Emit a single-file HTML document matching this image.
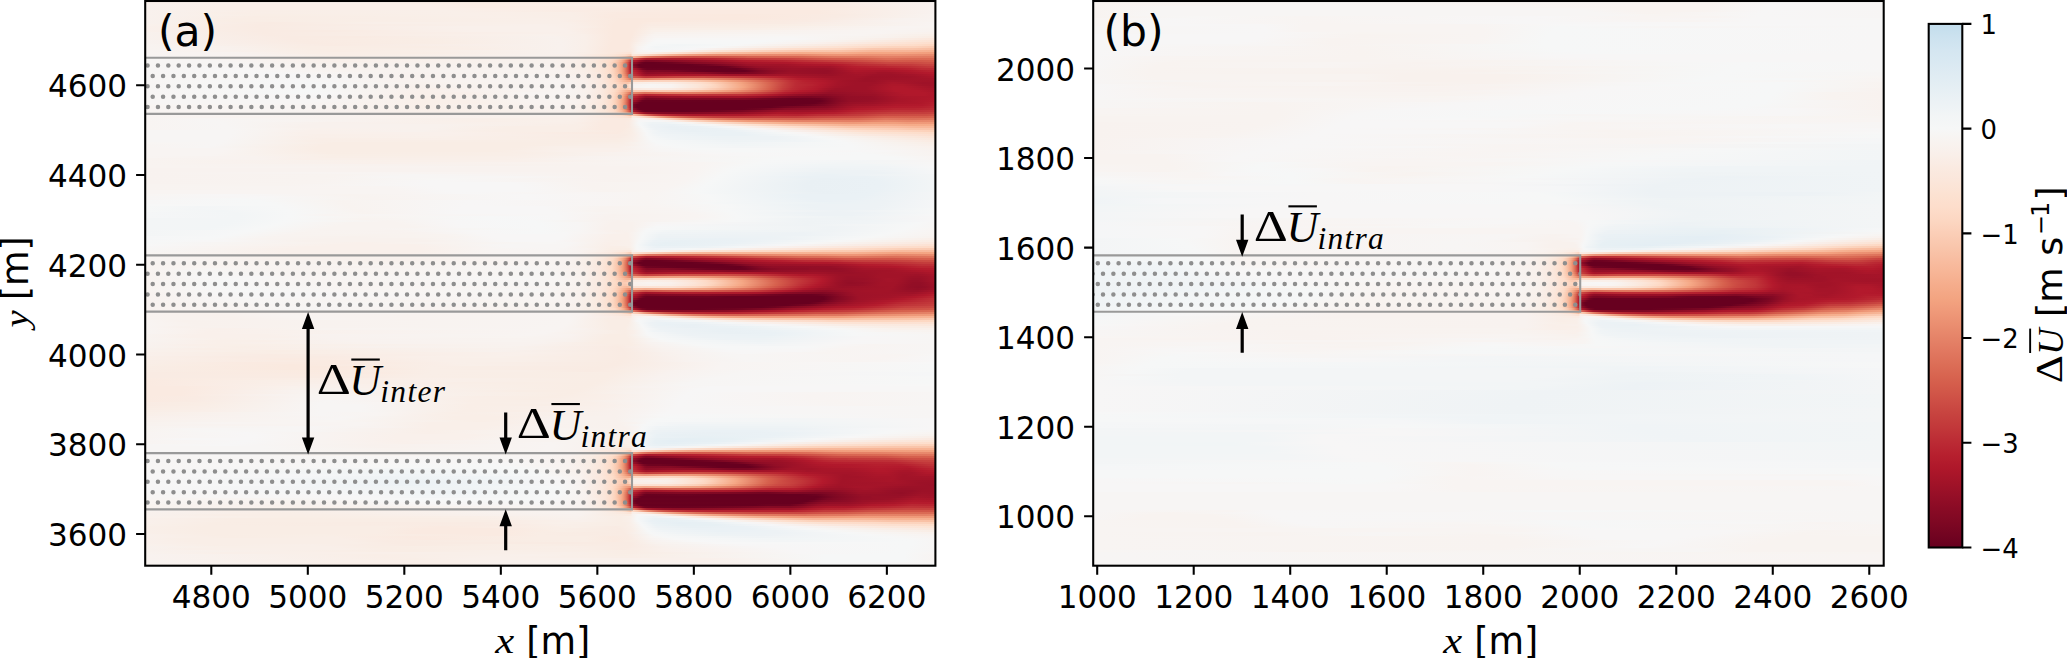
<!DOCTYPE html>
<html><head><meta charset="utf-8"><title>Wake velocity deficit</title>
<style>
html,body{margin:0;padding:0;background:#fff}
#fig{position:relative;width:2067px;height:658px;overflow:hidden;background:#fff}
.hm{position:absolute;overflow:hidden}
.hm i{display:block;height:2px}
#fig svg{position:absolute;left:0;top:0}
</style></head><body>
<div id="fig">
<div class="hm" style="left:145px;top:0;width:791px;height:566px">
<i style="background:linear-gradient(90deg,#f9f0eb 0px,#f9f0eb 220px,#f9ede5 327px,#f9ede5 700px,#f8f2ef 791px)"></i>
<i style="background:linear-gradient(90deg,#f9f0eb 0px,#f9f0eb 199px,#f9ede5 326px,#f9ece4 681px,#f8f2ef 791px)"></i>
<i style="background:linear-gradient(90deg,#f8f1ed 0px,#f9efe9 95px,#f9efe9 281px,#f9ede5 330px,#f9eee7 435px,#f9ebe3 690px,#f8f2ef 791px)"></i>
<i style="background:linear-gradient(90deg,#f8f1ed 0px,#f9efe9 79px,#f9efe9 284px,#f9ede5 338px,#f9ebe3 699px,#f8f2ef 791px)"></i>
<i style="background:linear-gradient(90deg,#f8f1ed 0px,#f9efe9 71px,#f9efe9 291px,#f9ebe3 462px,#faebe2 666px,#f9ede5 722px,#f8f2ef 791px)"></i>
<i style="background:linear-gradient(90deg,#f8f1ed 0px,#f9eee7 112px,#f9efe9 299px,#faeae1 534px,#faeae1 672px,#f8f2ef 791px)"></i>
<i style="background:linear-gradient(90deg,#f8f1ed 0px,#f9eee7 94px,#f9efe9 311px,#f9eee7 425px,#faeae1 475px,#faeae1 674px,#f8f2ef 791px)"></i>
<i style="background:linear-gradient(90deg,#f8f1ed 0px,#f9eee6 121px,#f9efe9 328px,#f9eee7 428px,#faeae1 467px,#fae9df 595px,#f9ebe3 695px,#f8f3f0 791px)"></i>
<i style="background:linear-gradient(90deg,#f8f1ed 0px,#f9ede5 110px,#f9efe9 352px,#f9eee7 431px,#faeae1 463px,#fae9df 609px,#f9ebe3 689px,#f8f3f0 791px)"></i>
<i style="background:linear-gradient(90deg,#f8f1ed 0px,#f9ede5 98px,#f9efe9 393px,#f9eee7 433px,#fae9df 480px,#fae9df 597px,#f9ebe3 679px,#f8f2ef 760px,#f8f3f0 791px)"></i>
<i style="background:linear-gradient(90deg,#f8f1ed 0px,#f9ede5 90px,#f9efe9 413px,#fae9df 473px,#fae9df 494px,#f9ebe3 664px,#f8f2ef 751px,#f8f3f0 791px)"></i>
<i style="background:linear-gradient(90deg,#f8f1ed 0px,#f9ebe3 126px,#f9efe9 230px,#f9efe9 422px,#fae9df 471px,#fae9df 494px,#faebe2 507px,#f9ebe3 638px,#f8f4f2 791px)"></i>
<i style="background:linear-gradient(90deg,#f9f1ec 0px,#f9ebe3 115px,#f9f0eb 391px,#f9efe9 427px,#fae9df 469px,#fae9df 492px,#f9ebe3 503px,#f9eee6 655px,#f8f4f2 791px)"></i>
<i style="background:linear-gradient(90deg,#f9f0eb 0px,#f9ebe3 112px,#f9f0eb 314px,#f9f0eb 409px,#f9eee7 441px,#fae9df 468px,#fae9df 491px,#f9ede5 506px,#f9eee6 611px,#f8f4f2 760px,#f8f4f1 791px)"></i>
<i style="background:linear-gradient(90deg,#f9f0eb 0px,#f9ebe3 117px,#f9f0eb 321px,#f9f0eb 418px,#fae9df 468px,#fae9df 489px,#f9efe8 509px,#f9efe8 595px,#f8f4f2 748px,#f8f3f0 791px)"></i>
<i style="background:linear-gradient(90deg,#f9f0eb 0px,#f9ebe3 115px,#f9ebe3 184px,#f9f0eb 329px,#f9f0eb 423px,#fae9df 468px,#fae9df 488px,#f9f0ea 507px,#f8f4f2 729px,#f8f2ef 791px)"></i>
<i style="background:linear-gradient(90deg,#f8f1ed 0px,#f9ebe3 120px,#f9f0eb 426px,#fae9df 468px,#fae9df 487px,#f8f2ee 511px,#f8f4f2 734px,#f9f1ec 791px)"></i>
<i style="background:linear-gradient(90deg,#f8f1ed 0px,#f9ebe3 127px,#f9f1ec 405px,#f9efe9 439px,#fae9df 468px,#fae9df 487px,#f8f3f0 508px,#f8f5f3 624px,#f8f4f2 718px,#f9efe8 791px)"></i>
<i style="background:linear-gradient(90deg,#f8f1ed 0px,#f9ebe3 142px,#f9ebe3 213px,#f8f1ed 409px,#f9efe9 440px,#fae9df 467px,#fae9df 486px,#f8f2ef 503px,#f8f4f2 510px,#f7f6f5 644px,#f8f2ee 741px,#faece3 791px)"></i>
<i style="background:linear-gradient(90deg,#f8f1ed 0px,#f9ebe3 148px,#f9ede5 275px,#f8f1ed 413px,#f9efe9 440px,#fae9df 467px,#fae9df 485px,#f8f2ef 501px,#f7f6f5 512px,#f7f6f6 650px,#f8f2ee 717px,#fbe7dc 791px)"></i>
<i style="background:linear-gradient(90deg,#f8f2ef 0px,#f9ebe3 155px,#f9ede5 283px,#f8f1ed 415px,#f9efe9 441px,#fae9df 467px,#fae9df 485px,#f8f2ef 499px,#f7f7f7 510px,#f6f7f7 618px,#f8f2ee 692px,#fce3d4 791px)"></i>
<i style="background:linear-gradient(90deg,#f8f2ef 0px,#f9ebe3 167px,#f9ede5 288px,#f8f1ed 416px,#f9efe9 441px,#fae9df 466px,#fae9df 484px,#f9f1ec 494px,#f6f7f7 507px,#f6f7f7 607px,#f9f1ed 670px,#fddecc 791px)"></i>
<i style="background:linear-gradient(90deg,#f8f3f0 0px,#f9ebe3 186px,#f8f1ed 417px,#f9efe9 441px,#fae9df 466px,#fae9df 484px,#f9f1ec 492px,#f6f7f7 504px,#f2f5f6 533px,#f6f7f7 591px,#fae9df 691px,#fce2d3 722px,#fdddca 769px,#fdd6c0 791px)"></i>
<i style="background:linear-gradient(90deg,#f8f3f0 0px,#f8f1ed 77px,#f9ede5 153px,#f9ede5 278px,#f8f1ed 416px,#f9efe9 440px,#fae9df 465px,#fae9df 484px,#f8f3f0 493px,#f6f7f7 502px,#f2f5f6 511px,#f6f7f7 569px,#fde0cf 703px,#fcd5bf 745px,#fcd2bb 770px,#fac9b0 791px)"></i>
<i style="background:linear-gradient(90deg,#f8f3f0 0px,#f8f2ef 64px,#f9ede5 167px,#f9eee7 324px,#f8f1ed 416px,#f9efe9 440px,#fae9df 464px,#fae9df 480px,#faeae1 486px,#f8f2ef 492px,#f7f6f6 499px,#f3f5f6 514px,#f6f6f7 547px,#fddfce 644px,#fdd7c2 695px,#fac8af 728px,#f9c4aa 767px,#f8bca0 791px)"></i>
<i style="background:linear-gradient(90deg,#f8f4f2 0px,#f9ede5 191px,#f8f1ed 417px,#f9efe9 440px,#fae9df 462px,#fae8dd 483px,#fae9e0 486px,#f8f3f0 493px,#f6f6f7 511px,#f8f3f0 535px,#fbe5d8 570px,#facab1 645px,#fac6ac 661px,#f9c5ab 692px,#f7b799 727px,#f7b597 764px,#f6ae8d 791px)"></i>
<i style="background:linear-gradient(90deg,#f8f4f2 0px,#f8f2ef 93px,#f9eee7 167px,#f9eee7 274px,#f8f1ed 416px,#f9eee7 444px,#fce4d6 484px,#fce4d6 486px,#f9ebe3 487px,#f9efe8 490px,#f9f1ec 496px,#f9f1ec 504px,#fce3d5 531px,#f9c5ab 572px,#f7b394 620px,#f5ad8c 655px,#f6b090 695px,#f4a684 723px,#f4a684 753px,#f19d7c 791px)"></i>
<i style="background:linear-gradient(90deg,#f8f4f2 0px,#f8f2ef 105px,#f9eee7 196px,#f8f1ed 394px,#f9f0eb 429px,#fbe6d9 468px,#fddecc 480px,#fbd1ba 486px,#fbe6da 487px,#fbe4d7 492px,#fbdece 498px,#f8bda1 519px,#f5af91 529px,#f1a283 540px,#ec9274 562px,#ea8e71 574px,#e88a6d 657px,#ed9475 680px,#ed9576 703px,#ec9173 714px,#ec9274 753px,#e88a6d 791px)"></i>
<i style="background:linear-gradient(90deg,#f7f5f4 0px,#f9efe9 174px,#f8f1ed 388px,#f9efe9 434px,#fbe7db 460px,#fddecc 472px,#fdd9c4 475px,#fac7ae 480px,#f8bda0 482px,#f09f7f 486px,#f8ba9d 487px,#f5b194 490px,#e6866a 499px,#e37e65 501px,#dd705b 507px,#d1584b 526px,#ce4f45 549px,#cf5247 573px,#d55d4d 601px,#d6604f 602px,#d96652 653px,#e0775f 689px,#e17960 724px,#e47f65 739px,#e17a61 791px)"></i>
<i style="background:linear-gradient(90deg,#f7f5f4 0px,#f9f0ea 190px,#f8f1ed 406px,#f9efe9 431px,#fae8dd 454px,#fcdfce 466px,#fdd9c5 470px,#fcd0b8 473px,#f8bda0 477px,#f4a988 480px,#ee9677 482px,#e27c62 484px,#d35a4c 486px,#c43c3c 493px,#bb2b34 496px,#b0202f 499px,#a91b2c 502px,#a9182b 512px,#ac192b 534px,#b72230 569px,#c2393a 602px,#c8423f 645px,#d25649 678px,#d6604e 716px,#dc6e58 743px,#da6a54 760px,#db6b55 791px)"></i>
<i style="background:linear-gradient(90deg,#f7f5f4 0px,#f7f5f4 66px,#f9f0eb 190px,#f8f1ed 407px,#f9efe9 431px,#fae9df 449px,#fdddcb 465px,#fdd8c3 468px,#f9c4aa 473px,#f6ad8c 477px,#f09a7a 479px,#df735c 482px,#ce5045 484px,#b82331 486px,#b11c2d 487px,#ab162a 491px,#8d0c26 496px,#7c0723 501px,#a41429 575px,#b41c2d 598px,#b92531 638px,#d45c4b 745px,#d3594a 772px,#d55d4c 791px)"></i>
<i style="background:linear-gradient(90deg,#f7f5f4 0px,#f7f5f4 82px,#f8f1ed 175px,#f8f1ed 411px,#f9efe9 431px,#fae9df 449px,#fbe3d4 459px,#fddcc9 465px,#fac9b0 471px,#f7b99c 474px,#f4a582 477px,#e48166 480px,#ce4f45 483px,#b72230 485px,#a21329 486px,#960f27 487px,#8c0c25 491px,#6f0320 496px,#67001f 499px,#67001f 509px,#6f0320 526px,#850a24 551px,#8f0d26 570px,#a8152a 603px,#af182b 644px,#b51e2e 657px,#b92531 683px,#ca4842 741px,#cb4a43 767px,#ce5146 783px,#ce4f45 791px)"></i>
<i style="background:linear-gradient(90deg,#f7f5f4 0px,#f7f5f4 96px,#f8f1ed 216px,#f8f2ef 389px,#f8f1ed 416px,#f9ede5 441px,#fbe6da 455px,#fcdfcf 462px,#fcd7c2 467px,#f9c4a9 472px,#f5aa89 476px,#e98b6e 479px,#dc6e57 481px,#cb4942 483px,#b41b2d 485px,#991027 486px,#860a24 487px,#7e0823 490px,#67001f 494px,#67001f 544px,#700321 561px,#9c1128 602px,#a11328 615px,#a11328 638px,#ab162a 659px,#af182b 686px,#b51c2d 696px,#bc2b34 713px,#c03438 741px,#c2373a 742px,#c43b3c 766px,#c84440 780px,#c84440 791px)"></i>
<i style="background:linear-gradient(90deg,#f7f5f4 0px,#f7f6f6 59px,#f8f2ef 190px,#f8f2ef 404px,#f9ede5 442px,#fae8de 452px,#fcdfcf 462px,#fddbc7 466px,#f9c4a9 472px,#f5aa89 476px,#e98b6e 479px,#dc6e57 481px,#cb4942 483px,#b41b2d 485px,#991027 486px,#900d26 487px,#900d26 488px,#870a24 490px,#6f0320 494px,#67001f 496px,#67001f 575px,#6f0320 584px,#870a24 598px,#960f27 612px,#a11328 655px,#a21329 685px,#b51c2d 707px,#bd2d35 764px,#c3393b 784px,#c13639 791px)"></i>
<i style="background:linear-gradient(90deg,#f7f5f4 0px,#f7f6f6 81px,#f8f2ef 222px,#f8f2ef 413px,#f9ede5 443px,#fbe6da 456px,#fddbc7 466px,#f9c4a9 472px,#f7b99c 474px,#f3a481 477px,#e37e64 480px,#d55d4c 482px,#c03539 484px,#b41c2d 485px,#9b1127 486px,#ac172b 487px,#a81529 489px,#a11328 491px,#730421 498px,#6a0120 502px,#67001f 592px,#890b25 614px,#950f27 629px,#9b1127 649px,#981027 678px,#9e1228 689px,#ad172a 702px,#b2192c 711px,#b31a2c 746px,#b72230 766px,#bc2b34 777px,#bc2c35 791px)"></i>
<i style="background:linear-gradient(90deg,#f7f5f4 0px,#f7f6f6 100px,#f8f3f0 198px,#f8f3f0 399px,#f8f2ef 418px,#f9eee7 441px,#fbe4d6 459px,#fdddcb 465px,#fcd3bc 469px,#f8bfa4 473px,#f6b394 475px,#f3a481 477px,#ea8e70 479px,#cd4e45 483px,#b7212f 485px,#9e1228 486px,#b92531 487px,#b61f2f 490px,#af182b 492px,#8c0c25 498px,#800823 502px,#820923 514px,#7f0823 515px,#7d0723 527px,#700321 544px,#67001f 563px,#67001f 600px,#7e0823 614px,#8c0c25 626px,#991027 646px,#960f27 683px,#ad172a 710px,#a8152a 739px,#b1182b 764px,#b72230 784px,#b72230 791px)"></i>
<i style="background:linear-gradient(90deg,#f7f5f4 0px,#f7f6f6 122px,#f8f2ef 262px,#f8f3f0 409px,#f9efe9 439px,#fae8de 454px,#fcdfce 464px,#fcd7c2 468px,#f9c2a7 473px,#f5a785 477px,#e58368 480px,#cf5247 483px,#ba2833 485px,#a8152a 486px,#be2f36 487px,#b82431 491px,#b31a2c 493px,#950f27 499px,#8d0c26 502px,#920e26 515px,#900d26 544px,#880b25 561px,#770522 582px,#770522 593px,#7f0823 609px,#950f27 633px,#9b1127 645px,#960f27 681px,#a81529 711px,#a41429 731px,#a11328 732px,#a11328 745px,#b2192c 780px,#b41b2d 791px)"></i>
<i style="background:linear-gradient(90deg,#f7f5f4 0px,#f7f6f6 148px,#f8f2ef 264px,#f8f4f1 393px,#f9f0eb 437px,#fbe5d8 459px,#fcdecd 465px,#fcd5bf 469px,#f7b89b 475px,#f2a17f 478px,#e98a6d 480px,#dc6e57 482px,#cc4b43 484px,#b61f2f 486px,#c2373a 487px,#c2373a 488px,#b92632 493px,#ab162a 497px,#9f1228 501px,#ab162a 529px,#ab182b 563px,#a21329 586px,#9f1228 610px,#a41429 640px,#9b1127 687px,#a21328 699px,#a41429 718px,#9e1228 729px,#9e1228 747px,#a41429 768px,#b0182b 791px)"></i>
<i style="background:linear-gradient(90deg,#f7f5f4 0px,#f7f6f6 169px,#f8f2ef 263px,#f8f4f2 402px,#f8f2ef 429px,#f9efe9 442px,#fae7dc 457px,#fcdfce 465px,#fcd4be 470px,#f8bca0 475px,#f2a07e 479px,#dd6f59 483px,#c53e3d 486px,#d2594b 487px,#d2594b 488px,#cc4c44 493px,#c3393a 498px,#c03338 501px,#c84440 531px,#c94641 560px,#c7433f 561px,#c7413f 572px,#c03338 602px,#b7212f 633px,#ab162a 652px,#a11328 680px,#a21328 713px,#9c1127 726px,#9f1228 764px,#aa162a 791px)"></i>
<i style="background:linear-gradient(90deg,#f7f5f4 0px,#f7f6f6 182px,#f8f2ef 259px,#f8f4f2 411px,#f9f0eb 440px,#fae8de 456px,#fddac6 469px,#fac7ae 474px,#f7b292 478px,#f4a684 480px,#dd715a 486px,#ee987a 487px,#ed9779 491px,#e7866a 500px,#eb8f72 514px,#ec9274 541px,#e7886c 562px,#da6a55 593px,#c43c3c 631px,#bb2933 642px,#b51c2d 653px,#b0182b 670px,#a41429 688px,#a21328 708px,#9c1127 721px,#a41429 791px)"></i>
<i style="background:linear-gradient(90deg,#f7f5f4 0px,#f6f7f7 155px,#f8f2ef 255px,#f8f4f2 416px,#f9f0eb 441px,#fae8de 457px,#fdddcb 468px,#fbcdb6 474px,#f6af8e 482px,#f4a989 485px,#f4aa8a 486px,#fbd5c0 487px,#fbd1bb 497px,#fbd4c0 510px,#fbd4bf 528px,#facbb3 547px,#f6af8e 575px,#f09d7c 586px,#ec9173 594px,#da6953 616px,#be2f36 646px,#b7212f 658px,#b0182b 678px,#a21328 698px,#9c1127 720px,#9c1127 728px,#a41429 743px,#a11328 791px)"></i>
<i style="background:linear-gradient(90deg,#f7f5f4 0px,#f6f7f7 166px,#f8f2ee 278px,#f8f4f2 419px,#f9f0eb 442px,#fae7dc 459px,#fddcc9 470px,#fbcab2 477px,#f9c5ab 482px,#facab1 484px,#fcd5c1 486px,#faece4 487px,#f9efe9 506px,#faece4 528px,#fddecd 556px,#fdd7c2 564px,#fac5ab 576px,#f3a481 596px,#d86450 624px,#c13639 644px,#bb2a34 651px,#b82531 657px,#b3192c 678px,#a51429 693px,#9f1228 709px,#9f1228 730px,#aa162a 748px,#9f1228 778px,#9f1228 791px)"></i>
<i style="background:linear-gradient(90deg,#f7f5f4 0px,#f6f7f7 171px,#f8f1ed 272px,#f8f4f2 422px,#f9f0eb 443px,#fae7dc 460px,#fddbc7 472px,#fbcfb8 478px,#fbcfb8 481px,#fddbc8 484px,#fbe7db 486px,#f8f2ef 487px,#f7f5f4 506px,#f8f3f0 526px,#fbe6d9 552px,#fddcc9 565px,#fcd4be 571px,#f5a886 596px,#eb9172 607px,#dc6e57 621px,#c53e3d 640px,#bb2a34 651px,#b72230 667px,#b3192c 676px,#a51429 692px,#9f1228 709px,#9f1228 725px,#ad172a 746px,#ad172a 758px,#a21328 777px,#9f1228 791px)"></i>
<i style="background:linear-gradient(90deg,#f7f5f4 0px,#f6f7f7 173px,#f8f1ed 264px,#f8f4f2 423px,#f8f1ed 440px,#fae7dc 460px,#fddbc7 472px,#fcd2bb 476px,#fbceb7 479px,#fbceb7 481px,#fcd5bf 483px,#fbe5d8 486px,#f8f2ee 487px,#f8f3f0 488px,#f8f5f3 502px,#f8f3f0 526px,#fbe6d9 552px,#fcd4be 571px,#f3a481 599px,#d86551 624px,#c6413e 638px,#bb2a34 650px,#b2192c 675px,#a41429 689px,#9f1228 702px,#9f1228 721px,#b0182b 749px,#b0182b 758px,#a11328 791px)"></i>
<i style="background:linear-gradient(90deg,#f7f5f4 0px,#f6f7f7 170px,#f9f0eb 292px,#f8f4f2 373px,#f8f4f2 424px,#f9f0eb 444px,#fae7dc 460px,#fddbc7 471px,#fbcab2 477px,#f9c3a8 481px,#fac5ab 484px,#fbd1ba 486px,#faeae1 487px,#faece5 508px,#faebe3 525px,#fddcca 556px,#f9c2a7 577px,#f4a583 595px,#d7624e 624px,#c53d3d 638px,#bc2c35 647px,#b82431 655px,#b2192c 672px,#a71529 680px,#9e1228 691px,#9f1228 721px,#b1182b 748px,#b1182b 762px,#a51429 791px)"></i>
<i style="background:linear-gradient(90deg,#f7f5f4 0px,#f6f7f7 164px,#f9f0eb 275px,#f8f4f2 424px,#f9f0eb 444px,#fae8de 458px,#fdddca 469px,#fcd2bb 473px,#f4a887 483px,#f2a181 485px,#f1a181 486px,#fbccb4 487px,#fbccb4 491px,#fac6ac 499px,#fbcbb3 513px,#fac7ae 539px,#f5ae8d 570px,#ec9374 591px,#dd6f59 611px,#d35b4b 620px,#bd2d35 641px,#b51c2d 655px,#ae172b 669px,#9b1127 686px,#9f1228 725px,#b1182b 751px,#b1182b 773px,#a81529 791px)"></i>
<i style="background:linear-gradient(90deg,#f7f5f4 0px,#f6f7f7 150px,#f7f6f6 185px,#f9f0eb 268px,#f9f0eb 323px,#f8f4f2 380px,#f8f4f2 423px,#f8f1ed 440px,#fae8de 458px,#fddbc7 469px,#fbcdb6 473px,#f7b394 478px,#f09c7b 481px,#d96854 486px,#e8896d 487px,#e7886c 490px,#de725b 500px,#e47f65 523px,#e47f65 547px,#de735c 572px,#d66250 595px,#cb4b43 613px,#b61f2f 639px,#ad172a 649px,#950f27 684px,#9e1228 728px,#b1182b 758px,#b1182b 779px,#ab162a 791px)"></i>
<i style="background:linear-gradient(90deg,#f7f5f4 0px,#f7f6f6 179px,#f9f0eb 263px,#f9f0eb 329px,#f8f4f2 385px,#f8f4f2 421px,#f8f1ed 440px,#fae7dc 459px,#fcdfcf 466px,#fddac6 469px,#f9c5ab 474px,#f6b293 477px,#f2a17f 479px,#dd6f59 483px,#c43c3c 486px,#cc4b43 487px,#ca4842 489px,#c6403e 492px,#bd2d35 496px,#b52330 500px,#bc2a34 516px,#c03539 543px,#be3037 597px,#b6202f 618px,#aa162a 632px,#a41429 635px,#930e26 654px,#8a0b25 679px,#981027 707px,#9b1127 730px,#aa162a 748px,#b0182b 763px,#b1182b 779px,#ab162a 791px)"></i>
<i style="background:linear-gradient(90deg,#f7f5f4 0px,#f7f6f6 168px,#f9efe9 288px,#f8f4f2 418px,#f9f0eb 443px,#fbe6da 460px,#fdd9c4 469px,#f9c2a7 474px,#f6ae8d 477px,#f09b7a 479px,#d6604e 483px,#b61f2f 486px,#bb2b34 487px,#b41d2e 492px,#a51429 495px,#8c0c25 501px,#991027 527px,#991027 536px,#9c1128 537px,#a11329 595px,#9c1128 609px,#7d0723 646px,#790622 665px,#7f0823 681px,#930e26 702px,#960f27 727px,#ab162a 757px,#ae172a 791px)"></i>
<i style="background:linear-gradient(90deg,#f7f5f4 0px,#f7f6f6 145px,#f9efe9 281px,#f8f4f2 410px,#f9f0eb 442px,#fbe5d8 461px,#fdddcb 467px,#fcd5bf 470px,#f9c6ac 473px,#f3a380 478px,#e8896c 480px,#db6a54 482px,#bc2c35 485px,#ab162a 486px,#b11a2c 487px,#ad172a 490px,#850a24 497px,#780622 500px,#750521 502px,#7f0823 527px,#7d0723 599px,#6c0220 632px,#67001f 652px,#69011f 667px,#6d0220 675px,#8d0c25 697px,#930e26 704px,#960f27 729px,#a81529 754px,#b0182b 791px)"></i>
<i style="background:linear-gradient(90deg,#f7f5f4 0px,#f7f5f4 175px,#f9efe9 278px,#f9efe9 318px,#f8f3f0 381px,#f8f3f0 424px,#f9f0eb 441px,#fae8de 457px,#fcdecd 466px,#fcd3bc 470px,#f8bfa4 474px,#f2a17f 478px,#e17860 481px,#d05447 483px,#b92732 485px,#a51429 486px,#930e26 491px,#6d0220 497px,#69011f 499px,#67001f 675px,#840924 691px,#930e26 704px,#981027 726px,#a81529 754px,#b3192c 791px)"></i>
<i style="background:linear-gradient(90deg,#f7f5f4 0px,#f7f5f4 158px,#f9efe9 278px,#f9efe9 322px,#f8f3f0 390px,#f8f2ef 429px,#f9f0eb 440px,#fae7dc 458px,#fcdecd 466px,#fcd3bc 470px,#f7b99c 475px,#f5a988 477px,#e6866a 480px,#cf5246 483px,#b82531 485px,#a21328 486px,#890b25 487px,#850a24 489px,#67001f 495px,#67001f 670px,#750521 681px,#8f0d26 696px,#981027 705px,#9e1228 730px,#aa162a 750px,#ae172a 774px,#b51e2e 791px)"></i>
<i style="background:linear-gradient(90deg,#f8f5f3 0px,#f8f4f2 184px,#f9efe9 280px,#f8f3f0 413px,#f9efe9 442px,#fae8de 456px,#fcdfcf 465px,#fcd7c2 469px,#facab1 472px,#f6b191 476px,#f19e7d 478px,#e6866a 480px,#d86551 482px,#b82531 485px,#a21328 486px,#7b0722 487px,#760522 489px,#67001f 492px,#67001f 648px,#6f0320 666px,#7c0723 679px,#981027 699px,#a11328 710px,#a41429 727px,#b0182b 751px,#b2192c 777px,#b7212f 791px)"></i>
<i style="background:linear-gradient(90deg,#f8f4f2 0px,#f8f4f2 169px,#f9efe9 284px,#f8f2ef 420px,#f9ede5 447px,#fae7dc 457px,#fcdfcf 465px,#fcd7c2 469px,#facab1 472px,#f6b191 476px,#f2a07e 478px,#e6866a 480px,#d86551 482px,#d05447 483px,#b92732 485px,#a41429 486px,#7b0722 487px,#760522 489px,#67001f 492px,#67001f 626px,#790622 646px,#8a0b25 682px,#a41429 704px,#aa162a 714px,#b41b2d 748px,#b51e2e 776px,#b92732 791px)"></i>
<i style="background:linear-gradient(90deg,#f8f4f2 0px,#f8f4f2 148px,#f9efe9 290px,#f8f2ee 416px,#f9f0eb 435px,#f9ede5 446px,#fae7dc 457px,#fcdfcf 465px,#fddbc7 468px,#fbcbb3 472px,#f9c1a6 474px,#f3a481 478px,#ef9979 479px,#dc6e57 482px,#ca4741 484px,#af182b 486px,#8a0b25 487px,#820923 490px,#6d0220 493px,#67001f 495px,#67001f 598px,#6f0320 614px,#8a0b25 640px,#960f27 682px,#b1182b 711px,#b51c2d 731px,#b92531 750px,#b92531 769px,#bc2c35 791px)"></i>
<i style="background:linear-gradient(90deg,#f8f4f2 0px,#f8f4f2 129px,#f9efe9 301px,#f8f1ed 424px,#f9ede5 446px,#fbe5d7 461px,#fdddca 468px,#fcd5bf 471px,#f7b698 477px,#f09c7b 480px,#eb9072 481px,#d6604e 484px,#c13639 486px,#a8152a 487px,#a41429 489px,#700321 497px,#67001f 500px,#67001f 538px,#6f0320 574px,#7a0622 595px,#9b1128 634px,#9f1228 663px,#a8152a 689px,#b51c2d 704px,#b72230 713px,#be3037 750px,#be3037 775px,#c13639 791px)"></i>
<i style="background:linear-gradient(90deg,#f8f4f2 0px,#f8f4f2 118px,#f9f0ea 309px,#f8f1ed 421px,#f9ede5 447px,#fbe6d9 462px,#fce1d1 468px,#fdd8c3 473px,#fac7ae 477px,#f7b698 480px,#f3a685 482px,#e48166 485px,#d56051 487px,#c03338 493px,#ad212f 496px,#9d1228 499px,#910e26 502px,#850a24 511px,#800823 524px,#820924 545px,#930e26 595px,#ad172a 634px,#ab162a 653px,#af182b 667px,#b51e2e 691px,#bc2b34 707px,#c43d3c 746px,#c53e3d 779px,#c7433f 791px)"></i>
<i style="background:linear-gradient(90deg,#f8f4f2 0px,#f8f4f2 112px,#f9f0eb 271px,#f8f1ed 414px,#f9efe9 440px,#fae8dd 463px,#fdddcb 476px,#fcd6c1 479px,#fbcbb2 482px,#f6b394 486px,#facab2 487px,#fac8af 488px,#f4b094 492px,#e58267 498px,#dd715d 500px,#d55f52 503px,#c94742 509px,#bf3137 516px,#ba2b34 520px,#af1f2e 532px,#aa172b 549px,#ae192b 597px,#b92531 630px,#b72230 653px,#bd2e35 674px,#be3037 689px,#c43d3c 717px,#cc4b43 738px,#cd4e44 782px,#d05447 791px)"></i>
<i style="background:linear-gradient(90deg,#f8f4f2 0px,#f9f0eb 431px,#fbe7dc 471px,#fce1d2 482px,#fcdbc8 486px,#faece3 487px,#faebe3 490px,#fce3d5 496px,#fad3be 502px,#f9bfa3 508px,#efa184 515px,#e8896c 522px,#e0765e 528px,#d76453 535px,#cf5247 545px,#c53e3d 569px,#c3393b 587px,#c43c3c 617px,#c53f3d 619px,#c43c3c 651px,#c94541 673px,#ce4f45 714px,#d6604e 740px,#d55f4d 780px,#d86450 791px)"></i>
<i style="background:linear-gradient(90deg,#f8f4f2 0px,#f7f5f4 57px,#f9efe9 346px,#f9f0eb 425px,#fae8de 481px,#fae9df 486px,#f9efe9 487px,#f8f3f0 491px,#f8f4f2 497px,#f9efea 507px,#fbe4d6 517px,#f7b799 537px,#ed9476 553px,#e58267 565px,#dd6f59 584px,#d86552 605px,#d45d4d 660px,#d76350 677px,#d96651 712px,#e0765e 741px,#dd715a 769px,#e0765e 791px)"></i>
<i style="background:linear-gradient(90deg,#f8f4f2 0px,#f7f5f4 69px,#f9efe9 337px,#f9f0ea 415px,#f9efe9 434px,#faeae1 460px,#faeae1 480px,#faebe2 484px,#f7f6f6 494px,#f4f6f7 513px,#f8f2ef 526px,#fbe8dd 537px,#fbcfb8 557px,#f6b191 578px,#ef9979 603px,#e58267 652px,#e47f65 715px,#e98c6e 741px,#e68569 765px,#e8896c 791px)"></i>
<i style="background:linear-gradient(90deg,#f8f4f2 0px,#f7f5f4 76px,#f8f1ed 176px,#f9efe9 427px,#faeae1 459px,#faeae1 479px,#f9ebe3 484px,#f6f7f7 494px,#eef3f5 507px,#eef3f5 521px,#f3f6f7 535px,#f8f4f1 547px,#fce1d2 573px,#f9c1a5 609px,#f6af8e 637px,#f4a988 649px,#ef9979 708px,#f19f7d 728px,#f19f7d 750px,#ef9979 762px,#f09a7a 791px)"></i>
<i style="background:linear-gradient(90deg,#f8f4f2 0px,#f7f5f4 81px,#f8f1ed 161px,#f8f1ed 293px,#f9eee7 437px,#faeae1 457px,#faeae1 479px,#f9ebe3 484px,#f6f7f7 495px,#edf2f5 506px,#eaf1f5 528px,#f3f6f7 558px,#f7f5f3 569px,#fddecb 614px,#fac9b0 645px,#f6b292 700px,#f6b191 743px,#f5ab89 765px,#f6ac8a 791px)"></i>
<i style="background:linear-gradient(90deg,#f8f4f2 0px,#f7f5f4 84px,#f8f1ed 153px,#f8f1ed 291px,#f9eee7 368px,#f9eee7 433px,#faeae1 456px,#faeae1 479px,#f9ebe3 484px,#f6f7f7 497px,#edf2f5 507px,#e9f0f4 524px,#eaf1f5 554px,#f4f6f7 582px,#f8f4f2 596px,#fddfce 647px,#f9c5ab 705px,#f9bfa3 749px,#f8b89a 771px,#f8b89a 791px)"></i>
<i style="background:linear-gradient(90deg,#f8f4f2 0px,#f7f5f4 86px,#f9f1ec 173px,#f8f1ed 285px,#f9eee7 358px,#f9eee7 429px,#faeae1 456px,#faeae1 478px,#f9ede5 486px,#f6f7f7 499px,#edf2f5 510px,#e9f0f4 532px,#eaf1f5 571px,#f4f6f7 604px,#f8f4f3 618px,#fcd5bf 710px,#fbcbb3 755px,#fac7ad 765px,#fac5ab 791px)"></i>
<i style="background:linear-gradient(90deg,#f7f5f4 0px,#f7f5f4 87px,#f9f0eb 166px,#f8f1ed 270px,#f9eee7 351px,#f9eee7 423px,#faeae1 476px,#f9ede5 486px,#f6f7f7 500px,#edf2f5 516px,#e9f0f4 547px,#eaf1f5 586px,#f6f6f7 628px,#fddfce 716px,#fcd0b8 791px)"></i>
<i style="background:linear-gradient(90deg,#f7f5f4 0px,#f7f5f4 87px,#f9f0eb 156px,#f9f0eb 307px,#faeae1 472px,#f9ede5 486px,#f6f7f7 502px,#f0f4f6 510px,#edf2f5 523px,#eaf1f5 561px,#eaf1f5 596px,#f6f7f7 642px,#f8f5f4 656px,#fbe5d7 723px,#fddbc7 791px)"></i>
<i style="background:linear-gradient(90deg,#f7f5f4 0px,#f7f5f4 85px,#f9efe9 173px,#f9f0eb 294px,#f9ebe3 480px,#f9efe9 490px,#f6f7f7 502px,#f0f4f6 514px,#eaf1f5 570px,#eaf1f5 600px,#f6f7f7 660px,#faeae1 720px,#fcdfcf 791px)"></i>
<i style="background:linear-gradient(90deg,#f7f5f4 0px,#f7f5f4 84px,#f9efe9 161px,#f9f0ea 283px,#f9ebe3 475px,#f9eee7 487px,#f6f7f7 504px,#f0f4f6 521px,#ecf2f5 577px,#edf2f5 630px,#f6f7f7 675px,#fbe4d6 791px)"></i>
<i style="background:linear-gradient(90deg,#f7f5f4 0px,#f7f5f4 81px,#f9eee7 178px,#f9efe9 307px,#f9ece4 470px,#f9eee7 486px,#f6f7f7 505px,#f0f4f6 530px,#edf2f5 578px,#edf2f5 628px,#f6f7f7 686px,#fae8dd 791px)"></i>
<i style="background:linear-gradient(90deg,#f7f5f4 0px,#f7f5f4 78px,#f9eee7 167px,#f9ede5 473px,#f9efe9 488px,#f6f7f7 508px,#eef3f5 589px,#f0f4f6 652px,#f6f7f7 695px,#faebe2 791px)"></i>
<i style="background:linear-gradient(90deg,#f8f5f3 0px,#f7f5f4 74px,#f9ede5 188px,#f9ede5 391px,#f9eee7 478px,#f6f7f7 512px,#f0f4f6 587px,#f6f7f7 701px,#f9eee6 791px)"></i>
<i style="background:linear-gradient(90deg,#f8f4f2 0px,#f7f5f4 69px,#f9ede5 177px,#f9ede5 384px,#f9efe9 483px,#f7f6f6 511px,#f6f7f7 521px,#f1f5f6 601px,#f6f7f7 705px,#f9efe9 791px)"></i>
<i style="background:linear-gradient(90deg,#f8f4f2 0px,#f7f5f4 62px,#f9ede5 172px,#f9ede5 376px,#f9efe9 411px,#f9efe9 474px,#f7f5f4 508px,#f6f7f7 533px,#f3f5f6 591px,#f6f7f7 707px,#f9f1ec 791px)"></i>
<i style="background:linear-gradient(90deg,#f8f4f2 0px,#f8f4f2 82px,#f9ede5 171px,#f9ede5 366px,#f9f0eb 428px,#f9f0eb 481px,#f7f5f4 512px,#f6f7f7 554px,#f6f7f7 706px,#f8f2ee 791px)"></i>
<i style="background:linear-gradient(90deg,#f8f4f2 0px,#f8f4f2 77px,#f9ede5 175px,#f9ede5 350px,#f9f0eb 417px,#f9f0eb 469px,#f7f5f4 517px,#f6f7f7 591px,#f7f6f6 737px,#f8f2ef 791px)"></i>
<i style="background:linear-gradient(90deg,#f8f4f2 0px,#f8f4f2 72px,#f9ede5 183px,#f9eee7 379px,#f7f6f6 570px,#f6f7f7 714px,#f8f3f0 791px)"></i>
<i style="background:linear-gradient(90deg,#f8f4f2 0px,#f8f4f2 65px,#f9eee6 193px,#f9eee7 363px,#f7f6f6 592px,#f6f7f7 730px,#f8f3f0 791px)"></i>
<i style="background:linear-gradient(90deg,#f8f4f2 0px,#f8f2ef 110px,#f9eee7 185px,#f9efe9 381px,#f8f2ef 441px,#f6f7f7 647px,#f6f7f7 745px,#f8f4f2 791px)"></i>
<i style="background:linear-gradient(90deg,#f8f3f0 0px,#f8f2ef 112px,#f9efe9 162px,#f9efe9 359px,#f8f2ef 426px,#f6f7f7 635px,#f6f7f7 757px,#f8f4f2 791px)"></i>
<i style="background:linear-gradient(90deg,#f8f3f0 0px,#f9f0ea 251px,#f9f0eb 377px,#f6f7f7 623px,#f3f5f6 722px,#f7f5f4 791px)"></i>
<i style="background:linear-gradient(90deg,#f8f3f0 0px,#f9f0eb 232px,#f8f4f2 557px,#f6f7f7 612px,#f2f5f6 701px,#f7f6f5 791px)"></i>
<i style="background:linear-gradient(90deg,#f8f3f0 0px,#f8f1ed 354px,#f8f4f2 556px,#f6f7f7 602px,#f1f5f6 676px,#f1f5f6 725px,#f7f6f6 791px)"></i>
<i style="background:linear-gradient(90deg,#f8f3f0 0px,#f8f2ef 481px,#f8f4f2 555px,#f6f7f7 595px,#f0f4f6 677px,#f0f4f6 735px,#f7f7f7 791px)"></i>
<i style="background:linear-gradient(90deg,#f8f2ef 0px,#f8f2ef 485px,#f8f4f2 553px,#f6f7f7 589px,#eef3f5 680px,#f0f4f6 748px,#f6f7f7 791px)"></i>
<i style="background:linear-gradient(90deg,#f8f2ef 0px,#f8f2ef 490px,#f8f4f2 552px,#f6f7f7 584px,#edf2f5 686px,#edf2f5 725px,#f5f6f7 791px)"></i>
<i style="background:linear-gradient(90deg,#f8f2ef 0px,#f8f4f2 228px,#f8f2ef 494px,#f8f4f2 550px,#f6f7f7 580px,#ecf2f5 671px,#edf2f5 738px,#f5f6f7 791px)"></i>
<i style="background:linear-gradient(90deg,#f8f2ef 0px,#f8f3f0 196px,#f7f5f4 269px,#f8f2ef 458px,#f8f4f2 548px,#f6f7f7 576px,#eaf1f5 681px,#f3f5f6 791px)"></i>
<i style="background:linear-gradient(90deg,#f8f2ef 0px,#f8f3f0 184px,#f7f5f4 243px,#f7f5f4 375px,#f8f2ef 460px,#f8f4f2 545px,#f6f7f7 573px,#eaf1f5 664px,#eaf1f5 721px,#f3f5f6 791px)"></i>
<i style="background:linear-gradient(90deg,#f8f2ef 0px,#f8f3f0 176px,#f7f6f5 297px,#f8f2ef 463px,#f8f4f2 542px,#f6f7f7 570px,#e9f0f4 679px,#eaf1f5 728px,#f3f5f6 791px)"></i>
<i style="background:linear-gradient(90deg,#f8f2ef 0px,#f8f3f0 170px,#f7f6f6 288px,#f8f2ef 469px,#f8f4f2 539px,#f6f7f7 567px,#e9f0f4 668px,#eaf1f5 733px,#f2f5f6 791px)"></i>
<i style="background:linear-gradient(90deg,#f8f2ef 0px,#f8f3f0 164px,#f7f6f6 282px,#f7f6f6 365px,#f8f3f0 439px,#f8f4f2 535px,#f6f7f7 564px,#e9f0f4 663px,#eaf1f5 735px,#f2f5f6 791px)"></i>
<i style="background:linear-gradient(90deg,#f8f3f0 0px,#f8f3f0 138px,#f7f6f6 285px,#f7f6f6 372px,#f8f3f0 443px,#f8f4f2 530px,#f6f7f7 561px,#e9f0f4 661px,#eaf1f5 736px,#f2f5f6 791px)"></i>
<i style="background:linear-gradient(90deg,#f8f3f0 0px,#f8f4f2 236px,#f7f6f6 290px,#f7f6f6 376px,#f8f3f0 448px,#f8f4f2 525px,#f6f7f7 559px,#e9f0f4 662px,#eaf1f5 734px,#f2f5f6 791px)"></i>
<i style="background:linear-gradient(90deg,#f8f3f0 0px,#f8f4f2 244px,#f7f6f6 297px,#f7f6f6 378px,#f8f3f0 453px,#f8f4f2 519px,#f6f7f7 556px,#e9f0f4 664px,#eaf1f5 732px,#f2f5f6 791px)"></i>
<i style="background:linear-gradient(90deg,#f8f4f2 0px,#f8f4f2 252px,#f7f6f6 304px,#f7f6f6 379px,#f8f3f0 460px,#f8f4f2 513px,#f6f7f7 554px,#e9f0f4 669px,#eaf1f5 729px,#f2f5f6 791px)"></i>
<i style="background:linear-gradient(90deg,#f8f4f2 0px,#f8f4f2 259px,#f7f6f6 311px,#f8f4f2 508px,#f6f7f7 552px,#e9f0f4 679px,#eaf1f5 725px,#f3f5f6 791px)"></i>
<i style="background:linear-gradient(90deg,#f8f5f3 0px,#f7f6f6 83px,#f8f3f0 207px,#f7f6f6 380px,#f8f4f2 504px,#f6f7f7 564px,#eaf1f5 655px,#eaf1f5 721px,#f3f5f6 791px)"></i>
<i style="background:linear-gradient(90deg,#f7f5f4 0px,#f7f6f6 117px,#f8f3f0 221px,#f7f6f6 380px,#f8f4f2 501px,#f6f7f7 565px,#eaf1f5 660px,#eaf1f5 715px,#f3f5f6 791px)"></i>
<i style="background:linear-gradient(90deg,#f7f5f4 0px,#f6f7f7 94px,#f8f3f0 229px,#f7f6f6 382px,#f8f4f2 500px,#f6f7f7 567px,#eaf1f5 667px,#eaf1f5 709px,#f3f5f6 791px)"></i>
<i style="background:linear-gradient(90deg,#f7f6f6 0px,#f6f7f7 114px,#f8f3f0 196px,#f7f6f6 325px,#f8f4f2 501px,#f6f7f7 570px,#eaf1f5 676px,#edf2f5 742px,#f5f6f7 791px)"></i>
<i style="background:linear-gradient(90deg,#f7f6f6 0px,#f6f7f7 125px,#f8f3f0 199px,#f7f6f6 325px,#f8f4f2 503px,#f6f7f7 561px,#ebf2f5 686px,#edf2f5 738px,#f5f6f7 791px)"></i>
<i style="background:linear-gradient(90deg,#f7f7f7 0px,#f6f7f7 132px,#f8f3f0 202px,#f7f6f6 323px,#f8f4f2 507px,#f6f7f7 579px,#ecf2f5 661px,#edf2f5 735px,#f5f6f7 791px)"></i>
<i style="background:linear-gradient(90deg,#f6f7f7 0px,#f3f5f6 54px,#f6f7f7 137px,#f8f3f0 206px,#f7f6f6 320px,#f7f6f6 398px,#f8f3f0 463px,#f8f4f2 514px,#f6f7f7 584px,#ecf2f5 668px,#edf2f5 731px,#f5f6f7 791px)"></i>
<i style="background:linear-gradient(90deg,#f6f7f7 0px,#f3f5f6 47px,#f6f7f7 141px,#f8f3f0 210px,#f7f6f6 317px,#f7f6f6 402px,#f8f3f0 458px,#f8f4f2 524px,#f6f7f7 579px,#ecf2f5 677px,#edf2f5 727px,#f6f7f7 791px)"></i>
<i style="background:linear-gradient(90deg,#f6f7f7 0px,#f2f5f6 77px,#f6f7f7 143px,#f8f3f0 215px,#f7f6f6 314px,#f7f6f6 406px,#f8f3f0 455px,#f8f4f2 536px,#f6f7f7 584px,#edf2f5 693px,#f6f7f7 791px)"></i>
<i style="background:linear-gradient(90deg,#f5f6f7 0px,#f2f5f6 90px,#f6f7f7 145px,#f8f3f0 222px,#f7f6f6 311px,#f7f6f6 410px,#f8f3f0 471px,#f8f4f2 546px,#f6f7f7 588px,#edf2f5 665px,#edf2f5 715px,#f6f7f7 791px)"></i>
<i style="background:linear-gradient(90deg,#f5f6f7 0px,#f2f5f6 94px,#f6f7f7 146px,#f8f4f2 181px,#f7f6f6 412px,#f8f2ef 467px,#f8f4f2 552px,#f6f7f7 591px,#edf2f5 673px,#edf2f5 706px,#f7f7f7 791px)"></i>
<i style="background:linear-gradient(90deg,#f5f6f7 0px,#f2f5f6 95px,#f6f7f7 145px,#f8f4f1 222px,#f6f7f7 347px,#f7f6f6 415px,#f8f2ef 462px,#f8f4f2 554px,#f6f7f7 592px,#eef3f5 700px,#f7f6f6 791px)"></i>
<i style="background:linear-gradient(90deg,#f3f5f6 0px,#f2f5f6 93px,#f6f7f7 142px,#f8f3f0 219px,#f6f7f7 342px,#f7f6f6 416px,#f8f2ef 459px,#f8f4f2 545px,#f6f7f7 592px,#eff3f5 660px,#eff3f5 714px,#f7f6f6 791px)"></i>
<i style="background:linear-gradient(90deg,#f3f5f6 0px,#f2f5f6 89px,#f6f7f7 139px,#f8f3f0 243px,#f7f6f6 310px,#f6f7f7 389px,#f8f1ed 472px,#f6f7f7 588px,#eff3f5 662px,#f0f4f6 725px,#f7f6f6 791px)"></i>
<i style="background:linear-gradient(90deg,#f3f5f6 0px,#f2f5f6 84px,#f6f7f7 134px,#f8f3f0 205px,#f8f3f0 251px,#f7f6f6 312px,#f6f7f7 392px,#f7f5f4 434px,#f8f1ed 467px,#f8f1ed 486px,#f7f5f4 510px,#f7f6f6 554px,#eff3f5 663px,#f0f4f6 719px,#f6f7f7 773px,#f7f5f4 791px)"></i>
<i style="background:linear-gradient(90deg,#f3f5f6 0px,#f2f5f6 78px,#f6f7f7 128px,#f8f3f0 197px,#f8f3f0 260px,#f7f6f6 315px,#f6f7f7 395px,#f7f5f4 434px,#f8f1ed 464px,#f8f1ed 487px,#f7f6f6 513px,#eff3f5 661px,#f6f7f7 768px,#f7f5f4 791px)"></i>
<i style="background:linear-gradient(90deg,#f3f5f6 0px,#f2f5f6 70px,#f6f7f7 120px,#f8f3f0 188px,#f8f3f0 268px,#f7f6f6 319px,#f6f7f7 396px,#f7f5f4 434px,#f8f1ed 462px,#f8f1ed 487px,#f6f7f7 511px,#eff3f5 687px,#f6f7f7 763px,#f7f5f4 791px)"></i>
<i style="background:linear-gradient(90deg,#f3f5f6 0px,#f2f5f6 62px,#f6f7f7 112px,#f8f3f0 178px,#f8f3f0 232px,#f6f7f7 397px,#f7f5f4 434px,#f8f1ed 461px,#f8f1ed 487px,#f6f7f7 504px,#eff3f5 686px,#f6f7f7 758px,#f8f5f3 791px)"></i>
<i style="background:linear-gradient(90deg,#f3f5f6 0px,#f6f7f7 103px,#f8f3f0 166px,#f8f2ef 251px,#f7f6f6 329px,#f6f7f7 396px,#f7f5f4 434px,#f9f0eb 472px,#f8f1ed 487px,#f6f7f7 501px,#f1f5f6 526px,#eff3f5 684px,#f6f7f7 752px,#f8f4f2 791px)"></i>
<i style="background:linear-gradient(90deg,#f3f5f6 0px,#f6f7f7 94px,#f8f3f0 154px,#f8f2ef 267px,#f7f6f6 335px,#f6f7f7 391px,#f7f6f6 421px,#f9f0eb 482px,#f6f7f7 499px,#f0f4f6 517px,#edf2f5 657px,#f6f7f7 745px,#f8f4f1 791px)"></i>
<i style="background:linear-gradient(90deg,#f3f5f6 0px,#f6f7f7 85px,#f8f3f0 141px,#f8f2ee 232px,#f8f3f0 299px,#f7f6f6 341px,#f7f6f6 420px,#f9f0eb 466px,#f9f0eb 483px,#f6f7f7 498px,#eef3f5 514px,#edf2f5 623px,#edf2f5 659px,#f6f7f7 736px,#f8f3f0 791px)"></i>
<i style="background:linear-gradient(90deg,#f5f6f7 0px,#f6f7f7 75px,#f8f3f0 128px,#f8f1ed 208px,#f8f3f0 306px,#f7f6f6 348px,#f7f6f6 418px,#f9f0eb 464px,#f9f0eb 483px,#f6f7f7 497px,#edf2f5 514px,#ecf2f5 628px,#f6f7f7 725px,#f8f2ee 791px)"></i>
<i style="background:linear-gradient(90deg,#f5f6f7 0px,#f6f7f7 65px,#f8f3f0 117px,#f8f1ed 182px,#f8f1ed 271px,#f7f6f6 356px,#f7f6f6 415px,#f9f0eb 462px,#f9f0eb 484px,#f6f7f7 496px,#ebf2f5 514px,#eaf1f5 579px,#edf2f5 641px,#f6f7f7 710px,#f9efe9 791px)"></i>
<i style="background:linear-gradient(90deg,#f6f7f7 0px,#f7f6f6 70px,#f8f1ed 159px,#f8f1ed 281px,#f7f6f6 366px,#f7f6f6 409px,#f9efe9 471px,#f9f0eb 484px,#f6f7f7 494px,#eaf1f5 510px,#e8f0f4 536px,#eaf1f5 595px,#f6f7f7 691px,#faece3 791px)"></i>
<i style="background:linear-gradient(90deg,#f6f7f7 0px,#f9f0eb 216px,#f7f6f5 404px,#f7f5f4 426px,#f9efe9 465px,#f9f0eb 485px,#f6f7f7 493px,#eaf1f5 507px,#e7f0f4 520px,#eaf1f5 588px,#f6f7f7 666px,#fbe7dc 791px)"></i>
<i style="background:linear-gradient(90deg,#f7f7f7 0px,#f9f0eb 189px,#f9f0eb 268px,#f7f5f4 354px,#f7f5f4 423px,#f9efe9 462px,#f9f0eb 485px,#f6f7f7 492px,#eaf1f5 505px,#e7f0f4 516px,#eaf1f5 571px,#f6f6f7 640px,#fce1d2 791px)"></i>
<i style="background:linear-gradient(90deg,#f7f6f6 0px,#f9f0eb 162px,#f9f0eb 274px,#f7f5f4 362px,#f7f5f4 418px,#f9eee7 467px,#f9eee7 479px,#f9f0ea 485px,#f6f7f7 492px,#eaf1f5 511px,#ecf2f5 558px,#f4f6f7 596px,#f9f2ef 632px,#fddecd 753px,#fddac6 791px)"></i>
<i style="background:linear-gradient(90deg,#f7f6f5 0px,#f9f0eb 146px,#f9f0eb 277px,#f8f4f2 342px,#f7f5f4 411px,#f8f2ef 443px,#f9eee6 466px,#f9ede5 484px,#f7f7f7 492px,#eff3f6 507px,#f3f6f7 543px,#f8f3f1 577px,#fddfce 685px,#fdddcb 706px,#fbcfb7 759px,#facab2 791px)"></i>
<i style="background:linear-gradient(90deg,#f7f5f4 0px,#f9f0eb 139px,#f9f0eb 275px,#f8f4f2 346px,#f8f4f2 425px,#f9f0eb 450px,#fbe6da 486px,#f9f0ea 487px,#f9f1ec 488px,#f8f4f2 493px,#f7f5f3 500px,#f8f2ee 518px,#fbe7db 551px,#fcdfce 587px,#fcd5c0 648px,#fbcdb4 680px,#fac9b0 712px,#f8ba9d 755px,#f8b99c 791px)"></i>
<i style="background:linear-gradient(90deg,#f8f5f3 0px,#f9f0eb 138px,#f9f0eb 267px,#f8f4f2 349px,#f8f4f2 418px,#f8f2ef 436px,#fae9e0 466px,#fddfce 480px,#fbcfb7 486px,#fbe7db 487px,#fbe5d9 490px,#fbd7c4 503px,#fac8af 522px,#f8bea2 537px,#f7b799 562px,#f6b394 708px,#f3a483 749px,#f4a684 791px)"></i>
<i style="background:linear-gradient(90deg,#f8f4f2 0px,#f9f0eb 148px,#f9f0eb 244px,#f8f4f2 351px,#f8f2ef 432px,#f9ece4 454px,#fbe6da 465px,#fddecc 473px,#fbd1ba 478px,#f9c2a7 481px,#ee9778 486px,#f2ab8e 487px,#f0a387 490px,#e7876b 497px,#e07760 502px,#da6b57 522px,#dc6d58 554px,#e7866a 611px,#eb9173 653px,#eb9072 672px,#ee9677 695px,#ee9677 711px,#e7876b 752px,#ea8e70 791px)"></i>
<i style="background:linear-gradient(90deg,#f8f4f2 0px,#f9f1ec 172px,#f8f4f2 401px,#f8f2ef 428px,#f9eee7 446px,#fbe7db 460px,#fdddcb 469px,#fdd6c0 472px,#f8bfa3 477px,#f29f7f 481px,#e0775f 484px,#d05448 486px,#cc4b43 487px,#c7433f 490px,#bc2a34 495px,#aa1b2c 501px,#b92632 542px,#c53d3c 580px,#d15548 612px,#da6a55 654px,#dc6e58 682px,#e0765e 699px,#e0765e 714px,#dc6e58 747px,#e0765e 791px)"></i>
<i style="background:linear-gradient(90deg,#f8f4f2 0px,#f8f1ed 125px,#f8f1ed 267px,#f8f4f2 399px,#f8f2ef 426px,#f9ede5 447px,#fae7dc 457px,#fcdfcf 465px,#fddcc8 468px,#fac8af 473px,#f4a785 478px,#ec9173 480px,#e68468 481px,#cf5146 484px,#b72230 486px,#b11c2d 487px,#aa162a 491px,#850a24 498px,#7c0723 501px,#9b1127 540px,#ac172b 572px,#b7212f 595px,#c13639 625px,#ca4741 655px,#cb4a42 677px,#d25649 704px,#d15548 748px,#d6604e 778px,#d6604e 791px)"></i>
<i style="background:linear-gradient(90deg,#f8f3f0 0px,#f8f4f2 46px,#f8f1ed 226px,#f8f4f2 399px,#f8f2ef 426px,#f9eee7 444px,#fbe5d8 459px,#fcdecd 465px,#fcd5bf 469px,#fac8af 472px,#f6b090 476px,#ec9273 479px,#d96651 482px,#c53e3d 484px,#b92531 485px,#a51429 486px,#960f27 487px,#930e26 489px,#860a24 492px,#6f0320 496px,#67001f 499px,#67001f 511px,#700321 529px,#900d26 563px,#af182b 611px,#b61f2f 638px,#bb2b34 658px,#bf3137 693px,#c2373a 699px,#c53e3d 717px,#c6403e 741px,#c94540 764px,#cc4b43 772px,#cc4d44 791px)"></i>
<i style="background:linear-gradient(90deg,#f8f3f0 0px,#f8f4f2 61px,#f8f2ee 204px,#f8f4f2 402px,#f8f2ef 426px,#f9eee7 444px,#fae7dc 456px,#fcdfcf 464px,#fddbc7 467px,#f9c2a7 473px,#f09c7b 478px,#de725b 481px,#cd4e45 483px,#b61f2e 485px,#9e1228 486px,#8a0b25 487px,#810823 490px,#67001f 494px,#67001f 547px,#700321 563px,#981027 599px,#a51429 624px,#af182b 664px,#af182b 682px,#bb2933 718px,#bd2f36 748px,#c43d3c 779px,#c43d3c 791px)"></i>
<i style="background:linear-gradient(90deg,#f8f3f0 0px,#f8f4f2 406px,#f8f2ef 427px,#f9eee7 444px,#fbe5d8 459px,#fddbc7 467px,#f9c2a7 473px,#f4a683 477px,#ea8e70 479px,#d6604d 482px,#b61f2e 485px,#9c1127 486px,#960f27 489px,#6c0220 496px,#67001f 498px,#67001f 577px,#6f0320 587px,#8f0d26 608px,#991027 622px,#a21329 693px,#b31a2c 718px,#b61f2f 744px,#be3037 777px,#be3037 791px)"></i>
<i style="background:linear-gradient(90deg,#f8f3f0 0px,#f8f4f2 107px,#f8f2ef 205px,#f7f5f4 371px,#f8f4f2 410px,#f9f0eb 438px,#fae7dc 456px,#fddbc7 467px,#f9c2a7 473px,#f09c7b 478px,#e48066 480px,#d6604d 482px,#cc4c44 483px,#b61f2e 485px,#9e1228 486px,#b41c2d 487px,#ae172b 490px,#7d0723 498px,#700321 501px,#67001f 533px,#67001f 595px,#870a25 616px,#900d26 627px,#950f27 686px,#aa162a 720px,#b1182b 752px,#b92531 776px,#b92531 791px)"></i>
<i style="background:linear-gradient(90deg,#f8f3f0 0px,#f7f5f4 70px,#f8f3f0 151px,#f7f5f4 391px,#f8f2ef 430px,#f9efe9 442px,#fae8de 455px,#fcdfcf 464px,#fddbc7 467px,#f9c2a7 473px,#f6af8e 476px,#f09c7b 478px,#de735c 481px,#ce4f45 483px,#b7212f 485px,#a11328 486px,#bb2933 487px,#b31a2c 492px,#900d26 498px,#840924 502px,#850a24 522px,#6d0220 563px,#67001f 591px,#6a0120 600px,#7f0823 615px,#8d0c25 636px,#900d26 663px,#930e26 665px,#930e26 691px,#a41429 720px,#a71529 748px,#b2192c 768px,#b51e2e 791px)"></i>
<i style="background:linear-gradient(90deg,#f8f3f0 0px,#f7f5f4 46px,#f8f3f0 182px,#f7f5f4 399px,#f9f0eb 439px,#fbe6da 458px,#fcdecd 465px,#fcd5bf 469px,#fbccb4 471px,#f6af8e 476px,#ec9273 479px,#d96752 482px,#c6403e 484px,#ba2833 485px,#aa162a 486px,#be2f36 487px,#be2f36 488px,#b0182b 494px,#a41429 496px,#900d26 501px,#950f27 519px,#950f27 542px,#900d26 564px,#860a24 584px,#850a24 603px,#900d26 628px,#981027 668px,#960f27 696px,#9f1228 715px,#a21328 745px,#b0182b 782px,#b0182b 791px)"></i>
<i style="background:linear-gradient(90deg,#f8f3f0 0px,#f7f6f5 73px,#f8f3f0 180px,#f7f5f4 405px,#f9f0eb 440px,#fbe6da 458px,#fdddcb 466px,#fdd9c4 468px,#f8bea3 474px,#f3a380 478px,#e98c6e 480px,#dd6f59 482px,#cd4e44 484px,#b82331 486px,#c43c3c 487px,#c43c3c 488px,#be2f36 492px,#b31d2d 496px,#a71529 500px,#a41429 502px,#b01c2d 531px,#b31f2e 578px,#ab162a 620px,#a11328 641px,#9f1228 678px,#9b1127 686px,#991027 704px,#a21328 738px,#a41429 773px,#ad172a 791px)"></i>
<i style="background:linear-gradient(90deg,#f8f3f0 0px,#f7f6f6 63px,#f8f4f2 148px,#f7f5f4 408px,#f8f1ed 437px,#fae7dc 457px,#fcdfce 465px,#fcd7c2 469px,#fac7ae 473px,#f2a17f 479px,#e48166 482px,#ca4741 486px,#d76452 487px,#d76452 488px,#d55f4e 491px,#c94641 498px,#c7413f 501px,#ce4f46 524px,#cf5348 538px,#ce4f45 580px,#c7413f 605px,#b7212f 638px,#af182b 655px,#ae172b 667px,#9c1127 695px,#9c1127 720px,#a21328 736px,#a21328 757px,#9e1228 773px,#a81529 791px)"></i>
<i style="background:linear-gradient(90deg,#f8f3f0 0px,#f7f6f6 55px,#f7f6f6 121px,#f8f4f2 158px,#f7f6f5 377px,#f7f5f4 411px,#f9f0eb 441px,#fae8de 456px,#fcdfcf 465px,#fdd9c4 469px,#fbcbb3 473px,#f6ae8d 479px,#e27a61 486px,#f3a788 487px,#f2a587 491px,#ed987a 500px,#ef9e80 511px,#f0a182 537px,#ec9475 565px,#e58267 585px,#db6d57 604px,#d05347 620px,#bc2c34 648px,#b2192c 674px,#9f1228 692px,#991027 703px,#9c1127 723px,#a21328 734px,#a21328 755px,#9b1127 767px,#9b1127 776px,#a51429 791px)"></i>
<i style="background:linear-gradient(90deg,#f8f3f0 0px,#f7f7f7 86px,#f8f4f2 167px,#f7f6f6 381px,#f8f4f2 423px,#f8f1ed 438px,#fae7dc 458px,#fddbc7 469px,#f7b495 481px,#f6b090 484px,#f6b394 486px,#fcdcca 487px,#fbd9c6 500px,#fcdcc9 507px,#fcdbc8 526px,#fbd0b8 550px,#f6af8e 581px,#f2a07e 592px,#d55f4d 627px,#c33a3b 649px,#b3192c 677px,#9f1228 692px,#981027 703px,#991027 719px,#a51429 743px,#a21328 754px,#981027 768px,#981027 775px,#a51429 791px)"></i>
<i style="background:linear-gradient(90deg,#f8f3f0 0px,#f6f7f7 77px,#f8f4f2 175px,#f7f5f4 413px,#f8f1ed 438px,#fae7dc 458px,#fddbc7 470px,#fac5ab 480px,#fac8af 483px,#fcd3bc 485px,#fcd9c6 486px,#faede5 487px,#f9efe9 504px,#faede5 525px,#fbe6d9 543px,#fddecc 556px,#fdd9c5 562px,#fac6ac 576px,#f4a684 597px,#d86450 629px,#c6403e 649px,#b3192c 677px,#9f1228 691px,#960f27 700px,#950f27 706px,#a41429 744px,#a21328 753px,#960f27 766px,#950f27 773px,#a41429 791px)"></i>
<i style="background:linear-gradient(90deg,#f8f3f0 0px,#f6f7f7 72px,#f8f4f2 182px,#f7f5f4 413px,#f8f2ef 434px,#fae8de 457px,#fddcc9 470px,#fbd0b9 475px,#fbccb4 478px,#fbcdb6 481px,#fcd4be 483px,#fbe6d9 486px,#f9f0eb 487px,#f8f3f0 506px,#f9f0eb 526px,#fbe5d8 549px,#fcd5bf 568px,#f5a886 597px,#d6604d 632px,#c2373a 654px,#b3192c 675px,#9c1127 692px,#930e26 704px,#960f27 718px,#a21328 736px,#a21328 751px,#930e26 768px,#930e26 776px,#a21328 791px)"></i>
<i style="background:linear-gradient(90deg,#f8f3f0 0px,#f6f7f7 71px,#f8f4f2 189px,#f7f5f4 411px,#f8f1ed 438px,#fae7dc 458px,#fddbc7 470px,#fac8af 479px,#fac9b0 482px,#fbcdb5 483px,#fce0cf 486px,#f9efe9 487px,#f9f1ed 505px,#f9efe9 524px,#fbe7dc 542px,#fddcc9 560px,#fcd5bf 566px,#f5a785 596px,#d7624e 630px,#bc2c35 658px,#b2192c 672px,#991027 695px,#960f27 701px,#960f27 712px,#a21328 736px,#a21328 749px,#930e26 766px,#920e26 775px,#9f1228 791px)"></i>
<i style="background:linear-gradient(90deg,#f8f3f0 0px,#f6f7f7 75px,#f8f4f2 195px,#f8f4f2 421px,#f8f1ed 438px,#fae7dc 458px,#fddcc8 469px,#f9c1a5 478px,#f7b89b 482px,#f8ba9c 484px,#f9c1a5 486px,#fbe3d6 487px,#fce2d4 527px,#fcd5c0 551px,#f6ae8d 584px,#ed9475 600px,#d86450 624px,#bc2b34 654px,#b2192c 667px,#a11328 683px,#991027 697px,#a21328 747px,#930e26 765px,#900d26 773px,#930e26 780px,#9f1228 791px)"></i>
<i style="background:linear-gradient(90deg,#f8f3f0 0px,#f7f6f6 53px,#f6f7f7 110px,#f8f4f2 202px,#f7f5f4 405px,#f8f1ed 437px,#fae8de 456px,#fdddcb 467px,#fcd4be 471px,#f9c4aa 475px,#f4a684 481px,#ed9475 484px,#ea8d70 486px,#f8b89b 487px,#f8b89b 490px,#f4ac8f 500px,#f6b496 518px,#f6b293 535px,#f1a080 563px,#e27b62 595px,#d6604e 614px,#ca4842 627px,#af182b 659px,#9f1228 674px,#9b1127 683px,#a21328 745px,#960f27 762px,#930e26 773px,#981027 782px,#a21328 791px)"></i>
<i style="background:linear-gradient(90deg,#f8f3f0 0px,#f7f7f7 92px,#f8f5f3 207px,#f7f5f4 399px,#f9f0eb 440px,#fae7dc 457px,#fcdfce 465px,#fcd4be 470px,#f9c3a8 474px,#f3a481 479px,#e7866a 482px,#d05447 486px,#dd6f59 487px,#db6b57 491px,#d05549 498px,#ce5047 501px,#d56050 528px,#d45c4d 564px,#c8433f 604px,#c43c3c 612px,#b72230 631px,#ac172b 644px,#9c1128 658px,#920e26 673px,#900d26 681px,#9f1228 708px,#a21328 722px,#a21328 742px,#981027 765px,#981027 773px,#a8152a 791px)"></i>
<i style="background:linear-gradient(90deg,#f8f2ef 0px,#f7f6f6 67px,#f7f6f6 145px,#f8f5f3 394px,#f8f1ed 436px,#fae8de 455px,#fcdfcf 464px,#fdd9c4 468px,#fac9b0 472px,#f3a481 478px,#ea8e70 480px,#d86450 483px,#bb2b34 486px,#c2373a 487px,#c2373a 488px,#ba2833 493px,#ac192b 497px,#a11328 501px,#a9182b 517px,#b01e2e 546px,#ac192b 597px,#a8152a 612px,#8a0b25 643px,#830924 656px,#800823 676px,#870a25 687px,#9f1228 710px,#a21328 735px,#9e1228 769px,#b1182b 791px)"></i>
<i style="background:linear-gradient(90deg,#f8f2ef 0px,#f7f6f6 79px,#f7f6f6 139px,#f8f4f2 413px,#f9f0eb 439px,#fbe6da 458px,#fcdecd 465px,#fcd5bf 469px,#f9c2a7 473px,#f6b090 476px,#ec9273 479px,#e0775f 481px,#d15548 483px,#bc2c34 485px,#ad172a 486px,#b51e2e 487px,#b41c2d 489px,#a81529 492px,#8a0b25 497px,#7c0722 501px,#830924 521px,#880b25 564px,#850a24 566px,#800823 603px,#6c0220 640px,#6a0120 666px,#6c0220 672px,#760522 682px,#950f27 702px,#9f1228 713px,#a41429 764px,#b1182b 781px,#b7212f 791px)"></i>
<i style="background:linear-gradient(90deg,#f8f2ef 0px,#f7f6f6 104px,#f8f4f2 409px,#f8f2ef 429px,#f9ede5 447px,#fae8de 455px,#fddbc7 467px,#f9c1a6 473px,#f4a683 477px,#f09c7b 478px,#d7624e 482px,#b72230 485px,#a11328 486px,#a71529 487px,#a21328 489px,#9b1128 491px,#700320 498px,#69011f 501px,#6c0220 563px,#67001f 582px,#67001f 678px,#870a24 696px,#9f1228 714px,#a41429 747px,#b1182b 770px,#bb2933 791px)"></i>
<i style="background:linear-gradient(90deg,#f8f2ef 0px,#f7f5f4 75px,#f8f4f2 405px,#f8f2ef 428px,#f9ede5 447px,#fbe5d8 459px,#fddcc9 466px,#fcd7c2 468px,#f9c6ac 472px,#f8bb9e 474px,#f3a481 477px,#ea8e70 479px,#d6604d 482px,#b51e2e 485px,#9c1127 486px,#900d26 487px,#8d0c25 489px,#850a24 491px,#6c0220 495px,#67001f 497px,#67001f 679px,#7e0823 690px,#9f1228 714px,#a71529 742px,#b2192c 759px,#be2f36 787px,#be2f36 791px)"></i>
<i style="background:linear-gradient(90deg,#f8f2ef 0px,#f7f5f4 93px,#f8f3f0 297px,#f8f4f2 399px,#f8f2ef 428px,#f9ede5 447px,#fae7dc 456px,#fce0d0 463px,#fcd7c2 468px,#f9c6ac 472px,#f3a481 477px,#ea8d6f 479px,#d65f4d 482px,#c13639 484px,#b41c2d 485px,#7d0723 487px,#67001f 493px,#67001f 674px,#870a25 692px,#9e1228 710px,#b2192c 747px,#c03539 791px)"></i>
<i style="background:linear-gradient(90deg,#f8f2ef 0px,#f7f5f4 113px,#f8f4f1 394px,#f8f2ef 427px,#f9eee7 444px,#fae7dc 456px,#fcdfce 464px,#fcd7c2 468px,#f9c6ac 472px,#f3a481 477px,#ea8e70 479px,#d65f4d 482px,#c13639 484px,#b41c2d 485px,#9b1127 486px,#720421 487px,#67001f 490px,#67001f 664px,#6f0320 671px,#7d0723 678px,#930e27 693px,#a41429 711px,#b2192c 737px,#bc2b34 758px,#c33a3b 791px)"></i>
<i style="background:linear-gradient(90deg,#f8f2ef 0px,#f7f5f4 211px,#f8f3f0 269px,#f8f3f0 418px,#f9eee7 444px,#fae7dc 456px,#fcdfcf 464px,#fddbc7 467px,#fbcbb3 471px,#f8bb9e 474px,#f4a683 477px,#eb9071 479px,#d7624e 482px,#b7212f 485px,#9f1228 486px,#760522 487px,#67001f 492px,#67001f 642px,#720421 657px,#7c0722 666px,#920e26 680px,#a21329 697px,#b51c2d 731px,#be3037 751px,#c6403e 791px)"></i>
<i style="background:linear-gradient(90deg,#f8f2ef 0px,#f7f5f4 146px,#f8f2ef 307px,#f8f3f0 418px,#f8f1ed 433px,#f9ede5 447px,#fae8de 455px,#fce0d0 464px,#fcd6c1 469px,#f9c5ab 473px,#f6b293 476px,#f2a17f 478px,#e88a6d 480px,#dc6c56 482px,#be2f36 485px,#ae192b 486px,#8a0b25 487px,#850a24 489px,#6d0220 493px,#67001f 495px,#67001f 616px,#6f0320 630px,#850a24 648px,#ab162a 691px,#b51c2d 715px,#c7413f 760px,#cb4a43 791px)"></i>
<i style="background:linear-gradient(90deg,#f8f2ef 0px,#f7f5f4 160px,#f8f2ef 290px,#f8f3f0 420px,#f9ede5 448px,#fbe6d9 460px,#fdd9c5 470px,#f8bea2 476px,#f4a886 479px,#e0775f 483px,#c53e3d 486px,#ae1e2d 487px,#9f1228 491px,#740421 497px,#69011f 502px,#67001f 553px,#6f0320 592px,#830924 621px,#9b1127 643px,#ae172b 671px,#b41c2d 679px,#bb2933 709px,#cd4e44 755px,#d05447 782px,#d3594a 791px)"></i>
<i style="background:linear-gradient(90deg,#f8f2ef 0px,#f8f5f3 169px,#f8f2ef 278px,#f8f4f2 403px,#f8f2ef 431px,#f9eee6 449px,#fbe7db 462px,#fddecc 471px,#fdd7c2 474px,#f9c1a6 479px,#f5ae8d 482px,#e48065 486px,#dc6f5b 489px,#c63e3d 495px,#b02632 499px,#a41b2d 502px,#9d1228 508px,#960f27 512px,#8c0c25 524px,#880b24 539px,#8c0c25 581px,#ab162a 629px,#b7212f 648px,#be2f36 671px,#c6403e 709px,#d55e4c 748px,#da6953 784px,#dc6e58 791px)"></i>
<i style="background:linear-gradient(90deg,#f8f3f0 0px,#f8f2ee 66px,#f8f4f2 233px,#f8f2ef 347px,#f8f4f2 415px,#f8f2ef 435px,#f9eee6 452px,#fae8dd 465px,#fde0cf 476px,#fcd1ba 482px,#f8bea1 486px,#fbd8c5 487px,#fac5ab 493px,#ee9f84 499px,#e7876c 504px,#de735d 509px,#cf5349 519px,#c84440 526px,#bf3237 538px,#bb2a34 548px,#b72531 564px,#b92632 593px,#ce5045 672px,#cf5246 690px,#d25849 701px,#dd6f59 735px,#e68569 791px)"></i>
<i style="background:linear-gradient(90deg,#f8f3f0 0px,#f8f1ed 74px,#f8f4f2 142px,#f8f2ef 269px,#f8f4f2 421px,#f8f2ef 438px,#fae8de 473px,#fce0d0 486px,#f9ede5 487px,#faede6 492px,#faece4 495px,#fbdfcf 505px,#fac4a9 517px,#f4b093 524px,#ea8e71 539px,#e27c63 549px,#dc6f59 561px,#d76452 576px,#d66150 592px,#dc6e58 656px,#df755d 671px,#e0775f 697px,#e7866a 719px,#ee9878 767px,#ef9a7a 784px,#f2a07e 791px)"></i>
<i style="background:linear-gradient(90deg,#f8f3f0 0px,#f8f1ed 85px,#f8f4f2 152px,#f8f2ef 258px,#f8f4f2 424px,#fae9e0 484px,#faeae1 486px,#f9efe9 487px,#f8f4f1 492px,#f7f5f4 503px,#f8f3f0 511px,#f9ede6 519px,#fce2d3 531px,#f9c3a8 554px,#f7b596 566px,#f3a687 584px,#f1a080 597px,#f09b7b 623px,#f09c7b 692px,#f4a887 723px,#f7b495 791px)"></i>
<i style="background:linear-gradient(90deg,#f8f3f0 0px,#f8f1ed 93px,#f8f4f2 165px,#f8f2ef 268px,#f8f4f2 425px,#f9ede5 462px,#f9ebe3 479px,#f9ede5 485px,#f7f7f7 494px,#f2f5f6 505px,#f4f6f7 522px,#f7f4f2 535px,#fcd7c4 584px,#fbcfb7 604px,#fac5ab 632px,#f9c1a6 669px,#f8bda0 683px,#f8bda0 703px,#f8c0a4 712px,#f9c3a8 763px,#fac8af 791px)"></i>
<i style="background:linear-gradient(90deg,#f8f4f2 0px,#f8f1ed 39px,#f8f4f2 424px,#f9ede5 463px,#f9ede5 484px,#f7f6f6 492px,#f6f7f7 494px,#edf2f5 512px,#f3f6f7 551px,#f7f5f3 565px,#fbe6d9 612px,#fcdbc9 673px,#fcd6c1 689px,#fcd6c0 752px,#fdd9c4 791px)"></i>
<i style="background:linear-gradient(90deg,#f8f4f2 0px,#f8f1ed 48px,#f8f4f2 423px,#f9ede5 465px,#f9ede5 483px,#f6f7f7 495px,#edf2f5 506px,#eaf1f5 519px,#ecf2f5 552px,#f4f6f7 584px,#f9f2ef 613px,#fce4d6 697px,#fce1d2 749px,#fce2d3 791px)"></i>
<i style="background:linear-gradient(90deg,#f8f4f2 0px,#f8f1ed 53px,#f8f4f2 421px,#f9ede5 465px,#f9ede5 482px,#f6f7f7 497px,#edf2f5 507px,#eaf1f5 518px,#e9f0f4 550px,#f6f6f7 626px,#faebe2 708px,#fbe8dd 791px)"></i>
<i style="background:linear-gradient(90deg,#f8f4f2 0px,#f8f1ed 37px,#f8f4f2 418px,#f9ede5 466px,#f9ede5 481px,#f6f7f7 498px,#edf2f5 510px,#e9f0f4 543px,#ebf2f5 598px,#f6f7f7 659px,#f9eee7 738px,#f9ede5 791px)"></i>
<i style="background:linear-gradient(90deg,#f8f4f2 0px,#f9f0eb 74px,#f8f3f0 182px,#f8f4f2 413px,#f8f2ef 436px,#f9ede5 466px,#f9ede5 480px,#f6f7f7 500px,#edf2f5 516px,#e9f0f4 586px,#f6f7f7 687px,#f9f1ec 755px,#f9f1ec 791px)"></i>
<i style="background:linear-gradient(90deg,#f8f4f2 0px,#f9f0eb 64px,#f8f4f2 407px,#f9ede5 480px,#f9efe9 488px,#f6f7f7 501px,#f0f4f6 509px,#edf2f5 524px,#e9f0f4 577px,#eaf1f5 621px,#f6f7f7 704px,#f8f4f1 738px,#f8f3f0 791px)"></i>
<i style="background:linear-gradient(90deg,#f8f4f2 0px,#f9f0eb 61px,#f8f4f2 399px,#f9ede5 480px,#f9efe9 488px,#f6f7f7 502px,#edf2f5 533px,#e9f0f4 591px,#eaf1f5 630px,#f6f7f7 709px,#f8f4f2 791px)"></i>
<i style="background:linear-gradient(90deg,#f8f3f0 0px,#f9f0eb 52px,#f9f0eb 123px,#f8f2ef 170px,#f8f4f2 386px,#f8f2ef 427px,#f9ede5 464px,#f9ede5 481px,#f6f7f7 504px,#edf2f5 545px,#eaf1f5 625px,#f6f7f7 710px,#f7f5f4 791px)"></i>
<i style="background:linear-gradient(90deg,#f8f3f0 0px,#f9f0eb 47px,#f9f0eb 136px,#f8f2ef 181px,#f8f4f1 374px,#f8f2ef 421px,#f9ede5 462px,#f9ede5 482px,#f6f7f7 508px,#edf2f5 560px,#ebf2f5 617px,#f7f6f6 722px,#f7f5f4 791px)"></i>
<i style="background:linear-gradient(90deg,#f8f3f0 0px,#f9f0ea 82px,#f8f2ef 194px,#f8f3f0 392px,#f8f1ed 428px,#f9ede5 460px,#f9ede5 483px,#f6f7f7 515px,#edf2f5 580px,#edf2f5 620px,#f7f6f6 716px,#f7f5f4 791px)"></i>
<i style="background:linear-gradient(90deg,#f8f3f0 0px,#f9efe9 70px,#f9efe9 119px,#f8f2ef 209px,#f8f3f0 375px,#f8f1ed 423px,#f9ede5 458px,#f9ede5 484px,#f8f5f3 508px,#f6f7f7 526px,#eef3f5 613px,#f7f6f6 708px,#f7f5f4 791px)"></i>
<i style="background:linear-gradient(90deg,#f8f2ef 0px,#f9efe9 75px,#f8f2ef 239px,#f8f2ef 393px,#f9ede5 455px,#f9ede5 485px,#f8f2ef 503px,#f6f7f7 539px,#f0f4f6 614px,#f7f6f6 696px,#f7f5f4 791px)"></i>
<i style="background:linear-gradient(90deg,#f8f2ef 0px,#f9efe9 48px,#f9efe8 97px,#f8f2ef 377px,#f9ece4 472px,#f9ede5 486px,#f8f2ef 508px,#f6f7f7 553px,#f3f5f6 629px,#f7f6f6 684px,#f8f4f2 728px,#f7f5f4 791px)"></i>
<i style="background:linear-gradient(90deg,#f8f2ee 0px,#f9eee7 96px,#f8f1ed 225px,#f8f2ee 364px,#f9ebe3 474px,#f8f2ef 514px,#f6f7f7 568px,#f6f7f7 661px,#f8f4f2 712px,#f7f5f4 791px)"></i>
<i style="background:linear-gradient(90deg,#f8f1ed 0px,#f9eee7 62px,#f8f1ed 378px,#f9ebe3 477px,#f8f2ef 521px,#f6f7f7 586px,#f7f6f6 667px,#f8f4f2 698px,#f7f5f4 791px)"></i>
<i style="background:linear-gradient(90deg,#f9f1ec 0px,#f9ede5 134px,#f8f1ed 350px,#f9ebe3 479px,#f8f1ed 517px,#f7f6f6 582px,#f7f6f6 653px,#f8f4f2 686px,#f7f5f4 791px)"></i>
<i style="background:linear-gradient(90deg,#f9f0eb 0px,#f9ede5 96px,#f9f0eb 383px,#f9ebe3 480px,#f8f2ef 533px,#f7f6f6 599px,#f8f4f2 676px,#f7f5f4 791px)"></i>
<i style="background:linear-gradient(90deg,#f9f0eb 0px,#f9ebe3 124px,#f9f0eb 366px,#f9ebe3 480px,#f8f1ed 525px,#f7f5f4 584px,#f8f4f2 755px,#f7f6f5 791px)"></i>
<i style="background:linear-gradient(90deg,#f9efe9 0px,#f9ebe3 95px,#f9ebe3 181px,#f9efe9 267px,#f9f0ea 354px,#f9ebe3 480px,#f8f2ef 540px,#f7f5f4 592px,#f8f4f2 745px,#f7f6f6 791px)"></i>
<i style="background:linear-gradient(90deg,#f9efe9 0px,#faeae1 142px,#f9efe9 287px,#f9efe9 382px,#f9ebe3 479px,#f8f2ef 542px,#f7f5f4 600px,#f8f4f2 733px,#f7f6f6 791px)"></i>
<i style="background:linear-gradient(90deg,#f9eee7 0px,#faeae1 190px,#f9efe9 302px,#f9efe9 371px,#f9ebe3 476px,#f8f2ef 542px,#f7f5f4 606px,#f8f4f2 715px,#f7f6f6 791px)"></i>
<i style="background:linear-gradient(90deg,#f9eee7 0px,#faeae1 104px,#faeae1 208px,#f9efe9 314px,#f9ebe3 473px,#f8f4f2 576px,#f7f7f7 791px)"></i>
<i style="background:linear-gradient(90deg,#f9eee6 0px,#fae9df 146px,#f9efe9 326px,#f9ebe3 469px,#f8f4f2 576px,#f6f7f7 791px)"></i>
<i style="background:linear-gradient(90deg,#f9ede5 0px,#fae9df 141px,#fae9df 194px,#f9eee7 286px,#f9ebe3 463px,#f8f4f2 574px,#f6f7f7 791px)"></i>
<i style="background:linear-gradient(90deg,#f9ede5 0px,#fae9df 148px,#faeae1 231px,#f9eee7 287px,#f9ebe3 454px,#f8f4f2 571px,#f6f7f7 791px)"></i>
<i style="background:linear-gradient(90deg,#f9ece4 0px,#faeae0 189px,#f9eee7 287px,#f9eee7 381px,#f9ebe3 442px,#f9ede5 476px,#f8f2ef 529px,#f7f5f4 600px,#f6f7f7 791px)"></i>
<i style="background:linear-gradient(90deg,#f9ebe3 0px,#faeae1 217px,#f9eee7 286px,#f9ede5 471px,#f8f2ef 524px,#f7f5f4 594px,#f5f6f7 791px)"></i>
<i style="background:linear-gradient(90deg,#f9ebe3 0px,#faebe2 205px,#f9eee7 281px,#f9ede5 466px,#f8f2ef 519px,#f7f5f4 585px,#f5f6f7 791px)"></i>
<i style="background:linear-gradient(90deg,#f9ebe3 0px,#f9ebe3 210px,#f9eee7 272px,#f9ede5 462px,#f8f2ef 514px,#f7f5f4 574px,#f6f7f7 791px)"></i>
<i style="background:linear-gradient(90deg,#faebe2 0px,#f9efe9 323px,#f9ede5 458px,#f8f2ef 509px,#f7f5f4 563px,#f6f7f7 791px)"></i>
<i style="background:linear-gradient(90deg,#faeae1 0px,#f9eee7 122px,#f9efe9 297px,#f9ede5 454px,#f7f5f4 552px,#f6f7f7 791px)"></i>
<i style="background:linear-gradient(90deg,#faeae1 0px,#f9efe9 154px,#f9ede5 450px,#f7f5f4 544px,#f6f7f7 791px)"></i>
<i style="background:linear-gradient(90deg,#faeae1 0px,#f9f0eb 169px,#f9ede5 446px,#f7f5f4 538px,#f7f7f7 791px)"></i>
<i style="background:linear-gradient(90deg,#faeae1 0px,#faeae1 40px,#f9f1ec 149px,#f9ede5 442px,#f8f2ef 496px,#f7f6f6 566px,#f7f6f6 791px)"></i>
<i style="background:linear-gradient(90deg,#faeae1 0px,#faeae1 39px,#f8f2ee 160px,#f9ede5 437px,#f7f6f6 554px,#f7f6f6 791px)"></i>
<i style="background:linear-gradient(90deg,#faeae1 0px,#faeae1 38px,#f8f2ef 149px,#f8f2ef 229px,#f9ede5 375px,#f9ede5 432px,#f7f6f6 548px,#f7f6f5 791px)"></i>
<i style="background:linear-gradient(90deg,#faeae1 0px,#faeae1 37px,#f8f3f0 162px,#f9ede5 426px,#f7f6f6 544px,#f8f4f2 692px,#f7f5f4 791px)"></i>
<i style="background:linear-gradient(90deg,#faeae1 0px,#faeae1 35px,#f8f2ef 130px,#f8f4f1 171px,#f9ede5 417px,#f9efe9 465px,#f7f6f6 541px,#f8f4f2 669px,#f7f5f4 791px)"></i>
<i style="background:linear-gradient(90deg,#faeae1 0px,#f9ebe3 53px,#f8f4f2 165px,#f8f4f2 218px,#f9eee7 332px,#f9ede5 407px,#f9efe9 462px,#f7f6f6 539px,#f8f4f2 669px,#f7f5f4 791px)"></i>
<i style="background:linear-gradient(90deg,#faeae1 0px,#f9ebe3 50px,#f8f4f2 158px,#f8f4f2 227px,#f9efe9 302px,#f9ede5 387px,#f9efe9 458px,#f7f6f6 537px,#f8f4f2 676px,#f7f5f4 791px)"></i>
<i style="background:linear-gradient(90deg,#faeae1 0px,#f9ebe3 45px,#f7f5f4 183px,#f8f2ef 265px,#f9eee7 325px,#f9eee7 426px,#f7f6f6 536px,#f8f4f2 686px,#f7f5f4 791px)"></i>
<i style="background:linear-gradient(90deg,#f9ebe3 0px,#f9ede5 60px,#f7f5f4 176px,#f8f4f2 236px,#f9eee7 331px,#f9efe9 447px,#f7f6f6 535px,#f8f4f2 698px,#f7f5f4 791px)"></i>
<i style="background:linear-gradient(90deg,#f9ebe3 0px,#f9ede5 52px,#f7f5f4 174px,#f7f5f4 216px,#f9eee7 324px,#f9eee7 409px,#f9f0eb 465px,#f7f6f6 534px,#f8f4f2 712px,#f7f5f4 791px)"></i>
<i style="background:linear-gradient(90deg,#f9ece4 0px,#f9eee7 64px,#f7f5f4 174px,#f7f5f4 217px,#f9eee7 324px,#f9f0eb 461px,#f7f6f6 532px,#f7f5f4 791px)"></i>
<i style="background:linear-gradient(90deg,#f9ede5 0px,#f9eee7 53px,#f7f5f4 174px,#f7f5f4 217px,#f9eee7 324px,#f9f0eb 453px,#f7f6f6 529px,#f7f5f4 791px)"></i>
<i style="background:linear-gradient(90deg,#f9eee7 0px,#f9efe9 63px,#f7f5f4 175px,#f7f5f4 215px,#f9eee7 319px,#f9eee7 385px,#f8f1ed 474px,#f7f6f6 526px,#f7f5f4 791px)"></i>
<i style="background:linear-gradient(90deg,#f9efe8 0px,#f7f5f4 175px,#f8f4f2 234px,#f9eee7 310px,#f8f1ed 473px,#f7f6f6 521px,#f7f5f4 791px)"></i>
<i style="background:linear-gradient(90deg,#f9efe9 0px,#f7f5f4 176px,#f8f4f2 232px,#f9efe9 290px,#f9eee7 331px,#f8f1ed 471px,#f7f6f6 515px,#f6f7f7 541px,#f7f5f4 791px)"></i>
<i style="background:linear-gradient(90deg,#f9f0eb 0px,#f7f5f4 202px,#f9eee7 309px,#f9eee7 360px,#f8f1ed 414px,#f8f1ed 470px,#f6f7f7 525px,#f7f5f4 791px)"></i>
<i style="background:linear-gradient(90deg,#f9f1ec 0px,#f7f5f4 194px,#f9eee7 311px,#f9eee7 350px,#f8f1ed 406px,#f8f1ed 470px,#f6f7f7 514px,#f3f5f6 651px,#f7f6f6 791px)"></i>
<i style="background:linear-gradient(90deg,#f8f1ed 0px,#f8f5f3 188px,#f9eee7 336px,#f8f2ef 423px,#f8f1ed 471px,#f6f7f7 507px,#f3f5f6 659px,#f7f6f6 791px)"></i>
<i style="background:linear-gradient(90deg,#f8f2ee 0px,#f8f4f2 80px,#f8f4f2 218px,#f9efe9 286px,#f9efe9 361px,#f8f2ef 413px,#f8f1ed 473px,#f8f3f0 490px,#f6f7f7 503px,#f3f5f6 525px,#f1f5f6 650px,#f7f6f6 791px)"></i>
<i style="background:linear-gradient(90deg,#f8f2ef 0px,#f8f4f2 213px,#f9efe9 285px,#f9efe9 351px,#f8f2ef 404px,#f8f1ed 476px,#f6f7f7 500px,#f0f4f6 537px,#f0f4f6 646px,#f7f6f6 791px)"></i>
<i style="background:linear-gradient(90deg,#f8f3f0 0px,#f7f5f4 161px,#f8f2ef 245px,#f9efe9 284px,#f9efe9 340px,#f8f2ef 396px,#f8f1ed 479px,#f8f4f2 492px,#f6f7f7 498px,#f0f4f6 513px,#eef3f5 541px,#eef3f5 642px,#f7f6f6 791px)"></i>
<i style="background:linear-gradient(90deg,#f8f3f0 0px,#f7f5f4 44px,#f7f5f4 161px,#f9efe9 283px,#f9efe9 329px,#f8f3f0 418px,#f8f1ed 481px,#f8f4f2 491px,#f6f7f7 497px,#eef3f5 515px,#ecf2f5 576px,#edf2f5 654px,#f5f6f7 729px,#f7f6f6 791px)"></i>
<i style="background:linear-gradient(90deg,#f8f4f1 0px,#f7f6f5 68px,#f7f5f4 158px,#f9efe9 282px,#f8f3f0 406px,#f9f1ec 473px,#f8f1ed 483px,#f6f7f7 496px,#edf2f5 510px,#eaf1f5 558px,#eaf1f5 612px,#f6f7f7 745px,#f7f5f4 791px)"></i>
<i style="background:linear-gradient(90deg,#f8f4f2 0px,#f7f6f6 102px,#f9efe9 284px,#f8f3f0 395px,#f9f0eb 476px,#f8f1ed 484px,#f6f7f7 496px,#edf2f5 507px,#eaf1f5 521px,#e9f0f4 566px,#eaf1f5 632px,#f6f7f7 739px,#f8f4f1 791px)"></i>
<i style="background:linear-gradient(90deg,#f8f4f2 0px,#f7f6f6 109px,#f9f0eb 253px,#f9f0eb 330px,#f8f3f0 385px,#f8f3f0 435px,#f9f0eb 480px,#f6f7f7 495px,#eaf1f5 512px,#e8f0f4 536px,#eaf1f5 631px,#f6f7f7 719px,#f8f2ee 791px)"></i>
<i style="background:linear-gradient(90deg,#f8f4f2 0px,#f7f6f6 109px,#f9f0eb 251px,#f9f0eb 322px,#f8f3f0 375px,#f8f3f0 434px,#f9f0eb 455px,#f9f0eb 482px,#f6f7f7 494px,#eaf1f5 511px,#e7f0f4 560px,#eaf1f5 622px,#f7f7f7 706px,#f9eee7 791px)"></i>
<i style="background:linear-gradient(90deg,#f8f4f2 0px,#f7f6f6 39px,#f7f6f6 106px,#f9f0eb 251px,#f9f0eb 314px,#f8f3f0 367px,#f8f3f0 433px,#f9efe9 463px,#f9f0eb 484px,#f6f7f7 493px,#e8f0f4 511px,#e5eff4 543px,#e7f0f4 589px,#f6f7f7 672px,#fae9e0 791px)"></i>
<i style="background:linear-gradient(90deg,#f8f4f2 0px,#f7f6f6 101px,#f9f0eb 254px,#f8f3f0 358px,#f8f3f0 432px,#f9efe9 459px,#f9f0eb 484px,#f6f7f7 492px,#e7f0f4 510px,#e4eef4 528px,#e7f0f4 579px,#f6f6f7 650px,#fae9df 739px,#fbe4d6 791px)"></i>
<i style="background:linear-gradient(90deg,#f8f4f2 0px,#f7f6f6 94px,#f9f0eb 263px,#f8f4f2 404px,#f8f2ef 440px,#f9eee7 466px,#f9f0eb 485px,#f6f7f7 491px,#e7f0f4 510px,#e5eff4 527px,#e9f1f5 570px,#f4f6f7 613px,#fbe7dc 702px,#fce0d0 756px,#fddecc 791px)"></i>
<i style="background:linear-gradient(90deg,#f7f5f4 0px,#f7f6f6 82px,#f8f1ed 229px,#f8f4f2 409px,#f8f2ef 439px,#f9eee7 461px,#f9eee7 480px,#f9f0ea 485px,#f6f7f7 491px,#ebf2f5 505px,#e8f0f4 516px,#e9f1f5 538px,#f3f6f7 576px,#f7f5f3 596px,#fce3d5 668px,#fcd5bf 761px,#fcd2bb 791px)"></i>
<i style="background:linear-gradient(90deg,#f7f5f4 0px,#f7f5f4 120px,#f8f1ed 238px,#f8f4f2 409px,#f8f2ef 437px,#f9ece4 479px,#f9eee7 486px,#f8f3f0 488px,#f6f7f7 493px,#eef3f6 511px,#f4f5f6 535px,#f8f4f1 553px,#faebe2 581px,#fcd3bc 670px,#fac6ac 746px,#f9c3a8 791px)"></i>
<i style="background:linear-gradient(90deg,#f7f5f4 0px,#f7f5f4 115px,#f8f2ee 248px,#f8f4f2 406px,#f8f2ef 435px,#fbe7db 484px,#fbe7db 486px,#f9f0eb 487px,#f8f4f2 492px,#f8f4f3 497px,#f8f2ee 511px,#fcd6c2 563px,#f8bc9f 643px,#f7b799 678px,#f7b394 791px)"></i>
<i style="background:linear-gradient(90deg,#f7f5f4 0px,#f7f5f4 111px,#f8f2ef 215px,#f8f4f2 401px,#f8f2ef 431px,#fbe7dc 470px,#fddfce 480px,#fbd0b8 486px,#fbe7db 487px,#fbe5d8 491px,#fad3be 502px,#f8ba9d 521px,#f2a688 543px,#f0a081 560px,#ee9878 624px,#ee9677 665px,#f19e7d 690px,#f2a17f 791px)"></i>
<i style="background:linear-gradient(90deg,#f7f5f4 0px,#f8f3f0 235px,#f8f4f2 397px,#f8f1ed 434px,#fae8dd 462px,#fddecc 473px,#fbd1ba 478px,#f9c2a7 481px,#f5ad8e 484px,#ee987a 486px,#f2ab8e 487px,#ed987c 492px,#e47f65 497px,#da6b58 503px,#d35c4e 519px,#d2584b 534px,#d45c4d 568px,#da6a55 604px,#da6854 640px,#dd6f59 663px,#e27b62 681px,#e58166 699px,#e58267 732px,#e88a6d 766px,#e8896c 787px,#e98c6e 791px)"></i>
<i style="background:linear-gradient(90deg,#f7f5f4 0px,#f7f5f4 108px,#f8f3f0 164px,#f8f4f2 395px,#f8f2ef 424px,#f9ede5 447px,#fbe6d9 461px,#fdddcb 469px,#fdd6c0 472px,#f9c4aa 476px,#f4a988 480px,#e7866a 483px,#d05448 486px,#cc4b43 487px,#ca4741 489px,#bb2933 495px,#aa1a2c 500px,#a8182b 502px,#b82331 554px,#c43d3d 604px,#c7413e 641px,#d86451 693px,#db6b55 742px,#df735c 759px,#e0765e 791px)"></i>
<i style="background:linear-gradient(90deg,#f7f5f4 0px,#f7f5f4 362px,#f8f2ef 422px,#f9ede5 445px,#fbe5d7 460px,#fdddca 467px,#fcd1ba 471px,#f8bda1 475px,#f19d7c 479px,#e68468 481px,#d86451 483px,#cf5146 484px,#b72230 486px,#b31d2d 487px,#ab162a 491px,#850a24 498px,#7c0723 501px,#8f0d26 523px,#9f1228 549px,#b21b2c 593px,#b7212f 636px,#bd2e35 657px,#cb4a43 687px,#cc4d44 695px,#cf5247 740px,#d55e4c 759px,#d7614f 791px)"></i>
<i style="background:linear-gradient(90deg,#f7f5f4 0px,#f7f5f4 374px,#f8f2ef 422px,#f9ede5 445px,#fbe4d6 460px,#fddbc7 467px,#fac8af 472px,#f5a785 477px,#ec9273 479px,#e0775f 481px,#d05447 483px,#ba2833 485px,#a51429 486px,#981027 487px,#900d26 490px,#6f0320 496px,#67001f 499px,#67001f 509px,#700321 527px,#890b25 553px,#9b1128 580px,#a41429 605px,#a51429 631px,#af182b 649px,#b51e2e 659px,#bf3237 679px,#c2373a 689px,#c2373a 702px,#c33a3b 703px,#c6403e 746px,#cd4e44 767px,#ce5146 791px)"></i>
<i style="background:linear-gradient(90deg,#f7f5f4 0px,#f7f6f6 346px,#f8f2ef 423px,#f9ede5 445px,#fbe6da 457px,#fce0d0 463px,#fcd7c2 468px,#f9c6ac 472px,#f7b596 475px,#f09c7b 478px,#de725b 481px,#cd4e45 483px,#b7212f 485px,#9e1228 486px,#8a0b25 487px,#7e0823 491px,#6a011f 494px,#67001f 495px,#67001f 546px,#700321 563px,#920e26 599px,#991027 614px,#9b1127 633px,#aa162a 655px,#b2192c 665px,#b92531 679px,#bc2b34 693px,#be3037 747px,#c7413f 774px,#c84440 791px)"></i>
<i style="background:linear-gradient(90deg,#f7f5f4 0px,#f7f6f6 366px,#f8f2ef 424px,#f9ede5 445px,#fbe6da 457px,#fddcc9 466px,#fcd7c2 468px,#f9c6ac 472px,#f7b596 475px,#f4a582 477px,#ea8e70 479px,#d6604d 482px,#b61f2e 485px,#9c1127 486px,#960f27 489px,#8d0c25 491px,#720421 495px,#67001f 498px,#67001f 580px,#6f0320 591px,#850a24 606px,#900d26 617px,#9c1127 643px,#b2192c 672px,#b61f2f 689px,#b92531 750px,#c3393b 780px,#c33a3b 791px)"></i>
<i style="background:linear-gradient(90deg,#f7f5f4 0px,#f6f7f7 349px,#f8f2ef 425px,#f9ede5 445px,#fbe6da 457px,#fddcc9 466px,#fcd3bc 469px,#f9c6ac 472px,#f6b394 475px,#f3a481 477px,#ea8e70 479px,#d6604d 482px,#b61f2e 485px,#9c1127 486px,#b41c2d 487px,#ae172b 490px,#780622 499px,#6f0320 503px,#6f0320 516px,#67001f 536px,#67001f 600px,#870a25 620px,#920e26 629px,#b0182b 677px,#b2192c 707px,#b61f2e 732px,#b51e2e 756px,#bf3237 784px,#bf3237 791px)"></i>
<i style="background:linear-gradient(90deg,#f7f5f4 0px,#f6f7f7 364px,#f8f2ef 427px,#f9eee7 443px,#fbe6da 457px,#fddcc9 466px,#fcd7c2 468px,#f9c6ac 472px,#f4a582 477px,#ea8e70 479px,#de725b 481px,#cd4e45 483px,#b7212f 485px,#a11328 486px,#ba2833 487px,#b51e2e 491px,#b2192c 492px,#870a25 500px,#840924 502px,#850a24 526px,#67001f 574px,#67001f 605px,#8d0c25 629px,#9f1228 648px,#ad172a 683px,#b41c2d 734px,#b2192c 762px,#b92732 779px,#bc2c35 791px)"></i>
<i style="background:linear-gradient(90deg,#f7f5f4 0px,#f3f5f6 245px,#f6f7f7 375px,#f7f5f4 404px,#f9f0eb 437px,#fbe6da 457px,#fddcc9 466px,#fcd7c2 468px,#f9c6ac 472px,#f7b596 475px,#f4a683 477px,#eb9071 479px,#df755d 481px,#cf5247 483px,#ba2833 485px,#a8152a 486px,#bc2c35 487px,#bc2c35 488px,#b82431 491px,#b2192c 493px,#950f27 499px,#8f0d26 501px,#950f27 523px,#930e26 550px,#8a0b25 568px,#7a0622 588px,#790622 602px,#7d0723 610px,#960f27 632px,#a11328 645px,#a21328 667px,#a81529 678px,#aa162a 705px,#b3192c 732px,#ad172a 765px,#b41b2d 774px,#b92531 791px)"></i>
<i style="background:linear-gradient(90deg,#f7f6f5 0px,#f2f5f6 253px,#f6f7f7 383px,#f9f0eb 438px,#fbe6da 457px,#fddcc9 466px,#fcd7c2 468px,#f9c2a7 473px,#f6b090 476px,#f2a07e 478px,#dc6e57 482px,#cc4b43 484px,#b7212f 486px,#c2393b 487px,#c2393b 488px,#ba2833 493px,#b11b2c 496px,#a21329 501px,#ab162a 517px,#b01c2d 540px,#b01c2d 563px,#a8152a 585px,#a21329 611px,#a41429 625px,#aa162a 637px,#a71529 660px,#a41429 661px,#a81529 680px,#a71529 705px,#b1182b 732px,#b1182b 741px,#a81529 757px,#a81529 764px,#b2192c 778px,#b51e2e 791px)"></i>
<i style="background:linear-gradient(90deg,#f7f6f6 0px,#f1f5f6 243px,#f6f7f7 390px,#f8f1ed 435px,#fae7dc 456px,#fcdfcf 464px,#fcd5bf 469px,#f9c5ab 473px,#f19f7d 479px,#e37e64 482px,#c84440 486px,#d66150 487px,#d66150 488px,#d55f4e 490px,#cb4942 496px,#c53e3d 501px,#cd4e45 528px,#ce4f45 556px,#c84440 581px,#bd2f36 611px,#b92531 636px,#ae172b 658px,#a51429 689px,#a51429 710px,#ae172a 733px,#ae172a 742px,#a51429 757px,#a51429 767px,#b0182b 782px,#b1182b 791px)"></i>
<i style="background:linear-gradient(90deg,#f7f6f6 0px,#f5f6f7 163px,#f0f4f6 262px,#f6f7f7 395px,#f8f1ed 436px,#fae8de 455px,#fddac6 468px,#fac9b0 473px,#f6b191 478px,#f4a583 480px,#e0775f 486px,#f2a485 487px,#f1a283 491px,#ec9477 500px,#ef9d7f 518px,#ef9b7c 543px,#eb9173 560px,#e27c62 581px,#cf5246 613px,#b51c2d 661px,#a21328 700px,#ab162a 733px,#ab162a 744px,#a21328 760px,#aa162a 780px,#aa162a 791px)"></i>
<i style="background:linear-gradient(90deg,#f7f6f6 0px,#f5f6f7 143px,#eff3f5 245px,#f0f4f6 335px,#f7f6f6 410px,#f8f2ef 434px,#fbe6da 458px,#fddcc8 468px,#f6b292 481px,#f5ad8c 484px,#f6b090 486px,#fcd9c6 487px,#fcd6c2 499px,#fcd9c6 522px,#fcd5c1 534px,#fbceb6 547px,#f7b698 569px,#ed9576 591px,#d7614f 618px,#bd2d35 655px,#b41b2d 673px,#a21328 698px,#a21328 712px,#a81529 729px,#a81529 749px,#a21328 757px,#a41429 791px)"></i>
<i style="background:linear-gradient(90deg,#f7f6f6 0px,#eef3f5 265px,#f0f4f6 345px,#f7f6f6 414px,#f8f2ef 435px,#fae7dc 457px,#fddbc7 469px,#fac9b0 476px,#f9c3a8 480px,#fac9b0 484px,#fcd7c3 486px,#faece3 487px,#faece3 522px,#fbe6d9 538px,#fdd7c2 559px,#f9c2a7 574px,#f5a785 590px,#d7624e 623px,#c33a3b 650px,#b3192c 678px,#a21328 698px,#a81529 747px,#a21328 757px,#a11328 791px)"></i>
<i style="background:linear-gradient(90deg,#f7f6f6 0px,#f2f5f6 198px,#edf2f5 256px,#f0f4f6 351px,#f7f6f6 416px,#f8f2ef 436px,#fae8de 456px,#fddbc7 470px,#fbd0b9 474px,#fac9b0 480px,#fcd2bb 483px,#fbe5d7 486px,#f9efe9 487px,#f8f1ed 512px,#f9eee7 526px,#fdddcb 556px,#fcd3bc 565px,#f5a886 591px,#d6604d 624px,#cb4942 639px,#c13639 657px,#b3192c 678px,#a21328 697px,#a81529 745px,#9f1228 767px,#9c1127 791px)"></i>
<i style="background:linear-gradient(90deg,#f7f6f6 0px,#f2f5f6 199px,#edf2f5 252px,#edf2f5 306px,#f7f6f6 418px,#f8f2ef 437px,#fae7dc 458px,#fddcc9 469px,#fbcbb3 476px,#fac6ac 480px,#fac8af 482px,#fcd1ba 484px,#fddfcd 486px,#f9eee7 487px,#f9eee7 519px,#fbe7dc 537px,#fdd7c2 560px,#f5a785 590px,#d7624e 622px,#ce4f45 634px,#c53e3d 650px,#b3192c 677px,#a21328 696px,#a51429 752px,#9c1127 775px,#9b1127 791px)"></i>
<i style="background:linear-gradient(90deg,#f7f6f6 0px,#f5f6f7 128px,#edf2f5 260px,#f0f4f6 357px,#f7f6f6 420px,#f8f1ed 441px,#fae7dc 458px,#fddbc7 469px,#f8bca0 479px,#f7b698 482px,#f7b799 484px,#f8bfa3 486px,#fce2d4 487px,#fce0d0 526px,#fbd0b9 552px,#f5ac8a 580px,#ee9777 592px,#d55f4d 619px,#cd4c44 631px,#c6403e 645px,#b2192c 674px,#aa162a 681px,#a21328 693px,#a51429 738px,#991027 791px)"></i>
<i style="background:linear-gradient(90deg,#f7f6f6 0px,#eef3f5 299px,#f6f7f7 414px,#f8f3f0 435px,#fae8de 457px,#fdddcb 467px,#fcd3bc 471px,#f9c3a8 475px,#f3a483 481px,#e98a6e 486px,#f7b799 487px,#f6b495 492px,#f3aa8c 499px,#f5b092 520px,#f4ad8e 534px,#f1a182 554px,#ed9576 567px,#df735c 593px,#ca4842 619px,#c53e3d 628px,#bf3237 648px,#b1182b 668px,#a41429 681px,#9f1228 694px,#a51429 711px,#a51429 726px,#9b1127 761px,#9b1127 791px)"></i>
<i style="background:linear-gradient(90deg,#f7f6f6 0px,#eff3f5 321px,#f6f7f7 415px,#f8f3f0 436px,#fae8de 457px,#fddbc7 468px,#f9c3a8 474px,#f3a481 479px,#e7866a 482px,#d05447 486px,#dd6f59 487px,#dd6f59 488px,#da6a56 491px,#cd4f46 500px,#d35a4d 523px,#d35c4d 539px,#d2584b 556px,#c84440 590px,#b92531 623px,#b41d2e 651px,#a11328 670px,#9b1127 682px,#9b1127 698px,#a41429 720px,#981027 756px,#9c1127 791px)"></i>
<i style="background:linear-gradient(90deg,#f7f6f6 0px,#f5f6f7 189px,#f0f4f6 310px,#f6f7f7 416px,#f8f3f0 436px,#fae8de 457px,#fcdfcf 465px,#fcd7c2 469px,#f8ba9d 475px,#f4a582 478px,#ea8e70 480px,#d86450 483px,#bc2c35 486px,#c2373a 487px,#c2373a 488px,#b72330 494px,#a8152a 498px,#a21329 500px,#a11328 505px,#ab1a2c 536px,#ab192b 575px,#a51429 600px,#9b1128 615px,#9e1228 650px,#8f0d26 670px,#900d26 689px,#9f1228 715px,#9e1228 732px,#960f27 749px,#960f27 767px,#9c1127 777px,#9c1127 791px)"></i>
<i style="background:linear-gradient(90deg,#f7f6f5 0px,#f6f7f7 180px,#f0f4f6 312px,#f6f7f7 415px,#f8f2ef 440px,#fae8de 457px,#fcdfcf 465px,#fcd7c2 469px,#f9c4a9 473px,#f6b191 476px,#f2a07e 478px,#e7886b 480px,#db6a54 482px,#c84440 484px,#af182b 486px,#b51e2e 487px,#b11a2c 490px,#a41429 493px,#8a0b25 497px,#7c0722 501px,#830924 533px,#830924 552px,#7f0823 583px,#730421 622px,#7f0823 645px,#7d0723 674px,#840924 687px,#9b1127 714px,#9b1127 732px,#930e26 756px,#9e1228 778px,#9c1127 791px)"></i>
<i style="background:linear-gradient(90deg,#f7f5f4 0px,#f7f6f6 173px,#f2f5f6 278px,#f6f7f7 413px,#f8f2ef 440px,#fbe6d9 460px,#fcdecd 466px,#fcd3bc 470px,#f6b191 476px,#f19e7d 478px,#df765e 481px,#cf5246 483px,#b82531 485px,#a41429 486px,#aa162a 487px,#a11328 490px,#6d0220 499px,#69011f 502px,#6c0220 540px,#67001f 570px,#67001f 655px,#6d0220 672px,#7e0823 686px,#981027 718px,#960f27 758px,#a11328 777px,#9e1228 791px)"></i>
<i style="background:linear-gradient(90deg,#f7f5f4 0px,#f7f6f6 208px,#f3f5f6 278px,#f6f7f7 410px,#f8f2ef 440px,#fbe6da 460px,#fcdecd 466px,#fcd3bc 470px,#f6b191 476px,#f19e7d 478px,#e58368 480px,#d7634f 482px,#ce4f45 483px,#b72230 485px,#a11328 486px,#950f27 487px,#8d0c25 490px,#760521 494px,#6d0220 495px,#67001f 497px,#67001f 672px,#7f0823 690px,#960f27 718px,#960f27 726px,#991027 727px,#981027 753px,#a41429 771px,#a11328 791px)"></i>
<i style="background:linear-gradient(90deg,#f8f5f3 0px,#f8f4f1 104px,#f6f7f7 250px,#f6f7f7 403px,#f8f3f0 436px,#f9eee7 450px,#fae7dc 459px,#fcdecd 466px,#fcd3bc 470px,#facab1 472px,#f6b191 476px,#f19e7d 478px,#df765e 481px,#d7634f 482px,#b72230 485px,#9f1228 486px,#800823 487px,#7d0723 489px,#69011f 493px,#67001f 669px,#7c0723 683px,#960f27 717px,#9b1127 747px,#aa162a 771px,#a71529 791px)"></i>
<i style="background:linear-gradient(90deg,#f8f4f2 0px,#f8f3f0 159px,#f7f7f7 266px,#f6f7f7 375px,#f7f6f6 412px,#f8f2ef 439px,#fae8de 458px,#fdddcb 467px,#facab1 472px,#f7b99c 475px,#f5a988 477px,#ec9374 479px,#d86551 482px,#cf5246 483px,#b72230 485px,#a11328 486px,#780622 487px,#730421 489px,#67001f 491px,#67001f 662px,#820924 678px,#8f0d26 704px,#9b1127 718px,#a11328 745px,#b0182b 769px,#ad172a 791px)"></i>
<i style="background:linear-gradient(90deg,#f8f4f2 0px,#f8f2ef 152px,#f7f6f6 294px,#f7f6f6 399px,#f8f2ef 438px,#fae8de 458px,#fcdfce 466px,#fcd5bf 470px,#f9c1a6 474px,#f5ab8a 477px,#f3a380 478px,#e27a61 481px,#d15548 483px,#ba2833 485px,#a71529 486px,#7d0723 487px,#790622 489px,#69011f 492px,#67001f 653px,#6c0220 658px,#7b0722 664px,#8a0b25 674px,#930e27 685px,#960f27 703px,#a51429 726px,#ab162a 749px,#b51c2d 766px,#b41b2d 791px)"></i>
<i style="background:linear-gradient(90deg,#f8f3f0 0px,#f8f1ed 140px,#f7f5f4 305px,#f7f5f4 412px,#f8f2ef 437px,#f9efe9 447px,#fbe7db 460px,#fcdecd 467px,#fcd4be 471px,#f6b191 477px,#f19d7c 479px,#e58267 481px,#d7614f 483px,#c13639 485px,#b51f2e 486px,#900d26 487px,#900d26 488px,#870a24 490px,#6d0220 494px,#67001f 496px,#67001f 610px,#6c0220 621px,#6d0220 645px,#960f27 672px,#9c1128 678px,#9f1228 702px,#b1182b 728px,#b51c2d 749px,#ba2833 767px,#b92531 791px)"></i>
<i style="background:linear-gradient(90deg,#f8f3f0 0px,#f9f1ec 164px,#f8f5f3 403px,#f8f2ef 437px,#f9eee7 450px,#fbe6d9 463px,#fddcc9 470px,#fdd6c0 472px,#fbcdb5 474px,#f7b597 478px,#ef9979 481px,#dc6e58 484px,#d35a4b 485px,#c94540 486px,#b52330 487px,#b01e2e 489px,#a11328 492px,#760521 498px,#6f0320 500px,#6c0220 503px,#6a0120 534px,#6f0320 569px,#780622 598px,#850a24 623px,#850a24 645px,#8f0d26 656px,#a41429 670px,#ad172a 683px,#af182b 706px,#b82430 724px,#b92632 739px,#c03338 765px,#bf3237 791px)"></i>
<i style="background:linear-gradient(90deg,#f8f2ef 0px,#f9f0ea 137px,#f8f4f2 419px,#f8f2ef 438px,#f9eee7 452px,#fbe7dc 464px,#fddfce 472px,#fdd8c3 475px,#facbb3 478px,#f8ba9c 481px,#f4aa8a 483px,#ec9475 485px,#e6856a 486px,#e37d64 488px,#c7433f 495px,#b42933 499px,#a81e2e 502px,#a11429 508px,#950f27 518px,#8f0d25 529px,#8c0c25 551px,#981027 608px,#9f1228 626px,#9f1228 648px,#b21b2c 667px,#b82430 681px,#b92531 699px,#c13639 725px,#c7433f 762px,#c7433f 791px)"></i>
<i style="background:linear-gradient(90deg,#f8f2ef 0px,#f9efe9 80px,#f9efe9 168px,#f8f3f0 431px,#f9eee7 455px,#fae8de 468px,#fce1d1 477px,#fcd9c5 481px,#f9c3a8 486px,#fcddcb 487px,#fac7ae 493px,#efa186 499px,#e7876c 504px,#d66253 513px,#ce5147 519px,#c43c3c 529px,#bc2a34 543px,#b62230 566px,#b72230 647px,#c33a3b 679px,#c53d3d 699px,#cc4d44 724px,#d15548 756px,#d15648 791px)"></i>
<i style="background:linear-gradient(90deg,#f8f1ed 0px,#f9eee7 130px,#f8f3f0 426px,#f8f1ed 445px,#f9ece4 466px,#fbe8dd 479px,#fce3d5 486px,#f9efe9 487px,#f9f0eb 490px,#faebe3 498px,#fce2d3 504px,#f9c2a7 517px,#f4ad90 523px,#e8896c 537px,#dc6f59 551px,#d35a4c 571px,#cb4a43 607px,#ca4842 654px,#d25649 679px,#d45c4c 704px,#d96752 723px,#db6b55 791px)"></i>
<i style="background:linear-gradient(90deg,#f8f1ed 0px,#f9eee7 78px,#f9eee7 176px,#f8f2ef 434px,#f9ede5 465px,#faece3 484px,#f9ede5 486px,#f8f1ed 487px,#f7f7f7 493px,#f6f6f7 498px,#f7f4f3 509px,#faebe2 522px,#fbcbb3 543px,#f7b698 555px,#f2a485 567px,#ea8e71 588px,#e27c62 612px,#dd6f59 661px,#de725b 662px,#e0765e 678px,#e17860 699px,#e58267 721px,#e48166 781px,#e68468 791px)"></i>
<i style="background:linear-gradient(90deg,#f9f1ec 0px,#f9eee6 145px,#f9efe8 335px,#f8f2ee 430px,#f9ede5 475px,#f9f0ea 486px,#f6f7f7 492px,#eef3f5 509px,#f4f5f6 526px,#f8f3f0 537px,#fbe8dd 552px,#fcd3bd 575px,#f7b89a 601px,#f5af8f 613px,#f09c7b 648px,#ee9677 668px,#f19d7c 713px,#ef9a7a 791px)"></i>
<i style="background:linear-gradient(90deg,#f9f0eb 0px,#f9ede5 89px,#f9ede5 157px,#f9eee6 324px,#f8f1ed 431px,#f9ede5 475px,#f9efe9 485px,#f6f7f7 492px,#eaf1f5 510px,#ebf1f5 530px,#f4f5f6 551px,#f8f3f0 565px,#fce1d2 596px,#fac8af 633px,#f7b698 668px,#f7b698 719px,#f6b191 745px,#f6af8f 791px)"></i>
<i style="background:linear-gradient(90deg,#f9f0eb 0px,#f9ede5 85px,#f9ede5 347px,#f9f0eb 438px,#f9ede5 476px,#f9efe9 485px,#f6f7f7 493px,#eaf1f5 506px,#e7f0f4 517px,#e9f1f5 549px,#f3f6f7 576px,#f7f5f3 588px,#fddfcd 641px,#fbd1ba 669px,#fac9b0 726px,#f9c4aa 744px,#f9c0a4 791px)"></i>
<i style="background:linear-gradient(90deg,#f9f0eb 0px,#f9ede5 70px,#f9ebe3 332px,#f9f0ea 415px,#f9ede5 478px,#f9eee7 484px,#f6f7f7 495px,#eaf1f5 509px,#e6eff4 535px,#e8f0f4 565px,#f4f6f7 600px,#f8f4f3 615px,#fbe7db 653px,#fce0d0 678px,#fddac7 729px,#fdd7c2 745px,#fcd5bf 746px,#fcd3bd 780px,#fcd0b8 791px)"></i>
<i style="background:linear-gradient(90deg,#f9f0ea 0px,#f9ede5 65px,#f9ebe3 357px,#f9efe9 413px,#f9ede5 480px,#f9f0eb 488px,#f6f7f7 497px,#ebf2f5 511px,#e7f0f4 535px,#e7f0f4 571px,#f6f6f7 626px,#fbe8de 686px,#fce0d0 747px,#fdddca 791px)"></i>
<i style="background:linear-gradient(90deg,#f9efe9 0px,#f9ede5 61px,#f9ede5 243px,#faeae1 297px,#f9efe8 429px,#f9ebe3 471px,#f9eee7 485px,#f6f7f7 499px,#edf2f5 512px,#e8f0f4 548px,#eaf1f5 598px,#f6f6f7 647px,#fbe8dd 740px,#fce4d5 791px)"></i>
<i style="background:linear-gradient(90deg,#f9efe9 0px,#f9ede5 59px,#f9ede5 236px,#faeae1 280px,#faeae1 349px,#f9eee7 411px,#f9ebe3 475px,#f9eee7 486px,#f6f7f7 501px,#eef3f5 516px,#eaf1f5 554px,#eaf1f5 604px,#f6f7f7 663px,#fae8de 791px)"></i>
<i style="background:linear-gradient(90deg,#f9efe9 0px,#f9ede5 60px,#f9ede5 232px,#faeae1 271px,#faeae1 356px,#f9eee6 417px,#f9ebe3 478px,#f9eee7 487px,#f6f7f7 503px,#f0f4f6 518px,#eaf1f5 576px,#edf2f5 631px,#f6f7f7 684px,#f9ede5 791px)"></i>
<i style="background:linear-gradient(90deg,#f9efe9 0px,#f9ede5 64px,#f9ede5 231px,#faeae1 267px,#faeae1 358px,#f9ede5 394px,#f9ebe3 480px,#f6f7f7 506px,#f0f4f6 532px,#ecf2f5 578px,#edf2f5 634px,#f6f7f7 704px,#f9f1ec 791px)"></i>
<i style="background:linear-gradient(90deg,#f9f0eb 0px,#f9ede5 71px,#f9eee6 177px,#faeae1 352px,#f9ede5 396px,#f9ebe3 482px,#f6f7f7 510px,#eef3f5 569px,#edf2f5 620px,#f6f7f7 724px,#f8f3f0 791px)"></i>
<i style="background:linear-gradient(90deg,#f9f0eb 0px,#f9ede5 86px,#f9eee7 187px,#faeae1 271px,#f9ede5 395px,#f9ede5 441px,#faeae1 467px,#f9ebe3 483px,#f8f5f3 506px,#f6f7f7 522px,#eff3f5 617px,#f6f7f7 743px,#f8f4f2 791px)"></i>
<i style="background:linear-gradient(90deg,#f9f0eb 0px,#f9eee7 38px,#f9eee7 197px,#faeae1 282px,#f9ede5 388px,#f9ede5 440px,#faeae1 470px,#f9ebe3 484px,#f8f3f0 504px,#f7f7f7 530px,#f1f5f6 640px,#f6f7f7 758px,#f7f5f4 791px)"></i>
<i style="background:linear-gradient(90deg,#f9f0eb 0px,#f9eee7 45px,#f9eee7 204px,#f9ebe3 243px,#f9ede5 440px,#faeae1 468px,#f9ede5 490px,#f8f2ef 508px,#f7f7f7 550px,#f3f5f6 636px,#f6f7f7 766px,#f7f5f4 791px)"></i>
<i style="background:linear-gradient(90deg,#f9f0eb 0px,#f9eee7 55px,#f9eee7 211px,#f9ebe3 251px,#f9ebe3 485px,#f8f2ee 511px,#f7f7f7 575px,#f6f7f7 768px,#f7f5f4 791px)"></i>
<i style="background:linear-gradient(90deg,#f9f1ec 0px,#f9eee7 69px,#f9efe9 164px,#f9ebe3 268px,#f9eee6 364px,#f9ebe3 485px,#f8f1ed 516px,#f7f6f6 597px,#f6f7f7 766px,#f7f5f4 791px)"></i>
<i style="background:linear-gradient(90deg,#f8f1ed 0px,#f9efe8 82px,#f9efe9 184px,#f9ede5 231px,#f9eee7 421px,#f9ebe3 483px,#f8f1ed 525px,#f7f6f6 624px,#f6f7f7 764px,#f7f5f4 791px)"></i>
<i style="background:linear-gradient(90deg,#f8f1ed 0px,#f9efe9 46px,#f9efe9 195px,#f9ede5 243px,#f9eee7 432px,#f9ebe3 478px,#f9f0eb 517px,#f7f6f6 642px,#f6f7f7 761px,#f7f5f4 791px)"></i>
<i style="background:linear-gradient(90deg,#f8f1ed 0px,#f9ede5 267px,#f9efe9 346px,#f9ede5 490px,#f9f0eb 522px,#f7f6f6 652px,#f6f7f7 760px,#f7f5f4 791px)"></i>
<i style="background:linear-gradient(90deg,#f8f2ee 0px,#f9efe9 79px,#f9efe9 423px,#f9ede5 484px,#f7f6f6 657px,#f6f7f7 759px,#f8f5f3 791px)"></i>
<i style="background:linear-gradient(90deg,#f8f2ef 0px,#f9eee7 230px,#f9f0eb 387px,#f9eee6 477px,#f6f7f7 680px,#f6f7f7 759px,#f8f4f2 791px)"></i>
<i style="background:linear-gradient(90deg,#f8f2ef 0px,#f9eee7 242px,#f9f0eb 350px,#f9eee7 486px,#f6f7f7 680px,#f6f7f7 759px,#f8f4f2 791px)"></i>
<i style="background:linear-gradient(90deg,#f8f2ef 0px,#f9eee7 270px,#f9f0eb 326px,#f9f0eb 563px,#f6f7f7 680px,#f6f7f7 759px,#f8f4f2 791px)"></i>
<i style="background:linear-gradient(90deg,#f8f3f0 0px,#f9f0eb 104px,#f9efe9 316px,#f8f1ed 361px,#f9f0eb 558px,#f6f7f7 681px,#f6f7f7 758px,#f8f4f2 791px)"></i>
<i style="background:linear-gradient(90deg,#f8f3f0 0px,#f9efe9 199px,#f9efe9 313px,#f8f1ed 350px,#f8f1ed 588px,#f6f7f7 682px,#f7f5f4 791px)"></i>
<i style="background:linear-gradient(90deg,#f8f3f0 0px,#f9efe9 200px,#f9efe9 312px,#f8f2ee 390px,#f8f1ed 585px,#f6f7f7 684px,#f7f5f4 791px)"></i>
<i style="background:linear-gradient(90deg,#f8f3f0 0px,#f9efe9 200px,#f9efe9 313px,#f8f2ef 381px,#f8f1ed 582px,#f6f7f7 685px,#f7f5f4 791px)"></i>
</div>
<div class="hm" style="left:1093px;top:0;width:791px;height:566px">
<i style="background:linear-gradient(90deg,#f8f3f0 0px,#f7f5f4 196px,#f8f3f0 619px,#f7f6f6 682px,#f7f5f4 791px)"></i>
<i style="background:linear-gradient(90deg,#f8f3f0 0px,#f7f5f4 222px,#f8f3f0 618px,#f7f6f6 681px,#f7f5f4 791px)"></i>
<i style="background:linear-gradient(90deg,#f8f3f0 0px,#f7f5f4 207px,#f8f3f0 615px,#f7f6f6 679px,#f7f5f4 791px)"></i>
<i style="background:linear-gradient(90deg,#f8f3f0 0px,#f7f5f4 72px,#f7f5f4 403px,#f8f3f0 529px,#f8f3f0 612px,#f7f6f6 677px,#f7f5f4 791px)"></i>
<i style="background:linear-gradient(90deg,#f8f3f0 0px,#f7f5f4 65px,#f7f5f4 475px,#f8f3f0 535px,#f8f3f0 608px,#f7f6f6 674px,#f7f5f4 791px)"></i>
<i style="background:linear-gradient(90deg,#f8f3f0 0px,#f7f5f4 60px,#f7f5f4 491px,#f8f3f0 543px,#f8f3f0 603px,#f7f6f6 672px,#f7f5f4 791px)"></i>
<i style="background:linear-gradient(90deg,#f8f3f0 0px,#f7f5f4 55px,#f7f5f4 504px,#f8f3f0 557px,#f7f6f6 669px,#f7f5f4 791px)"></i>
<i style="background:linear-gradient(90deg,#f8f3f0 0px,#f7f5f4 49px,#f7f5f4 516px,#f8f4f1 569px,#f7f6f6 667px,#f7f5f4 791px)"></i>
<i style="background:linear-gradient(90deg,#f8f3f0 0px,#f7f6f5 104px,#f8f4f2 210px,#f7f6f6 451px,#f8f4f2 535px,#f8f4f2 623px,#f7f6f6 664px,#f7f5f4 791px)"></i>
<i style="background:linear-gradient(90deg,#f8f4f2 0px,#f7f6f6 90px,#f8f4f2 210px,#f7f6f6 438px,#f8f4f2 550px,#f7f6f6 661px,#f7f6f5 791px)"></i>
<i style="background:linear-gradient(90deg,#f8f4f2 0px,#f7f6f6 77px,#f8f4f2 218px,#f7f6f6 433px,#f8f4f2 598px,#f7f6f6 657px,#f7f6f6 791px)"></i>
<i style="background:linear-gradient(90deg,#f8f4f2 0px,#f7f6f6 69px,#f8f4f2 230px,#f7f6f6 430px,#f7f6f6 791px)"></i>
<i style="background:linear-gradient(90deg,#f8f4f2 0px,#f7f6f6 62px,#f7f6f6 168px,#f8f4f2 212px,#f8f4f2 379px,#f7f7f7 476px,#f7f6f6 791px)"></i>
<i style="background:linear-gradient(90deg,#f7f5f4 0px,#f7f6f6 171px,#f8f4f2 208px,#f8f4f2 385px,#f6f7f7 469px,#f7f5f4 573px,#f7f6f6 791px)"></i>
<i style="background:linear-gradient(90deg,#f7f5f4 0px,#f7f6f6 173px,#f8f4f2 208px,#f8f4f2 389px,#f6f7f7 464px,#f7f6f6 791px)"></i>
<i style="background:linear-gradient(90deg,#f7f5f4 0px,#f7f6f6 174px,#f8f4f2 207px,#f8f4f2 391px,#f6f7f7 460px,#f7f6f6 791px)"></i>
<i style="background:linear-gradient(90deg,#f7f5f4 0px,#f7f6f6 173px,#f8f4f1 266px,#f8f4f2 392px,#f6f7f7 458px,#f7f6f6 791px)"></i>
<i style="background:linear-gradient(90deg,#f7f6f6 0px,#f7f6f6 172px,#f8f3f0 268px,#f8f4f2 390px,#f6f7f7 456px,#f7f6f6 791px)"></i>
<i style="background:linear-gradient(90deg,#f7f6f6 0px,#f7f6f6 169px,#f8f3f0 268px,#f8f4f2 388px,#f6f7f7 454px,#f7f6f6 791px)"></i>
<i style="background:linear-gradient(90deg,#f7f6f6 0px,#f7f6f6 164px,#f8f3f0 243px,#f8f4f2 385px,#f6f7f7 453px,#f7f6f6 791px)"></i>
<i style="background:linear-gradient(90deg,#f7f6f6 0px,#f7f6f6 157px,#f8f3f0 239px,#f8f4f2 381px,#f6f7f7 452px,#f7f6f6 791px)"></i>
<i style="background:linear-gradient(90deg,#f7f6f6 0px,#f7f6f6 145px,#f8f3f0 239px,#f8f4f2 378px,#f6f7f7 451px,#f7f6f6 791px)"></i>
<i style="background:linear-gradient(90deg,#f7f6f6 0px,#f7f5f4 190px,#f8f3f0 243px,#f6f7f7 452px,#f7f6f6 791px)"></i>
<i style="background:linear-gradient(90deg,#f7f6f6 0px,#f8f3f0 268px,#f6f7f7 455px,#f7f6f6 791px)"></i>
<i style="background:linear-gradient(90deg,#f7f6f6 0px,#f8f3f0 268px,#f6f7f7 462px,#f7f6f6 791px)"></i>
<i style="background:linear-gradient(90deg,#f7f6f6 0px,#f8f3f0 268px,#f6f7f7 473px,#f7f6f6 791px)"></i>
<i style="background:linear-gradient(90deg,#f7f6f6 0px,#f8f3f0 268px,#f6f7f7 493px,#f7f6f6 791px)"></i>
<i style="background:linear-gradient(90deg,#f7f6f6 0px,#f8f3f0 268px,#f7f6f6 455px,#f7f6f6 791px)"></i>
<i style="background:linear-gradient(90deg,#f7f6f6 0px,#f8f4f2 58px,#f8f3f0 268px,#f7f6f6 478px,#f7f6f6 791px)"></i>
<i style="background:linear-gradient(90deg,#f7f6f6 0px,#f8f4f2 51px,#f8f3f0 268px,#f7f6f6 525px,#f7f6f6 791px)"></i>
<i style="background:linear-gradient(90deg,#f7f6f6 0px,#f8f3f0 91px,#f8f3f0 392px,#f7f6f6 588px,#f7f6f6 791px)"></i>
<i style="background:linear-gradient(90deg,#f7f6f6 0px,#f8f3f0 74px,#f8f4f2 242px,#f8f2ef 324px,#f6f7f7 655px,#f7f6f6 791px)"></i>
<i style="background:linear-gradient(90deg,#f7f6f6 0px,#f8f3f0 67px,#f8f4f2 235px,#f8f2ef 301px,#f6f7f7 650px,#f7f6f6 791px)"></i>
<i style="background:linear-gradient(90deg,#f7f6f6 0px,#f8f3f0 62px,#f8f4f2 226px,#f8f2ef 297px,#f8f3f0 466px,#f6f7f7 645px,#f7f6f6 791px)"></i>
<i style="background:linear-gradient(90deg,#f7f6f5 0px,#f8f3f0 59px,#f8f2ee 375px,#f6f7f7 641px,#f7f6f6 791px)"></i>
<i style="background:linear-gradient(90deg,#f7f5f4 0px,#f8f3f0 57px,#f8f1ed 389px,#f6f7f7 636px,#f7f6f5 791px)"></i>
<i style="background:linear-gradient(90deg,#f7f5f4 0px,#f8f3f0 56px,#f8f1ed 344px,#f6f7f7 632px,#f7f5f4 791px)"></i>
<i style="background:linear-gradient(90deg,#f7f5f4 0px,#f8f3f0 57px,#f8f3f0 271px,#f8f1ed 308px,#f8f1ed 414px,#f6f7f7 626px,#f7f5f4 791px)"></i>
<i style="background:linear-gradient(90deg,#f7f5f4 0px,#f8f3f0 60px,#f8f3f0 271px,#f8f1ed 306px,#f8f1ed 415px,#f6f7f7 620px,#f8f5f3 791px)"></i>
<i style="background:linear-gradient(90deg,#f7f5f4 0px,#f8f3f0 65px,#f8f3f0 272px,#f8f1ed 307px,#f8f1ed 411px,#f6f7f7 612px,#f6f7f7 703px,#f8f4f2 791px)"></i>
<i style="background:linear-gradient(90deg,#f7f5f4 0px,#f8f1ed 310px,#f8f1ed 402px,#f6f7f7 603px,#f8f4f2 791px)"></i>
<i style="background:linear-gradient(90deg,#f7f5f4 0px,#f8f3f0 82px,#f8f4f2 229px,#f8f1ed 388px,#f7f6f6 544px,#f6f7f7 693px,#f8f3f0 791px)"></i>
<i style="background:linear-gradient(90deg,#f7f6f6 0px,#f8f3f0 96px,#f8f4f2 238px,#f8f1ed 330px,#f6f7f7 579px,#f6f7f7 689px,#f8f3f0 791px)"></i>
<i style="background:linear-gradient(90deg,#f7f6f6 0px,#f8f3f0 116px,#f8f2ef 401px,#f7f6f6 519px,#f6f7f7 686px,#f8f3f0 791px)"></i>
<i style="background:linear-gradient(90deg,#f7f6f6 0px,#f8f4f2 59px,#f8f2ef 379px,#f7f6f6 508px,#f6f7f7 684px,#f8f2ef 791px)"></i>
<i style="background:linear-gradient(90deg,#f7f6f6 0px,#f8f4f2 67px,#f8f2ef 344px,#f7f6f6 496px,#f6f7f7 683px,#f8f2ef 791px)"></i>
<i style="background:linear-gradient(90deg,#f7f6f6 0px,#f8f4f2 74px,#f8f3f0 382px,#f7f6f6 483px,#f6f7f7 681px,#f8f3f0 741px,#f8f2ef 791px)"></i>
<i style="background:linear-gradient(90deg,#f7f6f6 0px,#f8f4f2 78px,#f8f3f0 356px,#f7f6f6 469px,#f6f7f7 680px,#f8f3f0 740px,#f8f2ef 791px)"></i>
<i style="background:linear-gradient(90deg,#f7f6f6 0px,#f8f4f2 80px,#f8f4f1 335px,#f7f6f6 452px,#f6f7f7 678px,#f8f3f0 739px,#f8f2ef 791px)"></i>
<i style="background:linear-gradient(90deg,#f7f6f5 0px,#f8f4f2 362px,#f7f6f6 431px,#f6f7f7 676px,#f8f3f0 740px,#f8f2ef 791px)"></i>
<i style="background:linear-gradient(90deg,#f7f5f4 0px,#f8f4f2 333px,#f7f6f6 407px,#f6f7f7 673px,#f8f2ef 791px)"></i>
<i style="background:linear-gradient(90deg,#f7f5f4 0px,#f8f3f0 159px,#f7f6f6 386px,#f6f7f7 669px,#f8f2ef 791px)"></i>
<i style="background:linear-gradient(90deg,#f7f5f4 0px,#f8f3f0 173px,#f7f6f6 366px,#f6f7f7 662px,#f8f2ef 791px)"></i>
<i style="background:linear-gradient(90deg,#f7f5f4 0px,#f8f3f0 179px,#f7f6f6 344px,#f6f7f7 648px,#f8f2ef 791px)"></i>
<i style="background:linear-gradient(90deg,#f8f4f2 0px,#f8f3f0 183px,#f7f6f6 316px,#f6f7f7 610px,#f7f6f6 699px,#f8f2ef 791px)"></i>
<i style="background:linear-gradient(90deg,#f8f4f2 0px,#f8f3f0 186px,#f7f6f6 285px,#f6f7f7 425px,#f7f6f6 697px,#f8f3f0 791px)"></i>
<i style="background:linear-gradient(90deg,#f8f4f2 0px,#f8f3f0 187px,#f7f6f6 271px,#f6f7f7 421px,#f7f6f6 694px,#f8f3f0 791px)"></i>
<i style="background:linear-gradient(90deg,#f8f4f1 0px,#f8f3f0 186px,#f7f6f6 263px,#f6f7f7 413px,#f7f5f4 482px,#f7f6f6 686px,#f8f3f0 791px)"></i>
<i style="background:linear-gradient(90deg,#f8f3f0 0px,#f8f3f0 185px,#f7f6f6 258px,#f6f7f7 358px,#f8f4f1 791px)"></i>
<i style="background:linear-gradient(90deg,#f8f3f0 0px,#f8f3f0 182px,#f7f6f6 254px,#f7f7f7 363px,#f8f4f2 791px)"></i>
<i style="background:linear-gradient(90deg,#f8f3f0 0px,#f8f3f0 178px,#f7f6f6 251px,#f8f4f2 791px)"></i>
<i style="background:linear-gradient(90deg,#f8f2ef 0px,#f8f3f0 174px,#f7f6f6 247px,#f7f6f6 437px,#f8f4f2 487px,#f7f5f4 791px)"></i>
<i style="background:linear-gradient(90deg,#f8f2ef 0px,#f8f3f0 168px,#f7f6f6 244px,#f7f6f6 426px,#f8f4f2 477px,#f7f6f6 702px,#f7f5f4 791px)"></i>
<i style="background:linear-gradient(90deg,#f8f2ef 0px,#f8f3f0 161px,#f7f6f6 241px,#f7f6f6 412px,#f8f4f2 470px,#f7f6f6 695px,#f7f5f4 791px)"></i>
<i style="background:linear-gradient(90deg,#f8f2ef 0px,#f8f3f0 154px,#f7f6f6 237px,#f8f4f2 495px,#f7f6f6 791px)"></i>
<i style="background:linear-gradient(90deg,#f8f2ef 0px,#f8f3f0 145px,#f7f6f6 232px,#f7f6f6 373px,#f8f3f0 515px,#f7f6f6 791px)"></i>
<i style="background:linear-gradient(90deg,#f8f2ef 0px,#f8f3f0 135px,#f7f6f6 228px,#f7f6f6 361px,#f8f3f0 544px,#f7f7f7 791px)"></i>
<i style="background:linear-gradient(90deg,#f8f2ef 0px,#f8f3f0 124px,#f7f6f6 223px,#f8f3f0 544px,#f6f7f7 791px)"></i>
<i style="background:linear-gradient(90deg,#f8f2ef 0px,#f8f3f0 113px,#f7f6f6 218px,#f8f3f0 536px,#f7f6f6 663px,#f6f7f7 791px)"></i>
<i style="background:linear-gradient(90deg,#f8f2ef 0px,#f7f6f6 214px,#f8f4f2 593px,#f5f6f7 791px)"></i>
<i style="background:linear-gradient(90deg,#f8f2ef 0px,#f7f6f6 209px,#f8f4f2 583px,#f5f6f7 791px)"></i>
<i style="background:linear-gradient(90deg,#f8f2ef 0px,#f7f6f6 204px,#f8f4f2 572px,#f6f7f7 681px,#f4f6f7 791px)"></i>
<i style="background:linear-gradient(90deg,#f8f2ef 0px,#f7f6f6 198px,#f8f4f2 425px,#f3f5f6 791px)"></i>
<i style="background:linear-gradient(90deg,#f8f2ef 0px,#f7f6f6 190px,#f7f6f6 333px,#f8f4f2 401px,#f3f5f6 791px)"></i>
<i style="background:linear-gradient(90deg,#f8f2ef 0px,#f7f6f6 181px,#f8f4f2 433px,#f6f7f7 641px,#f3f5f6 791px)"></i>
<i style="background:linear-gradient(90deg,#f8f3f0 0px,#f7f6f6 170px,#f8f4f2 409px,#f6f7f7 617px,#f2f5f6 791px)"></i>
<i style="background:linear-gradient(90deg,#f8f3f0 0px,#f7f6f6 159px,#f8f4f2 378px,#f6f7f7 594px,#f2f5f6 791px)"></i>
<i style="background:linear-gradient(90deg,#f8f3f0 0px,#f8f3f0 66px,#f7f6f6 150px,#f8f4f2 369px,#f6f7f7 575px,#f2f5f6 791px)"></i>
<i style="background:linear-gradient(90deg,#f8f3f0 0px,#f8f3f0 67px,#f7f6f6 144px,#f8f4f2 407px,#f6f7f7 559px,#f2f5f6 791px)"></i>
<i style="background:linear-gradient(90deg,#f8f3f0 0px,#f8f3f0 69px,#f7f6f6 140px,#f8f4f2 328px,#f6f7f7 544px,#f2f5f6 791px)"></i>
<i style="background:linear-gradient(90deg,#f8f3f0 0px,#f8f3f0 72px,#f7f6f6 137px,#f8f4f2 305px,#f7f6f6 522px,#f0f4f6 791px)"></i>
<i style="background:linear-gradient(90deg,#f8f3f0 0px,#f8f3f0 75px,#f6f7f7 178px,#f8f4f2 263px,#f8f4f2 405px,#f6f7f7 516px,#f0f4f6 791px)"></i>
<i style="background:linear-gradient(90deg,#f8f4f1 0px,#f8f3f0 77px,#f6f7f7 168px,#f8f4f2 256px,#f8f4f2 397px,#f6f7f7 503px,#f0f4f6 791px)"></i>
<i style="background:linear-gradient(90deg,#f8f4f2 0px,#f8f3f0 79px,#f6f7f7 164px,#f8f3f0 296px,#f6f7f7 490px,#f0f4f6 625px,#f0f4f6 791px)"></i>
<i style="background:linear-gradient(90deg,#f8f4f2 0px,#f8f3f0 78px,#f6f7f7 162px,#f7f6f6 226px,#f8f3f0 282px,#f6f7f7 477px,#f0f4f6 598px,#f0f4f6 791px)"></i>
<i style="background:linear-gradient(90deg,#f8f4f2 0px,#f8f3f0 71px,#f6f7f7 162px,#f7f6f6 226px,#f8f3f0 277px,#f6f7f7 465px,#f0f4f6 582px,#f0f4f6 791px)"></i>
<i style="background:linear-gradient(90deg,#f7f5f4 0px,#f8f4f2 109px,#f7f6f6 134px,#f6f7f7 199px,#f8f3f0 321px,#f6f7f7 454px,#eff3f5 604px,#f0f4f6 791px)"></i>
<i style="background:linear-gradient(90deg,#f7f5f4 0px,#f8f4f2 106px,#f7f6f6 133px,#f6f7f7 199px,#f8f3f0 312px,#f6f7f7 443px,#eff3f5 587px,#f0f4f6 791px)"></i>
<i style="background:linear-gradient(90deg,#f7f6f6 0px,#f8f4f2 101px,#f6f7f7 199px,#f8f4f1 297px,#f6f7f7 433px,#edf2f5 633px,#f0f4f6 791px)"></i>
<i style="background:linear-gradient(90deg,#f7f7f7 0px,#f8f5f3 95px,#f6f7f7 199px,#f8f4f2 256px,#f7f6f6 419px,#edf2f5 606px,#f0f4f6 791px)"></i>
<i style="background:linear-gradient(90deg,#f6f7f7 0px,#f7f5f4 63px,#f6f7f7 200px,#f8f4f2 263px,#f6f7f7 449px,#edf2f5 591px,#f0f4f6 791px)"></i>
<i style="background:linear-gradient(90deg,#f6f7f7 0px,#f7f5f4 90px,#f6f7f7 201px,#f8f4f2 277px,#f5f6f7 473px,#edf2f5 580px,#f0f4f6 791px)"></i>
<i style="background:linear-gradient(90deg,#f5f6f7 0px,#f7f6f6 397px,#edf2f5 570px,#f0f4f6 791px)"></i>
<i style="background:linear-gradient(90deg,#f3f5f6 0px,#f7f6f6 69px,#f7f6f6 389px,#f5f6f7 469px,#edf2f5 563px,#f0f4f6 791px)"></i>
<i style="background:linear-gradient(90deg,#f3f5f6 0px,#f7f6f6 86px,#f7f6f6 380px,#f5f6f7 469px,#edf2f5 559px,#f0f4f6 791px)"></i>
<i style="background:linear-gradient(90deg,#f2f5f6 0px,#f7f7f7 98px,#f7f6f6 366px,#f5f6f7 471px,#edf2f5 556px,#f0f4f6 791px)"></i>
<i style="background:linear-gradient(90deg,#f2f5f6 0px,#f7f6f6 223px,#f6f7f7 444px,#edf2f5 558px,#edf2f5 719px,#f2f5f6 791px)"></i>
<i style="background:linear-gradient(90deg,#f2f5f6 0px,#f7f6f6 230px,#f6f7f7 450px,#edf2f5 562px,#edf2f5 707px,#f2f5f6 791px)"></i>
<i style="background:linear-gradient(90deg,#f1f5f6 0px,#f7f6f6 226px,#f6f7f7 457px,#edf2f5 571px,#f2f5f6 791px)"></i>
<i style="background:linear-gradient(90deg,#f0f4f6 0px,#f5f6f7 68px,#f7f6f6 227px,#f6f7f7 464px,#eef3f5 579px,#f2f5f6 791px)"></i>
<i style="background:linear-gradient(90deg,#f0f4f6 0px,#f5f6f7 70px,#f7f6f6 224px,#f6f7f7 471px,#eff3f5 545px,#f2f5f6 791px)"></i>
<i style="background:linear-gradient(90deg,#f0f4f6 0px,#f5f6f7 71px,#f7f6f6 217px,#f6f7f7 477px,#eff3f5 553px,#f2f5f6 791px)"></i>
<i style="background:linear-gradient(90deg,#f1f5f6 0px,#f7f6f6 204px,#f7f6f6 456px,#eff3f5 562px,#f3f5f6 791px)"></i>
<i style="background:linear-gradient(90deg,#f2f5f6 0px,#f7f6f6 185px,#f7f6f6 469px,#eff3f5 573px,#f3f5f6 791px)"></i>
<i style="background:linear-gradient(90deg,#f2f5f6 0px,#f7f6f6 161px,#f7f6f6 477px,#eff3f5 586px,#f3f5f6 791px)"></i>
<i style="background:linear-gradient(90deg,#f2f5f6 0px,#f7f6f6 140px,#f7f6f6 483px,#eff3f5 599px,#f3f5f6 791px)"></i>
<i style="background:linear-gradient(90deg,#f3f5f6 0px,#f7f6f6 125px,#f7f6f6 488px,#eff3f5 605px,#f3f5f6 791px)"></i>
<i style="background:linear-gradient(90deg,#f3f5f6 0px,#f7f6f6 126px,#f7f6f6 492px,#eff3f5 603px,#f3f5f6 791px)"></i>
<i style="background:linear-gradient(90deg,#f3f5f6 0px,#f7f6f6 126px,#f7f6f6 494px,#eff3f5 596px,#f3f5f6 791px)"></i>
<i style="background:linear-gradient(90deg,#f3f5f6 0px,#f8f5f3 234px,#f7f6f6 496px,#eff3f5 585px,#f3f5f6 791px)"></i>
<i style="background:linear-gradient(90deg,#f4f6f7 0px,#f8f4f2 208px,#f7f6f6 421px,#f8f4f2 472px,#f6f7f7 497px,#f0f4f6 548px,#eef3f5 619px,#f3f5f6 791px)"></i>
<i style="background:linear-gradient(90deg,#f5f6f7 0px,#f8f4f2 185px,#f7f6f6 414px,#f8f4f2 480px,#f6f7f7 497px,#edf2f5 591px,#f3f5f6 791px)"></i>
<i style="background:linear-gradient(90deg,#f5f6f7 0px,#f8f4f2 171px,#f8f4f2 289px,#f7f6f6 351px,#f8f4f2 484px,#f6f7f7 496px,#f0f4f6 528px,#edf2f5 585px,#f3f5f6 791px)"></i>
<i style="background:linear-gradient(90deg,#f5f6f7 0px,#f7f6f6 113px,#f8f4f2 161px,#f7f6f5 360px,#f8f4f2 486px,#f6f7f7 496px,#f0f4f6 516px,#ebf2f5 586px,#f3f5f6 791px)"></i>
<i style="background:linear-gradient(90deg,#f5f6f7 0px,#f7f6f6 111px,#f8f4f2 154px,#f8f4f2 487px,#f6f7f7 495px,#f0f4f6 511px,#eaf1f5 585px,#eaf1f5 651px,#f5f6f7 791px)"></i>
<i style="background:linear-gradient(90deg,#f5f6f7 0px,#f7f6f6 110px,#f8f4f2 149px,#f8f4f2 488px,#f6f7f7 494px,#edf2f5 516px,#e8f0f4 629px,#f6f7f7 791px)"></i>
<i style="background:linear-gradient(90deg,#f5f6f7 0px,#f7f6f6 110px,#f8f4f2 146px,#f8f4f2 488px,#f6f7f7 494px,#edf2f5 511px,#e7f0f4 621px,#f7f6f5 791px)"></i>
<i style="background:linear-gradient(90deg,#f5f6f7 0px,#f7f6f6 110px,#f8f4f2 144px,#f7f5f4 421px,#f8f2ef 462px,#f8f4f2 488px,#f6f7f7 494px,#edf2f5 506px,#eaf1f5 517px,#e6eff4 630px,#f6f7f7 756px,#f8f4f1 791px)"></i>
<i style="background:linear-gradient(90deg,#f5f6f7 0px,#f7f6f6 111px,#f8f4f2 142px,#f7f5f4 414px,#f8f2ef 457px,#f8f4f2 488px,#f6f7f7 493px,#eaf1f5 510px,#e4eef4 610px,#eaf1f5 675px,#f6f7f7 739px,#f9f1ed 791px)"></i>
<i style="background:linear-gradient(90deg,#f3f5f6 0px,#f6f7f7 85px,#f8f4f2 141px,#f7f5f4 403px,#f8f2ef 453px,#f8f2ef 484px,#f8f4f2 488px,#f6f7f7 493px,#e9f0f4 513px,#e4eef4 611px,#eaf1f5 667px,#f6f7f7 723px,#f9ede5 791px)"></i>
<i style="background:linear-gradient(90deg,#f3f5f6 0px,#f6f7f7 89px,#f8f4f2 141px,#f7f5f4 383px,#f8f1ed 466px,#f8f4f2 488px,#f6f7f7 492px,#eaf1f5 506px,#e7f0f4 516px,#e4eef4 599px,#ebf2f5 660px,#f6f7f7 706px,#fbe7dc 791px)"></i>
<i style="background:linear-gradient(90deg,#f3f5f6 0px,#f6f7f7 92px,#f8f4f2 140px,#f7f5f4 361px,#f8f4f2 434px,#f8f1ed 461px,#f8f1ed 480px,#f8f4f2 487px,#f6f7f7 491px,#e7f0f4 510px,#e4eef4 582px,#e8f0f4 622px,#f6f6f7 690px,#fce1d1 791px)"></i>
<i style="background:linear-gradient(90deg,#f3f5f6 0px,#f6f7f7 95px,#f8f4f2 140px,#f7f5f4 360px,#f8f4f2 434px,#f8f1ed 458px,#f8f1ed 483px,#f8f4f2 487px,#f6f7f7 490px,#e7f0f4 508px,#e4eef4 557px,#ecf2f5 619px,#f6f6f7 662px,#f9f1ec 696px,#fdd7c2 791px)"></i>
<i style="background:linear-gradient(90deg,#f3f5f6 0px,#f6f7f7 98px,#f8f4f2 140px,#f7f5f4 367px,#f8f4f2 433px,#f8f1ed 457px,#f8f1ed 484px,#f8f4f2 487px,#f6f7f7 490px,#f0f4f6 494px,#e8f0f4 509px,#e7f0f4 547px,#f4f6f7 619px,#f9f0eb 664px,#fde0cf 729px,#fbcfb7 769px,#fac8af 791px)"></i>
<i style="background:linear-gradient(90deg,#f3f5f6 0px,#f6f7f7 101px,#f8f4f2 141px,#f7f5f4 378px,#f8f4f2 433px,#f9f0ea 480px,#f9f1ed 486px,#f6f7f7 491px,#ecf2f5 508px,#edf3f6 542px,#f4f5f6 572px,#f8f3f1 602px,#fdd8c3 715px,#f9c1a5 756px,#f7b597 791px)"></i>
<i style="background:linear-gradient(90deg,#f3f5f6 0px,#f6f7f7 103px,#f8f4f2 141px,#f7f5f4 389px,#f8f2ef 450px,#faebe2 485px,#faebe2 486px,#f8f3f0 487px,#f8f5f3 489px,#f5f6f6 504px,#f8f4f1 529px,#fae9df 573px,#fcdac7 647px,#f9c4a9 700px,#f8bda0 727px,#f5ac8a 759px,#f3a281 791px)"></i>
<i style="background:linear-gradient(90deg,#f3f5f6 0px,#f6f7f7 106px,#f8f4f2 142px,#f8f4f2 428px,#f9f1ec 454px,#faece3 470px,#fce3d5 481px,#fcd8c5 486px,#faece5 487px,#faece4 492px,#fbd7c4 524px,#fbccb4 554px,#f8bea1 643px,#f6ae8d 682px,#f3a281 735px,#ef9979 750px,#e8896c 791px)"></i>
<i style="background:linear-gradient(90deg,#f3f5f6 0px,#f6f7f7 108px,#f8f4f2 143px,#f7f5f4 387px,#f8f2ef 440px,#f9eee6 459px,#fae9e0 466px,#fce2d3 474px,#fddcca 477px,#fcd2bb 480px,#fac7ad 482px,#f3a889 486px,#f9c0a4 487px,#f8bda0 489px,#ee9e82 498px,#eb9579 502px,#e98b6e 516px,#e7876b 531px,#e7886c 552px,#ec9274 596px,#ee9878 648px,#e88a6d 686px,#e7876b 735px,#dd715a 791px)"></i>
<i style="background:linear-gradient(90deg,#f2f5f6 0px,#f6f7f7 111px,#f8f4f2 145px,#f7f5f4 385px,#f8f2ef 437px,#f9eee6 454px,#fbe6da 465px,#fdddca 472px,#fcd3bd 475px,#f8bc9f 479px,#f5ac8b 481px,#ed9576 483px,#d76351 486px,#d05348 491px,#bf3237 498px,#ba2b34 501px,#be3036 523px,#cf5247 579px,#de705a 647px,#d96652 697px,#dc6e58 746px,#da6953 763px,#d25849 791px)"></i>
<i style="background:linear-gradient(90deg,#f2f5f6 0px,#f6f7f7 113px,#f8f4f2 147px,#f7f5f4 385px,#f8f2ef 435px,#f9eee7 450px,#fbe6d9 463px,#fddcc8 470px,#fcd4be 472px,#f9bfa3 476px,#f4a785 479px,#ea8e70 481px,#dd6f59 483px,#bd2f36 486px,#ba2832 487px,#b11c2d 492px,#a8152a 494px,#8f0d26 499px,#8a0b25 501px,#ab162a 548px,#b6202f 568px,#c03338 605px,#cf5146 650px,#cd4e45 666px,#cc4b43 667px,#ca4842 714px,#d15548 734px,#d25849 754px,#d05447 766px,#c84440 785px,#c7433f 791px)"></i>
<i style="background:linear-gradient(90deg,#f2f5f6 0px,#f6f7f7 115px,#f8f4f2 151px,#f7f5f4 388px,#f8f2ef 435px,#f9eee7 450px,#fae8de 459px,#fdddcb 468px,#fdd8c3 470px,#f9c5ab 474px,#f5a785 478px,#ea8e70 480px,#dd6f58 482px,#d55d4c 483px,#af182b 486px,#a41429 487px,#a11328 489px,#981027 491px,#750521 497px,#6a0120 501px,#700321 514px,#860a24 536px,#9c1128 564px,#af182b 599px,#b92531 626px,#c13639 646px,#bd2e35 710px,#c7413f 739px,#c84440 759px,#c7433f 766px,#c03438 783px,#bf3237 791px)"></i>
<i style="background:linear-gradient(90deg,#f2f5f6 0px,#f0f4f6 48px,#f6f7f7 118px,#f8f4f2 155px,#f7f5f4 392px,#f8f2ef 435px,#f9eee7 450px,#fae8de 459px,#fddbc7 469px,#fbceb7 472px,#f7b596 476px,#f3a481 478px,#e27b62 481px,#d25849 483px,#bb2933 485px,#a81529 486px,#930e26 487px,#8a0b25 490px,#6a0120 495px,#67001f 496px,#67001f 532px,#6d0220 544px,#9e1228 597px,#b1182b 630px,#b82430 647px,#b92531 657px,#b41c2d 708px,#bd2f36 738px,#c03438 759px,#c03338 769px,#ba2833 783px,#b92531 791px)"></i>
<i style="background:linear-gradient(90deg,#f2f5f6 0px,#f0f4f6 58px,#f6f7f7 121px,#f8f4f2 161px,#f7f5f4 396px,#f9f0eb 444px,#fae8de 459px,#fcdecd 467px,#fcd3bc 471px,#f9c2a7 474px,#f3a481 478px,#e27b62 481px,#da6853 482px,#c6413e 484px,#ba2832 485px,#a51429 486px,#960f27 490px,#6d0220 496px,#67001f 498px,#67001f 566px,#700321 580px,#800823 590px,#9c1128 616px,#b2192c 652px,#aa162a 708px,#b51c2d 728px,#ba2833 763px,#b92732 773px,#b41b2d 791px)"></i>
<i style="background:linear-gradient(90deg,#f2f5f6 0px,#f0f4f6 65px,#f6f7f7 125px,#f8f4f2 174px,#f7f5f4 400px,#f9f0eb 445px,#fae8de 459px,#fdddcb 468px,#fcd3bc 471px,#fbceb7 472px,#f7b596 476px,#ef9979 479px,#db6b55 482px,#d25849 483px,#ba2832 485px,#a81529 486px,#b72230 487px,#b11b2c 490px,#9b1127 494px,#790622 499px,#700321 501px,#67001f 524px,#67001f 590px,#6d0220 597px,#790622 603px,#900d26 620px,#ad172a 655px,#a11328 705px,#ad172a 723px,#b1182b 753px,#b51c2d 762px,#b51e2e 779px,#b0182b 791px)"></i>
<i style="background:linear-gradient(90deg,#f1f5f6 0px,#f0f4f6 70px,#f7f6f6 133px,#f7f5f4 403px,#f8f1ed 442px,#fae8de 459px,#fddbc7 469px,#f9c4a9 474px,#f4a582 478px,#e98b6e 480px,#db6b55 482px,#d3594a 483px,#bc2c35 485px,#aa162a 486px,#bf3237 487px,#bc2b34 490px,#b31a2c 493px,#960f27 498px,#890b25 502px,#850a24 519px,#700321 545px,#67001f 563px,#67001f 601px,#8c0c25 626px,#981027 640px,#a41429 649px,#ab162a 661px,#a81529 674px,#9b1127 697px,#a81529 726px,#a71529 746px,#aa162a 755px,#b2192c 767px,#b2192c 780px,#ab162a 791px)"></i>
<i style="background:linear-gradient(90deg,#f0f4f6 0px,#f0f4f6 75px,#f7f6f6 138px,#f7f5f4 405px,#f8f1ed 442px,#fae8de 459px,#fcdfce 467px,#fdd8c3 470px,#facab1 473px,#f7b799 476px,#f09c7b 479px,#d55d4c 483px,#b31a2c 486px,#c2373a 487px,#c2373a 488px,#bb2933 492px,#b2192c 495px,#991027 500px,#960f27 502px,#981027 525px,#920e26 546px,#7c0722 577px,#770522 594px,#7d0723 607px,#950f27 638px,#a51429 651px,#ab162a 659px,#ab162a 669px,#981027 697px,#a51429 727px,#a41429 749px,#ae172a 775px,#a81529 791px)"></i>
<i style="background:linear-gradient(90deg,#f0f4f6 0px,#f0f4f6 79px,#f7f6f6 145px,#f7f5f4 408px,#f8f1ed 443px,#fae7dc 461px,#fcdfcf 467px,#fdd9c4 470px,#f9c6ac 474px,#f6b293 477px,#f2a07e 479px,#e17960 482px,#d15648 484px,#bb2b34 486px,#c7433f 487px,#c43d3c 490px,#b41d2e 497px,#ae172b 499px,#a71529 502px,#af1a2c 526px,#b01c2d 555px,#a51429 593px,#a21328 638px,#b0182b 657px,#b0182b 669px,#960f27 694px,#960f27 704px,#a21328 725px,#a21328 754px,#aa162a 772px,#aa162a 783px,#a51429 791px)"></i>
<i style="background:linear-gradient(90deg,#f0f4f6 0px,#f0f4f6 83px,#f7f6f6 155px,#f7f5f4 409px,#f8f1ed 443px,#fae8de 460px,#fddbc7 470px,#fac9b0 474px,#f6b191 478px,#f2a07e 480px,#db6c57 484px,#cb4b43 486px,#d86653 487px,#d86653 488px,#d6604f 491px,#ca4842 497px,#c63e3d 501px,#cc4b43 525px,#cc4b43 567px,#bf3237 618px,#b41d2e 639px,#b61f2f 660px,#b41b2d 669px,#9f1228 685px,#960f27 696px,#960f27 705px,#a21328 732px,#a51429 791px)"></i>
<i style="background:linear-gradient(90deg,#f0f4f6 0px,#f0f4f6 87px,#f7f6f6 167px,#f7f5f4 411px,#f9f0eb 447px,#fbe7db 462px,#fddac6 471px,#f9c0a4 477px,#f7b495 479px,#f2a07e 482px,#e37d63 486px,#f3a788 487px,#ec9376 501px,#ee9b7c 520px,#ee997b 541px,#ec9274 558px,#e27c62 584px,#d35b4b 614px,#c13639 637px,#bc2c34 648px,#b92732 664px,#b0182b 676px,#9e1228 689px,#981027 700px,#9c1127 720px,#9f1228 721px,#9f1228 733px,#a21328 734px,#a51429 791px)"></i>
<i style="background:linear-gradient(90deg,#f0f4f6 0px,#eff3f5 66px,#f7f6f6 185px,#f8f4f2 313px,#f7f5f4 412px,#f8f1ed 444px,#fae8de 461px,#fdddca 471px,#f9c1a5 479px,#f7b394 484px,#f7b495 486px,#fcddcb 487px,#fbd8c4 500px,#fbdac8 510px,#fcd8c5 529px,#fbcfb7 549px,#f8bc9f 568px,#f3a382 587px,#e17960 613px,#d45c4b 627px,#c43b3c 646px,#be2f36 663px,#b3192c 676px,#a11328 689px,#9c1127 696px,#9f1228 731px,#a41429 743px,#a21328 791px)"></i>
<i style="background:linear-gradient(90deg,#f0f4f6 0px,#eff3f5 70px,#f7f6f6 203px,#f8f4f2 428px,#f9f0eb 448px,#fae7dc 463px,#fddcc8 473px,#fbcdb5 479px,#fbccb4 481px,#fbd1ba 484px,#fcddca 486px,#f9f0eb 487px,#f9f0ea 521px,#fbe6da 544px,#fddbc8 561px,#fcd2bb 569px,#f4a684 597px,#d86450 628px,#cd4e45 639px,#bf3237 664px,#b3192c 678px,#a81529 685px,#a11328 694px,#9f1228 728px,#a51429 741px,#a21328 791px)"></i>
<i style="background:linear-gradient(90deg,#eff3f5 0px,#f0f4f6 100px,#f7f6f6 214px,#f8f4f2 292px,#f7f5f4 412px,#f8f2ef 441px,#f9efe9 451px,#fae8de 462px,#fcd5bf 479px,#fdd8c3 482px,#fddecd 484px,#fae9e0 486px,#f8f5f3 487px,#f7f6f6 509px,#f8f3f0 525px,#fbe6da 551px,#fddcc9 565px,#fcd3bc 572px,#f5a886 598px,#d7634f 630px,#ce4f45 640px,#c13639 662px,#b3192c 679px,#aa162a 686px,#a41429 695px,#a21328 737px,#a81529 753px,#a51429 791px)"></i>
<i style="background:linear-gradient(90deg,#eff3f5 0px,#f0f4f6 104px,#f6f7f7 187px,#f8f4f2 285px,#f8f4f2 428px,#f8f1ed 445px,#fae8de 462px,#fcd3bc 480px,#fdd8c3 483px,#fce1d1 485px,#fbe7db 486px,#f8f4f2 487px,#f8f5f4 512px,#f8f4f1 521px,#faebe2 542px,#fdd8c3 568px,#f5a785 598px,#d6604d 631px,#cb4942 644px,#c13639 663px,#b3192c 680px,#a81529 690px,#a81529 711px,#a21328 724px,#a21328 736px,#ad172a 764px,#ad172a 776px,#a51429 791px)"></i>
<i style="background:linear-gradient(90deg,#eff3f5 0px,#f0f4f6 108px,#f6f7f7 194px,#f8f4f2 279px,#f8f4f2 428px,#f8f1ed 445px,#fae7dc 463px,#fdddca 472px,#fac9b0 479px,#f9c5ab 482px,#fac7ae 484px,#fbd1ba 486px,#faebe3 487px,#faebe3 513px,#fae9de 528px,#fcdbc9 554px,#fbceb6 567px,#f3a280 595px,#d7634f 627px,#cc4b43 641px,#c03539 662px,#b1182b 681px,#a81529 691px,#ab162a 709px,#a21328 728px,#a51429 743px,#b0182b 763px,#b0182b 777px,#a71529 791px)"></i>
<i style="background:linear-gradient(90deg,#eff3f5 0px,#f0f4f6 111px,#f6f7f7 221px,#f8f4f2 274px,#f8f4f2 427px,#f9f0eb 448px,#fae8de 461px,#fddecc 470px,#fcd3bc 474px,#f5ab89 483px,#f1a080 486px,#fbcab1 487px,#fac9b0 492px,#f9c2a7 499px,#fac6ac 512px,#f9c2a7 537px,#f3a888 571px,#ef9a7a 580px,#e48065 599px,#e17a61 601px,#d7614f 617px,#c33a3b 644px,#bc2b34 664px,#b2192c 677px,#a81529 689px,#ab162a 715px,#a51429 723px,#a51429 742px,#b2192c 767px,#b1182b 780px,#aa162a 791px)"></i>
<i style="background:linear-gradient(90deg,#eff3f5 0px,#f0f4f6 112px,#f6f7f7 221px,#f8f3f0 307px,#f8f4f2 426px,#f8f1ed 444px,#fae7dc 462px,#fddac6 471px,#f9c3a8 476px,#f5a987 480px,#ee9777 482px,#da6a55 486px,#e7886c 487px,#e68368 491px,#dc6f5a 498px,#da6b57 502px,#e0765e 522px,#e0775f 544px,#de735c 556px,#d76452 580px,#cd4e44 601px,#c43c3c 624px,#bb2933 639px,#b51e2e 663px,#ae172b 674px,#a8152a 678px,#a41429 690px,#ab162a 702px,#ab162a 717px,#a51429 725px,#a51429 741px,#b3192c 766px,#b3192c 778px,#ad172a 791px)"></i>
<i style="background:linear-gradient(90deg,#eff3f5 0px,#f6f7f7 219px,#f8f3f0 296px,#f8f4f2 424px,#f9f0eb 447px,#fae8de 460px,#fddbc7 470px,#fac9b0 474px,#f4a684 479px,#e58267 482px,#d86350 484px,#c53f3d 486px,#cc4d44 487px,#cb4a43 489px,#bb2933 497px,#b2202f 501px,#bc2c35 533px,#bd2d35 569px,#ab162a 630px,#a41429 642px,#a21328 665px,#9c1128 677px,#9e1228 690px,#ab162a 704px,#a51429 739px,#b3192c 766px,#b1182b 791px)"></i>
<i style="background:linear-gradient(90deg,#eff3f5 0px,#f6f7f7 217px,#f8f3f0 288px,#f8f4f2 421px,#f8f1ed 443px,#fae8de 460px,#fcdecd 468px,#fcd6c1 471px,#f9c1a6 475px,#f2a07e 479px,#d96651 483px,#b82430 486px,#bd2e35 487px,#bd2e35 488px,#b61f2f 492px,#ae172b 494px,#9c1128 497px,#900d26 500px,#8d0c25 503px,#981027 529px,#991027 574px,#8c0c25 598px,#890b25 624px,#820924 643px,#8a0b25 659px,#8d0c26 680px,#ab162a 706px,#ab162a 719px,#a81529 720px,#a51429 732px,#b3192c 766px,#b41c2d 773px,#b41b2d 791px)"></i>
<i style="background:linear-gradient(90deg,#f0f4f6 0px,#f6f7f7 213px,#f8f3f0 281px,#f8f4f2 416px,#f8f1ed 442px,#fae7dc 461px,#fcdfcf 467px,#fcd5bf 471px,#f9c5ab 474px,#f6b090 477px,#eb9071 480px,#dd6f58 482px,#ca4842 484px,#b1182b 486px,#b41d2e 487px,#af182b 490px,#a71529 492px,#870a24 497px,#7b0722 500px,#780622 504px,#7f0823 528px,#7f0823 555px,#780622 579px,#720421 584px,#6c0220 598px,#69011f 644px,#830924 679px,#a21328 697px,#ab162a 707px,#a81529 733px,#b2192c 762px,#b7212f 775px,#b82431 791px)"></i>
<i style="background:linear-gradient(90deg,#f0f4f6 0px,#f6f7f7 208px,#f8f3f0 274px,#f8f4f1 412px,#f8f2ef 436px,#f9ede5 453px,#fbe5d8 463px,#fddcc8 469px,#facab1 473px,#f7b799 476px,#f4a683 478px,#ea8d6f 480px,#dc6d56 482px,#c84440 484px,#bc2c35 485px,#ab162a 486px,#a21328 487px,#a21328 488px,#960f27 491px,#700320 497px,#67001f 501px,#6a0120 522px,#67001f 659px,#790622 675px,#9c1127 693px,#a81529 702px,#b2192c 753px,#bd2d35 791px)"></i>
<i style="background:linear-gradient(90deg,#f0f4f6 0px,#f6f7f7 201px,#f8f3f0 268px,#f8f3f0 424px,#f9eee7 450px,#fae8de 459px,#fdddcb 468px,#fbceb7 472px,#f9c4a9 474px,#f4a683 478px,#db6b55 482px,#d25849 483px,#bb2a34 485px,#a81529 486px,#8c0c25 487px,#850a24 490px,#6c0220 494px,#67001f 496px,#67001f 659px,#830924 678px,#9e1228 691px,#ab162a 704px,#b0182b 724px,#b51c2d 734px,#b72230 757px,#c33a3b 791px)"></i>
<i style="background:linear-gradient(90deg,#f0f4f6 0px,#f6f7f7 193px,#f8f3f0 262px,#f8f3f0 420px,#f8f1ed 438px,#f9eee7 449px,#fae7dc 460px,#fce2d2 465px,#fdddcb 468px,#fbceb7 472px,#f8bca0 475px,#f3a481 478px,#e98b6e 480px,#db6b55 482px,#d25849 483px,#ba2832 485px,#a81529 486px,#7e0823 487px,#7b0722 489px,#69011f 492px,#67001f 493px,#67001f 651px,#840924 674px,#a41429 690px,#ad172a 698px,#b2192c 717px,#bb2933 736px,#bd2f36 756px,#cc4b43 791px)"></i>
<i style="background:linear-gradient(90deg,#f0f4f6 0px,#f6f7f7 182px,#f8f3f0 255px,#f8f3f0 413px,#f8f1ed 436px,#f9ede5 451px,#fbe6da 461px,#fddbc7 469px,#fbceb7 472px,#f9c3a8 474px,#f4a582 478px,#dc6d56 482px,#bc2c35 485px,#aa162a 486px,#800823 487px,#7c0723 489px,#67001f 493px,#67001f 637px,#8a0b25 670px,#9f1228 681px,#b0182b 693px,#b51c2d 711px,#c33a3b 737px,#c6403e 757px,#d6604e 791px)"></i>
<i style="background:linear-gradient(90deg,#f2f5f6 0px,#f6f7f7 166px,#f8f2ef 281px,#f8f3f0 404px,#f8f1ed 435px,#f9ede5 451px,#fae7dc 460px,#fddcc8 469px,#fbcbb3 473px,#f5a988 478px,#e58368 481px,#cd4e44 484px,#b41d2e 486px,#900d26 487px,#870a24 490px,#6c0220 494px,#67001f 496px,#67001f 615px,#6f0320 627px,#820923 641px,#930e27 666px,#b51c2d 689px,#bc2c34 713px,#cc4d44 737px,#d15548 758px,#e0765e 791px)"></i>
<i style="background:linear-gradient(90deg,#f2f5f6 0px,#f6f7f7 140px,#f8f2ef 273px,#f8f2ef 426px,#f9ede5 451px,#fbe6d9 463px,#fddcc9 470px,#fbcdb5 474px,#f7b597 478px,#f6ad8c 479px,#ee9878 481px,#da6a55 484px,#c6403e 486px,#af1d2d 487px,#a71529 490px,#750521 497px,#67001f 502px,#67001f 557px,#6f0320 586px,#7d0723 613px,#960f27 637px,#9e1228 660px,#a41429 666px,#af182b 674px,#b82430 683px,#bd2e35 690px,#c53e3d 711px,#d55e4c 732px,#d96651 742px,#db6b55 756px,#e58267 778px,#e98c6e 791px)"></i>
<i style="background:linear-gradient(90deg,#f3f5f6 0px,#f7f6f6 126px,#f8f2ef 266px,#f8f2ef 427px,#f9eee6 452px,#fbe7dc 464px,#fce0d0 471px,#fdd7c2 475px,#f9c4a9 479px,#f6af8e 482px,#ef9979 484px,#dd705b 487px,#d0544a 491px,#be3137 495px,#a51b2c 499px,#9e1329 501px,#8e0d25 509px,#820923 525px,#800823 551px,#850a24 567px,#9c1128 612px,#ac172b 630px,#b41d2e 661px,#b82331 668px,#c6403e 686px,#d3594a 711px,#de725b 728px,#e58267 754px,#ef9a7a 776px,#f3a382 791px)"></i>
<i style="background:linear-gradient(90deg,#f3f5f6 0px,#f7f6f6 103px,#f8f2ef 260px,#f8f2ef 430px,#f9eee6 457px,#fae8de 468px,#fce0d0 477px,#fcd3bc 482px,#f8bc9f 486px,#fad5c0 487px,#f9c0a4 492px,#e88c70 499px,#e37e65 501px,#d55f52 507px,#c6403e 516px,#be3037 523px,#b72732 530px,#ae1e2d 546px,#ad1b2c 560px,#b82331 608px,#c13639 637px,#c2393a 656px,#c7413e 666px,#d35b4b 683px,#da6853 697px,#e88a6d 725px,#ed9576 739px,#ef9a7a 752px,#f5aa88 766px,#f7b89b 791px)"></i>
<i style="background:linear-gradient(90deg,#f3f5f6 0px,#f7f6f6 86px,#f8f2ef 253px,#f8f2ef 433px,#f9ece4 468px,#fae9df 477px,#fce1d2 486px,#f9efe8 487px,#f9efe9 488px,#f9ece5 493px,#fbe1d2 500px,#fac5ab 510px,#f1a78a 518px,#e98b6e 527px,#e17a61 534px,#d55e4f 550px,#cf5348 562px,#cd4e45 579px,#cf5146 606px,#d55d4d 633px,#d6604f 654px,#d86552 662px,#e27d63 682px,#f5aa88 728px,#f6b292 752px,#f9c3a8 773px,#facab2 791px)"></i>
<i style="background:linear-gradient(90deg,#f5f6f7 0px,#f8f2ef 246px,#f8f2ef 434px,#faece3 482px,#faece4 486px,#f8f1ed 487px,#f8f5f3 491px,#f7f6f5 498px,#f8f2ef 507px,#fce3d4 522px,#f8bda1 542px,#f2a587 557px,#ec9274 577px,#e8896d 604px,#e8896d 625px,#eb9173 661px,#f3a483 687px,#f8bc9f 718px,#f9c5ab 748px,#fdd7c2 775px,#fddcc9 791px)"></i>
<i style="background:linear-gradient(90deg,#f5f6f7 0px,#f8f3f0 184px,#f8f2ef 433px,#f9eee7 467px,#f9efe8 484px,#f6f7f7 493px,#f2f5f6 503px,#f4f6f7 516px,#f8f3f0 529px,#fbd5c0 565px,#fac7ad 583px,#f8ba9c 610px,#f7b799 623px,#f7b799 659px,#f9c4a9 691px,#fcd4be 720px,#fdd8c3 743px,#fce1d1 770px,#fce4d6 791px)"></i>
<i style="background:linear-gradient(90deg,#f6f7f7 0px,#f8f3f0 158px,#f8f2ef 432px,#f9eee7 469px,#f9efe9 484px,#f6f7f7 492px,#edf2f5 509px,#f3f6f7 539px,#f7f5f3 551px,#fae9de 577px,#fcdecc 607px,#fcd7c2 642px,#fdd8c4 675px,#fce0d0 710px,#fce3d4 742px,#faebe2 791px)"></i>
<i style="background:linear-gradient(90deg,#f6f7f7 0px,#f8f3f0 137px,#f8f2ef 432px,#f9efe8 470px,#f9efe9 484px,#f6f7f7 493px,#edf2f5 505px,#ebf2f5 519px,#edf2f5 541px,#f4f6f7 566px,#f8f4f2 585px,#faece4 612px,#fbe7db 650px,#fbe7db 684px,#f9f1ec 791px)"></i>
<i style="background:linear-gradient(90deg,#f7f7f7 0px,#f8f3f0 125px,#f8f2ef 433px,#f9efe9 458px,#f9f0eb 486px,#f6f7f7 495px,#edf2f5 506px,#eaf1f5 542px,#f6f6f7 601px,#f8f5f3 613px,#f9f0eb 657px,#f9f0eb 696px,#f8f5f4 791px)"></i>
<i style="background:linear-gradient(90deg,#f7f6f6 0px,#f8f3f0 117px,#f8f2ef 435px,#f9efe9 461px,#f9efe9 484px,#f6f7f7 497px,#edf2f5 509px,#ebf2f5 529px,#edf2f5 580px,#f6f6f7 634px,#f5f6f7 791px)"></i>
<i style="background:linear-gradient(90deg,#f7f6f6 0px,#f8f3f0 114px,#f8f3f0 415px,#f9efe9 467px,#f9f0eb 486px,#f6f7f7 498px,#eef3f5 512px,#ecf2f5 539px,#f3f5f6 656px,#f2f5f6 791px)"></i>
<i style="background:linear-gradient(90deg,#f7f5f4 0px,#f8f2ef 192px,#f8f3f0 427px,#f9f0eb 485px,#f6f7f7 499px,#f0f4f6 507px,#edf2f5 531px,#f0f4f6 791px)"></i>
<i style="background:linear-gradient(90deg,#f7f5f4 0px,#f8f2ef 199px,#f8f3f0 435px,#f9f0eb 482px,#f6f7f7 499px,#f0f4f6 509px,#edf2f5 560px,#eff3f5 791px)"></i>
<i style="background:linear-gradient(90deg,#f7f5f4 0px,#f8f2ef 208px,#f8f4f2 422px,#f8f1ed 485px,#f6f7f7 500px,#f0f4f6 515px,#edf2f5 588px,#eff3f5 791px)"></i>
<i style="background:linear-gradient(90deg,#f8f5f3 0px,#f8f2ef 219px,#f8f4f2 436px,#f8f2ee 483px,#f6f7f7 500px,#f0f4f6 529px,#edf2f5 636px,#eff3f5 791px)"></i>
<i style="background:linear-gradient(90deg,#f8f4f2 0px,#f8f2ef 235px,#f7f5f4 394px,#f8f2ef 470px,#f8f4f2 494px,#f6f7f7 501px,#f0f4f6 556px,#eff3f5 791px)"></i>
<i style="background:linear-gradient(90deg,#f8f4f2 0px,#f8f4f2 492px,#f6f7f7 502px,#f0f4f6 593px,#f0f4f6 791px)"></i>
<i style="background:linear-gradient(90deg,#f8f4f2 0px,#f7f5f4 126px,#f8f3f0 191px,#f8f3f0 311px,#f7f6f6 393px,#f8f4f2 490px,#f6f7f7 503px,#f0f4f6 650px,#f0f4f6 791px)"></i>
<i style="background:linear-gradient(90deg,#f8f4f2 0px,#f7f5f4 148px,#f8f3f0 290px,#f7f7f7 405px,#f8f5f3 466px,#f6f7f7 503px,#f0f4f6 682px,#f2f5f6 791px)"></i>
<i style="background:linear-gradient(90deg,#f8f4f2 0px,#f7f6f5 112px,#f8f3f0 260px,#f6f7f7 392px,#f7f6f6 501px,#f0f4f6 709px,#f2f5f6 791px)"></i>
<i style="background:linear-gradient(90deg,#f8f4f2 0px,#f7f6f6 84px,#f8f4f2 199px,#f8f4f2 295px,#f6f7f7 374px,#f3f5f6 791px)"></i>
<i style="background:linear-gradient(90deg,#f8f4f2 0px,#f7f6f6 70px,#f8f4f2 203px,#f6f7f7 358px,#f3f5f6 791px)"></i>
<i style="background:linear-gradient(90deg,#f8f4f2 0px,#f7f7f7 100px,#f8f5f3 217px,#f6f7f7 342px,#f4f6f7 791px)"></i>
<i style="background:linear-gradient(90deg,#f8f4f2 0px,#f6f7f7 89px,#f7f5f4 202px,#f5f6f7 791px)"></i>
<i style="background:linear-gradient(90deg,#f8f4f2 0px,#f6f7f7 77px,#f7f5f4 220px,#f3f5f6 400px,#f5f6f7 791px)"></i>
<i style="background:linear-gradient(90deg,#f8f4f2 0px,#f6f7f7 69px,#f7f6f6 269px,#f3f5f6 382px,#f5f6f7 791px)"></i>
<i style="background:linear-gradient(90deg,#f8f4f2 0px,#f6f7f7 63px,#f7f6f6 247px,#f3f5f6 359px,#f5f6f7 791px)"></i>
<i style="background:linear-gradient(90deg,#f8f4f2 0px,#f6f7f7 57px,#f2f5f6 526px,#f6f7f7 791px)"></i>
<i style="background:linear-gradient(90deg,#f8f5f3 0px,#f6f7f7 53px,#f2f5f6 506px,#f6f7f7 791px)"></i>
<i style="background:linear-gradient(90deg,#f7f5f4 0px,#f6f7f7 48px,#f0f4f6 556px,#f6f7f7 791px)"></i>
<i style="background:linear-gradient(90deg,#f7f5f4 0px,#f6f7f7 45px,#f3f5f6 100px,#f3f5f6 485px,#f0f4f6 524px,#f5f6f7 791px)"></i>
<i style="background:linear-gradient(90deg,#f7f5f4 0px,#f6f7f7 41px,#f3f5f6 93px,#f3f5f6 478px,#f0f4f6 513px,#f5f6f7 791px)"></i>
<i style="background:linear-gradient(90deg,#f7f5f4 0px,#f6f7f7 38px,#f3f5f6 88px,#f3f5f6 471px,#eff3f5 546px,#f5f6f7 791px)"></i>
<i style="background:linear-gradient(90deg,#f7f5f4 0px,#f3f5f6 86px,#f3f5f6 462px,#eff3f5 532px,#f0f4f6 688px,#f5f6f7 791px)"></i>
<i style="background:linear-gradient(90deg,#f7f5f4 0px,#f6f7f7 33px,#f3f5f6 86px,#f3f5f6 449px,#eff3f5 523px,#f0f4f6 700px,#f5f6f7 791px)"></i>
<i style="background:linear-gradient(90deg,#f7f5f4 0px,#f6f7f7 31px,#f3f5f6 88px,#f3f5f6 435px,#eff3f5 516px,#f0f4f6 709px,#f5f6f7 791px)"></i>
<i style="background:linear-gradient(90deg,#f7f6f6 0px,#f3f5f6 93px,#f3f5f6 421px,#eef3f5 557px,#f3f5f6 791px)"></i>
<i style="background:linear-gradient(90deg,#f7f6f6 0px,#f3f5f6 101px,#f2f5f6 464px,#edf2f5 551px,#f3f5f6 791px)"></i>
<i style="background:linear-gradient(90deg,#f7f6f6 0px,#f3f5f6 115px,#f2f5f6 452px,#edf2f5 544px,#f3f5f6 791px)"></i>
<i style="background:linear-gradient(90deg,#f7f6f6 0px,#f2f5f6 439px,#edf2f5 540px,#f3f5f6 791px)"></i>
<i style="background:linear-gradient(90deg,#f7f6f6 0px,#f2f5f6 429px,#edf2f5 539px,#f3f5f6 791px)"></i>
<i style="background:linear-gradient(90deg,#f7f6f6 0px,#eff3f5 467px,#f3f5f6 791px)"></i>
<i style="background:linear-gradient(90deg,#f7f6f6 0px,#eff3f5 455px,#f3f5f6 791px)"></i>
<i style="background:linear-gradient(90deg,#f7f6f6 0px,#eff3f5 446px,#f2f5f6 791px)"></i>
<i style="background:linear-gradient(90deg,#f7f6f6 0px,#eff3f5 438px,#f2f5f6 791px)"></i>
<i style="background:linear-gradient(90deg,#f7f6f6 0px,#eff3f5 433px,#f2f5f6 791px)"></i>
<i style="background:linear-gradient(90deg,#f7f6f6 0px,#eff3f5 428px,#f2f5f6 791px)"></i>
<i style="background:linear-gradient(90deg,#f7f6f6 0px,#eff3f5 425px,#f2f5f6 791px)"></i>
<i style="background:linear-gradient(90deg,#f7f6f6 0px,#eff3f5 422px,#f2f5f6 791px)"></i>
<i style="background:linear-gradient(90deg,#f7f6f6 0px,#eff3f5 421px,#f2f5f6 791px)"></i>
<i style="background:linear-gradient(90deg,#f7f6f6 0px,#eff3f5 420px,#f3f5f6 791px)"></i>
<i style="background:linear-gradient(90deg,#f7f6f6 0px,#eff3f5 423px,#f3f5f6 791px)"></i>
<i style="background:linear-gradient(90deg,#f7f7f7 0px,#eff3f5 429px,#f3f5f6 791px)"></i>
<i style="background:linear-gradient(90deg,#f6f7f7 0px,#f0f4f6 437px,#f3f5f6 791px)"></i>
<i style="background:linear-gradient(90deg,#f6f7f7 0px,#f0f4f6 380px,#f3f5f6 791px)"></i>
<i style="background:linear-gradient(90deg,#f6f7f7 0px,#f4f6f7 292px,#f0f4f6 384px,#f3f5f6 791px)"></i>
<i style="background:linear-gradient(90deg,#f6f7f7 0px,#f5f6f7 304px,#f0f4f6 391px,#f3f5f6 791px)"></i>
<i style="background:linear-gradient(90deg,#f5f6f7 0px,#f5f6f7 318px,#f0f4f6 402px,#f2f5f6 791px)"></i>
<i style="background:linear-gradient(90deg,#f5f6f7 0px,#f3f5f6 179px,#f6f7f7 291px,#f0f4f6 540px,#f2f5f6 791px)"></i>
<i style="background:linear-gradient(90deg,#f5f6f7 0px,#f3f5f6 180px,#f6f7f7 307px,#f0f4f6 544px,#f2f5f6 791px)"></i>
<i style="background:linear-gradient(90deg,#f3f5f6 0px,#f3f5f6 182px,#f7f6f6 278px,#f0f4f6 548px,#f2f5f6 791px)"></i>
<i style="background:linear-gradient(90deg,#f3f5f6 0px,#f7f6f6 297px,#f0f4f6 553px,#f2f5f6 791px)"></i>
<i style="background:linear-gradient(90deg,#f3f5f6 0px,#f2f5f6 151px,#f7f6f6 308px,#f0f4f6 559px,#f2f5f6 791px)"></i>
<i style="background:linear-gradient(90deg,#f3f5f6 0px,#f2f5f6 162px,#f7f6f6 230px,#f7f6f6 316px,#f0f4f6 567px,#f2f5f6 791px)"></i>
<i style="background:linear-gradient(90deg,#f2f5f6 0px,#f2f5f6 168px,#f7f6f6 230px,#f0f4f6 578px,#f2f5f6 791px)"></i>
<i style="background:linear-gradient(90deg,#f2f5f6 0px,#f2f5f6 171px,#f7f6f6 230px,#f0f4f6 592px,#f2f5f6 791px)"></i>
<i style="background:linear-gradient(90deg,#f2f5f6 0px,#f2f5f6 174px,#f7f6f6 230px,#f0f4f6 613px,#f2f5f6 791px)"></i>
<i style="background:linear-gradient(90deg,#f2f5f6 0px,#f1f5f6 138px,#f7f6f6 230px,#f2f5f6 791px)"></i>
<i style="background:linear-gradient(90deg,#f2f5f6 0px,#f1f5f6 138px,#f7f6f6 245px,#f2f5f6 791px)"></i>
<i style="background:linear-gradient(90deg,#f2f5f6 0px,#f2f5f6 178px,#f7f6f6 245px,#f2f5f6 791px)"></i>
<i style="background:linear-gradient(90deg,#f2f5f6 0px,#f2f5f6 176px,#f7f6f6 245px,#f2f5f6 791px)"></i>
<i style="background:linear-gradient(90deg,#f2f5f6 0px,#f2f5f6 174px,#f7f6f6 241px,#f3f5f6 791px)"></i>
<i style="background:linear-gradient(90deg,#f2f5f6 0px,#f2f5f6 167px,#f7f6f6 246px,#f3f5f6 791px)"></i>
<i style="background:linear-gradient(90deg,#f2f5f6 0px,#f3f5f6 196px,#f7f6f6 251px,#f3f5f6 791px)"></i>
<i style="background:linear-gradient(90deg,#f2f5f6 0px,#f3f5f6 193px,#f7f6f6 258px,#f3f5f6 791px)"></i>
<i style="background:linear-gradient(90deg,#f3f5f6 0px,#f3f5f6 187px,#f7f6f6 270px,#f3f5f6 791px)"></i>
<i style="background:linear-gradient(90deg,#f3f5f6 0px,#f7f6f6 274px,#f4f6f7 791px)"></i>
<i style="background:linear-gradient(90deg,#f3f5f6 0px,#f6f7f7 277px,#f8f5f3 367px,#f6f7f7 457px,#f5f6f7 791px)"></i>
<i style="background:linear-gradient(90deg,#f4f6f7 0px,#f6f7f7 284px,#f8f4f2 380px,#f6f7f7 464px,#f5f6f7 791px)"></i>
<i style="background:linear-gradient(90deg,#f5f6f7 0px,#f6f7f7 289px,#f8f4f2 380px,#f6f7f7 473px,#f5f6f7 791px)"></i>
<i style="background:linear-gradient(90deg,#f5f6f7 0px,#f6f7f7 294px,#f8f4f2 380px,#f6f7f7 485px,#f6f7f7 791px)"></i>
<i style="background:linear-gradient(90deg,#f6f7f7 0px,#f6f7f7 296px,#f8f4f2 380px,#f7f6f6 449px,#f6f7f7 791px)"></i>
<i style="background:linear-gradient(90deg,#f6f7f7 0px,#f6f7f7 298px,#f8f4f2 380px,#f7f6f6 457px,#f6f7f7 791px)"></i>
<i style="background:linear-gradient(90deg,#f6f7f7 0px,#f6f7f7 297px,#f8f4f2 380px,#f7f6f6 468px,#f7f5f4 745px,#f6f7f7 791px)"></i>
<i style="background:linear-gradient(90deg,#f6f7f7 0px,#f6f7f7 295px,#f8f4f2 357px,#f7f6f6 482px,#f7f6f6 791px)"></i>
<i style="background:linear-gradient(90deg,#f7f6f6 0px,#f6f7f7 290px,#f8f4f2 362px,#f7f6f6 510px,#f7f6f6 791px)"></i>
<i style="background:linear-gradient(90deg,#f7f6f6 0px,#f6f7f7 282px,#f8f4f2 362px,#f8f4f2 738px,#f7f6f6 791px)"></i>
<i style="background:linear-gradient(90deg,#f7f6f6 0px,#f7f5f4 149px,#f6f7f7 265px,#f8f4f2 362px,#f8f4f2 750px,#f7f6f6 791px)"></i>
<i style="background:linear-gradient(90deg,#f7f6f6 0px,#f7f6f6 312px,#f8f4f2 362px,#f8f4f2 757px,#f7f6f6 791px)"></i>
<i style="background:linear-gradient(90deg,#f7f6f6 0px,#f7f6f6 305px,#f8f4f2 361px,#f7f5f4 791px)"></i>
<i style="background:linear-gradient(90deg,#f7f6f6 0px,#f7f6f6 294px,#f8f4f2 367px,#f7f5f4 791px)"></i>
<i style="background:linear-gradient(90deg,#f7f6f6 0px,#f7f6f6 279px,#f8f4f2 386px,#f7f5f4 791px)"></i>
<i style="background:linear-gradient(90deg,#f7f5f4 0px,#f7f5f4 791px)"></i>
<i style="background:linear-gradient(90deg,#f7f5f4 0px,#f7f5f4 791px)"></i>
<i style="background:linear-gradient(90deg,#f7f5f4 0px,#f7f5f4 791px)"></i>
<i style="background:linear-gradient(90deg,#f7f5f4 0px,#f7f5f4 791px)"></i>
<i style="background:linear-gradient(90deg,#f7f5f4 0px,#f7f5f4 791px)"></i>
<i style="background:linear-gradient(90deg,#f7f5f4 0px,#f7f5f4 791px)"></i>
<i style="background:linear-gradient(90deg,#f7f5f4 0px,#f7f5f4 791px)"></i>
<i style="background:linear-gradient(90deg,#f7f5f4 0px,#f7f5f4 791px)"></i>
<i style="background:linear-gradient(90deg,#f7f5f4 0px,#f7f5f4 791px)"></i>
<i style="background:linear-gradient(90deg,#f7f5f4 0px,#f8f4f2 137px,#f7f6f6 173px,#f7f5f4 358px,#f6f7f7 452px,#f7f5f4 791px)"></i>
<i style="background:linear-gradient(90deg,#f7f5f4 0px,#f8f3f0 80px,#f7f6f6 176px,#f7f5f4 791px)"></i>
<i style="background:linear-gradient(90deg,#f7f5f4 0px,#f8f3f0 55px,#f8f3f0 116px,#f7f6f6 180px,#f7f5f4 791px)"></i>
<i style="background:linear-gradient(90deg,#f7f5f4 0px,#f8f3f0 51px,#f8f3f0 125px,#f7f6f6 185px,#f7f5f4 791px)"></i>
<i style="background:linear-gradient(90deg,#f7f5f4 0px,#f8f3f0 44px,#f8f3f0 132px,#f7f6f6 190px,#f7f5f4 791px)"></i>
<i style="background:linear-gradient(90deg,#f8f4f2 0px,#f8f3f0 137px,#f7f6f6 197px,#f7f5f4 408px,#f6f7f7 463px,#f7f5f4 791px)"></i>
<i style="background:linear-gradient(90deg,#f8f4f2 0px,#f8f3f0 143px,#f7f6f6 207px,#f8f5f3 364px,#f6f7f7 474px,#f7f6f6 676px,#f8f4f2 728px,#f7f5f4 791px)"></i>
<i style="background:linear-gradient(90deg,#f8f4f2 0px,#f8f3f0 148px,#f7f6f6 220px,#f8f4f2 379px,#f6f7f7 485px,#f8f4f2 791px)"></i>
<i style="background:linear-gradient(90deg,#f8f4f2 0px,#f8f3f0 153px,#f7f6f5 233px,#f8f4f2 400px,#f6f7f7 501px,#f8f4f2 791px)"></i>
<i style="background:linear-gradient(90deg,#f8f4f2 0px,#f8f4f2 416px,#f7f7f7 511px,#f8f4f2 791px)"></i>
<i style="background:linear-gradient(90deg,#f8f4f2 0px,#f8f4f2 429px,#f7f6f6 473px,#f7f6f6 639px,#f8f3f0 731px,#f8f4f2 791px)"></i>
<i style="background:linear-gradient(90deg,#f8f4f2 0px,#f8f3f0 174px,#f7f5f4 287px,#f8f4f1 382px,#f7f6f6 482px,#f7f6f6 625px,#f8f3f0 716px,#f8f4f2 791px)"></i>
<i style="background:linear-gradient(90deg,#f8f4f2 0px,#f8f3f0 182px,#f7f5f4 278px,#f8f3f0 395px,#f7f6f6 491px,#f7f6f6 609px,#f8f3f0 705px,#f8f4f1 791px)"></i>
<i style="background:linear-gradient(90deg,#f8f4f2 0px,#f8f3f0 409px,#f7f6f6 500px,#f7f6f6 594px,#f8f3f0 695px,#f8f3f0 791px)"></i>
<i style="background:linear-gradient(90deg,#f8f4f2 0px,#f8f3f0 417px,#f7f6f6 508px,#f7f6f6 582px,#f8f3f0 686px,#f8f3f0 791px)"></i>
<i style="background:linear-gradient(90deg,#f8f4f2 0px,#f8f3f0 422px,#f7f6f6 572px,#f8f3f0 678px,#f8f3f0 791px)"></i>
<i style="background:linear-gradient(90deg,#f8f4f2 0px,#f8f3f0 425px,#f7f6f6 564px,#f8f3f0 672px,#f8f3f0 791px)"></i>
<i style="background:linear-gradient(90deg,#f8f4f2 0px,#f8f3f0 425px,#f7f6f6 557px,#f8f3f0 666px,#f8f3f0 791px)"></i>
<i style="background:linear-gradient(90deg,#f8f4f2 0px,#f8f3f0 420px,#f7f6f6 547px,#f8f3f0 662px,#f8f3f0 791px)"></i>
<i style="background:linear-gradient(90deg,#f8f4f2 0px,#f8f3f0 407px,#f7f5f4 476px,#f7f5f4 608px,#f8f3f0 658px,#f8f3f0 791px)"></i>
<i style="background:linear-gradient(90deg,#f8f5f3 0px,#f7f5f4 106px,#f8f3f0 198px,#f7f5f4 604px,#f8f3f0 656px,#f8f3f0 791px)"></i>
<i style="background:linear-gradient(90deg,#f7f5f4 0px,#f8f4f1 791px)"></i>
<i style="background:linear-gradient(90deg,#f7f5f4 0px,#f8f4f2 791px)"></i>
<i style="background:linear-gradient(90deg,#f7f5f4 0px,#f8f4f2 791px)"></i>
<i style="background:linear-gradient(90deg,#f7f5f4 0px,#f8f4f2 791px)"></i>
<i style="background:linear-gradient(90deg,#f7f5f4 0px,#f8f4f2 791px)"></i>
<i style="background:linear-gradient(90deg,#f7f5f4 0px,#f7f5f4 556px,#f8f3f0 622px,#f8f5f3 791px)"></i>
<i style="background:linear-gradient(90deg,#f7f5f4 0px,#f7f5f4 544px,#f8f3f0 609px,#f7f5f4 791px)"></i>
<i style="background:linear-gradient(90deg,#f7f6f6 0px,#f8f4f2 149px,#f7f5f4 539px,#f8f3f0 597px,#f7f5f4 791px)"></i>
</div>
<svg width="2067" height="658" viewBox="0 0 2067 658" font-family="'DejaVu Sans','Liberation Sans',sans-serif" fill="#000">
<path d="M211.30 565.70v9.10M307.81 565.70v9.10M404.32 565.70v9.10M500.83 565.70v9.10M597.34 565.70v9.10M693.85 565.70v9.10M790.36 565.70v9.10M886.87 565.70v9.10M145.20 534.00h-9.10M145.20 444.26h-9.10M145.20 354.52h-9.10M145.20 264.78h-9.10M145.20 175.04h-9.10M145.20 85.30h-9.10" stroke="#000" stroke-width="2.07" fill="none"/>
<text x="211.30" y="608.3" text-anchor="middle" font-size="31.1">4800</text>
<text x="307.81" y="608.3" text-anchor="middle" font-size="31.1">5000</text>
<text x="404.32" y="608.3" text-anchor="middle" font-size="31.1">5200</text>
<text x="500.83" y="608.3" text-anchor="middle" font-size="31.1">5400</text>
<text x="597.34" y="608.3" text-anchor="middle" font-size="31.1">5600</text>
<text x="693.85" y="608.3" text-anchor="middle" font-size="31.1">5800</text>
<text x="790.36" y="608.3" text-anchor="middle" font-size="31.1">6000</text>
<text x="886.87" y="608.3" text-anchor="middle" font-size="31.1">6200</text>
<text x="127.10" y="546.00" text-anchor="end" font-size="31.1">3600</text>
<text x="127.10" y="456.26" text-anchor="end" font-size="31.1">3800</text>
<text x="127.10" y="366.52" text-anchor="end" font-size="31.1">4000</text>
<text x="127.10" y="276.78" text-anchor="end" font-size="31.1">4200</text>
<text x="127.10" y="187.04" text-anchor="end" font-size="31.1">4400</text>
<text x="127.10" y="97.30" text-anchor="end" font-size="31.1">4600</text>
<path d="M1097.20 565.70v9.10M1193.71 565.70v9.10M1290.22 565.70v9.10M1386.73 565.70v9.10M1483.24 565.70v9.10M1579.75 565.70v9.10M1676.26 565.70v9.10M1772.77 565.70v9.10M1869.28 565.70v9.10M1093.20 516.30h-9.10M1093.20 426.74h-9.10M1093.20 337.18h-9.10M1093.20 247.62h-9.10M1093.20 158.06h-9.10M1093.20 68.50h-9.10" stroke="#000" stroke-width="2.07" fill="none"/>
<text x="1097.20" y="608.3" text-anchor="middle" font-size="31.1">1000</text>
<text x="1193.71" y="608.3" text-anchor="middle" font-size="31.1">1200</text>
<text x="1290.22" y="608.3" text-anchor="middle" font-size="31.1">1400</text>
<text x="1386.73" y="608.3" text-anchor="middle" font-size="31.1">1600</text>
<text x="1483.24" y="608.3" text-anchor="middle" font-size="31.1">1800</text>
<text x="1579.75" y="608.3" text-anchor="middle" font-size="31.1">2000</text>
<text x="1676.26" y="608.3" text-anchor="middle" font-size="31.1">2200</text>
<text x="1772.77" y="608.3" text-anchor="middle" font-size="31.1">2400</text>
<text x="1869.28" y="608.3" text-anchor="middle" font-size="31.1">2600</text>
<text x="1075.10" y="528.30" text-anchor="end" font-size="31.1">1000</text>
<text x="1075.10" y="438.74" text-anchor="end" font-size="31.1">1200</text>
<text x="1075.10" y="349.18" text-anchor="end" font-size="31.1">1400</text>
<text x="1075.10" y="259.62" text-anchor="end" font-size="31.1">1600</text>
<text x="1075.10" y="170.06" text-anchor="end" font-size="31.1">1800</text>
<text x="1075.10" y="80.50" text-anchor="end" font-size="31.1">2000</text>
<clipPath id="cb0"><rect x="145.20" y="57.70" width="486.80" height="56.20"/></clipPath>
<path clip-path="url(#cb0)" d="M137.17 65.60h.01M147.55 65.60h.01M157.93 65.60h.01M168.31 65.60h.01M178.69 65.60h.01M189.07 65.60h.01M199.45 65.60h.01M209.83 65.60h.01M220.21 65.60h.01M230.59 65.60h.01M240.97 65.60h.01M251.35 65.60h.01M261.73 65.60h.01M272.11 65.60h.01M282.49 65.60h.01M292.87 65.60h.01M303.25 65.60h.01M313.63 65.60h.01M324.01 65.60h.01M334.39 65.60h.01M344.77 65.60h.01M355.15 65.60h.01M365.53 65.60h.01M375.91 65.60h.01M386.29 65.60h.01M396.67 65.60h.01M407.05 65.60h.01M417.43 65.60h.01M427.81 65.60h.01M438.19 65.60h.01M448.57 65.60h.01M458.95 65.60h.01M469.33 65.60h.01M479.71 65.60h.01M490.09 65.60h.01M500.47 65.60h.01M510.85 65.60h.01M521.23 65.60h.01M531.61 65.60h.01M541.99 65.60h.01M552.37 65.60h.01M562.75 65.60h.01M573.13 65.60h.01M583.51 65.60h.01M593.89 65.60h.01M604.27 65.60h.01M614.65 65.60h.01M625.03 65.60h.01M142.32 75.98h.01M152.70 75.98h.01M163.08 75.98h.01M173.46 75.98h.01M183.84 75.98h.01M194.22 75.98h.01M204.60 75.98h.01M214.98 75.98h.01M225.36 75.98h.01M235.74 75.98h.01M246.12 75.98h.01M256.50 75.98h.01M266.88 75.98h.01M277.26 75.98h.01M287.64 75.98h.01M298.02 75.98h.01M308.40 75.98h.01M318.78 75.98h.01M329.16 75.98h.01M339.54 75.98h.01M349.92 75.98h.01M360.30 75.98h.01M370.68 75.98h.01M381.06 75.98h.01M391.44 75.98h.01M401.82 75.98h.01M412.20 75.98h.01M422.58 75.98h.01M432.96 75.98h.01M443.34 75.98h.01M453.72 75.98h.01M464.10 75.98h.01M474.48 75.98h.01M484.86 75.98h.01M495.24 75.98h.01M505.62 75.98h.01M516.00 75.98h.01M526.38 75.98h.01M536.76 75.98h.01M547.14 75.98h.01M557.52 75.98h.01M567.90 75.98h.01M578.28 75.98h.01M588.66 75.98h.01M599.04 75.98h.01M609.42 75.98h.01M619.80 75.98h.01M630.18 75.98h.01M137.17 86.36h.01M147.55 86.36h.01M157.93 86.36h.01M168.31 86.36h.01M178.69 86.36h.01M189.07 86.36h.01M199.45 86.36h.01M209.83 86.36h.01M220.21 86.36h.01M230.59 86.36h.01M240.97 86.36h.01M251.35 86.36h.01M261.73 86.36h.01M272.11 86.36h.01M282.49 86.36h.01M292.87 86.36h.01M303.25 86.36h.01M313.63 86.36h.01M324.01 86.36h.01M334.39 86.36h.01M344.77 86.36h.01M355.15 86.36h.01M365.53 86.36h.01M375.91 86.36h.01M386.29 86.36h.01M396.67 86.36h.01M407.05 86.36h.01M417.43 86.36h.01M427.81 86.36h.01M438.19 86.36h.01M448.57 86.36h.01M458.95 86.36h.01M469.33 86.36h.01M479.71 86.36h.01M490.09 86.36h.01M500.47 86.36h.01M510.85 86.36h.01M521.23 86.36h.01M531.61 86.36h.01M541.99 86.36h.01M552.37 86.36h.01M562.75 86.36h.01M573.13 86.36h.01M583.51 86.36h.01M593.89 86.36h.01M604.27 86.36h.01M614.65 86.36h.01M625.03 86.36h.01M142.32 96.74h.01M152.70 96.74h.01M163.08 96.74h.01M173.46 96.74h.01M183.84 96.74h.01M194.22 96.74h.01M204.60 96.74h.01M214.98 96.74h.01M225.36 96.74h.01M235.74 96.74h.01M246.12 96.74h.01M256.50 96.74h.01M266.88 96.74h.01M277.26 96.74h.01M287.64 96.74h.01M298.02 96.74h.01M308.40 96.74h.01M318.78 96.74h.01M329.16 96.74h.01M339.54 96.74h.01M349.92 96.74h.01M360.30 96.74h.01M370.68 96.74h.01M381.06 96.74h.01M391.44 96.74h.01M401.82 96.74h.01M412.20 96.74h.01M422.58 96.74h.01M432.96 96.74h.01M443.34 96.74h.01M453.72 96.74h.01M464.10 96.74h.01M474.48 96.74h.01M484.86 96.74h.01M495.24 96.74h.01M505.62 96.74h.01M516.00 96.74h.01M526.38 96.74h.01M536.76 96.74h.01M547.14 96.74h.01M557.52 96.74h.01M567.90 96.74h.01M578.28 96.74h.01M588.66 96.74h.01M599.04 96.74h.01M609.42 96.74h.01M619.80 96.74h.01M630.18 96.74h.01M137.17 107.12h.01M147.55 107.12h.01M157.93 107.12h.01M168.31 107.12h.01M178.69 107.12h.01M189.07 107.12h.01M199.45 107.12h.01M209.83 107.12h.01M220.21 107.12h.01M230.59 107.12h.01M240.97 107.12h.01M251.35 107.12h.01M261.73 107.12h.01M272.11 107.12h.01M282.49 107.12h.01M292.87 107.12h.01M303.25 107.12h.01M313.63 107.12h.01M324.01 107.12h.01M334.39 107.12h.01M344.77 107.12h.01M355.15 107.12h.01M365.53 107.12h.01M375.91 107.12h.01M386.29 107.12h.01M396.67 107.12h.01M407.05 107.12h.01M417.43 107.12h.01M427.81 107.12h.01M438.19 107.12h.01M448.57 107.12h.01M458.95 107.12h.01M469.33 107.12h.01M479.71 107.12h.01M490.09 107.12h.01M500.47 107.12h.01M510.85 107.12h.01M521.23 107.12h.01M531.61 107.12h.01M541.99 107.12h.01M552.37 107.12h.01M562.75 107.12h.01M573.13 107.12h.01M583.51 107.12h.01M593.89 107.12h.01M604.27 107.12h.01M614.65 107.12h.01M625.03 107.12h.01" stroke="#8e8e8e" stroke-width="4.5" stroke-linecap="round" fill="none"/>
<path d="M145.20 57.70H632.00V113.90H145.20" stroke="#999" stroke-width="2.1" fill="none" stroke-linejoin="miter"/>
<clipPath id="cb1"><rect x="145.20" y="255.40" width="486.80" height="56.20"/></clipPath>
<path clip-path="url(#cb1)" d="M142.32 263.30h.01M152.70 263.30h.01M163.08 263.30h.01M173.46 263.30h.01M183.84 263.30h.01M194.22 263.30h.01M204.60 263.30h.01M214.98 263.30h.01M225.36 263.30h.01M235.74 263.30h.01M246.12 263.30h.01M256.50 263.30h.01M266.88 263.30h.01M277.26 263.30h.01M287.64 263.30h.01M298.02 263.30h.01M308.40 263.30h.01M318.78 263.30h.01M329.16 263.30h.01M339.54 263.30h.01M349.92 263.30h.01M360.30 263.30h.01M370.68 263.30h.01M381.06 263.30h.01M391.44 263.30h.01M401.82 263.30h.01M412.20 263.30h.01M422.58 263.30h.01M432.96 263.30h.01M443.34 263.30h.01M453.72 263.30h.01M464.10 263.30h.01M474.48 263.30h.01M484.86 263.30h.01M495.24 263.30h.01M505.62 263.30h.01M516.00 263.30h.01M526.38 263.30h.01M536.76 263.30h.01M547.14 263.30h.01M557.52 263.30h.01M567.90 263.30h.01M578.28 263.30h.01M588.66 263.30h.01M599.04 263.30h.01M609.42 263.30h.01M619.80 263.30h.01M630.18 263.30h.01M137.17 273.68h.01M147.55 273.68h.01M157.93 273.68h.01M168.31 273.68h.01M178.69 273.68h.01M189.07 273.68h.01M199.45 273.68h.01M209.83 273.68h.01M220.21 273.68h.01M230.59 273.68h.01M240.97 273.68h.01M251.35 273.68h.01M261.73 273.68h.01M272.11 273.68h.01M282.49 273.68h.01M292.87 273.68h.01M303.25 273.68h.01M313.63 273.68h.01M324.01 273.68h.01M334.39 273.68h.01M344.77 273.68h.01M355.15 273.68h.01M365.53 273.68h.01M375.91 273.68h.01M386.29 273.68h.01M396.67 273.68h.01M407.05 273.68h.01M417.43 273.68h.01M427.81 273.68h.01M438.19 273.68h.01M448.57 273.68h.01M458.95 273.68h.01M469.33 273.68h.01M479.71 273.68h.01M490.09 273.68h.01M500.47 273.68h.01M510.85 273.68h.01M521.23 273.68h.01M531.61 273.68h.01M541.99 273.68h.01M552.37 273.68h.01M562.75 273.68h.01M573.13 273.68h.01M583.51 273.68h.01M593.89 273.68h.01M604.27 273.68h.01M614.65 273.68h.01M625.03 273.68h.01M142.32 284.06h.01M152.70 284.06h.01M163.08 284.06h.01M173.46 284.06h.01M183.84 284.06h.01M194.22 284.06h.01M204.60 284.06h.01M214.98 284.06h.01M225.36 284.06h.01M235.74 284.06h.01M246.12 284.06h.01M256.50 284.06h.01M266.88 284.06h.01M277.26 284.06h.01M287.64 284.06h.01M298.02 284.06h.01M308.40 284.06h.01M318.78 284.06h.01M329.16 284.06h.01M339.54 284.06h.01M349.92 284.06h.01M360.30 284.06h.01M370.68 284.06h.01M381.06 284.06h.01M391.44 284.06h.01M401.82 284.06h.01M412.20 284.06h.01M422.58 284.06h.01M432.96 284.06h.01M443.34 284.06h.01M453.72 284.06h.01M464.10 284.06h.01M474.48 284.06h.01M484.86 284.06h.01M495.24 284.06h.01M505.62 284.06h.01M516.00 284.06h.01M526.38 284.06h.01M536.76 284.06h.01M547.14 284.06h.01M557.52 284.06h.01M567.90 284.06h.01M578.28 284.06h.01M588.66 284.06h.01M599.04 284.06h.01M609.42 284.06h.01M619.80 284.06h.01M630.18 284.06h.01M137.17 294.44h.01M147.55 294.44h.01M157.93 294.44h.01M168.31 294.44h.01M178.69 294.44h.01M189.07 294.44h.01M199.45 294.44h.01M209.83 294.44h.01M220.21 294.44h.01M230.59 294.44h.01M240.97 294.44h.01M251.35 294.44h.01M261.73 294.44h.01M272.11 294.44h.01M282.49 294.44h.01M292.87 294.44h.01M303.25 294.44h.01M313.63 294.44h.01M324.01 294.44h.01M334.39 294.44h.01M344.77 294.44h.01M355.15 294.44h.01M365.53 294.44h.01M375.91 294.44h.01M386.29 294.44h.01M396.67 294.44h.01M407.05 294.44h.01M417.43 294.44h.01M427.81 294.44h.01M438.19 294.44h.01M448.57 294.44h.01M458.95 294.44h.01M469.33 294.44h.01M479.71 294.44h.01M490.09 294.44h.01M500.47 294.44h.01M510.85 294.44h.01M521.23 294.44h.01M531.61 294.44h.01M541.99 294.44h.01M552.37 294.44h.01M562.75 294.44h.01M573.13 294.44h.01M583.51 294.44h.01M593.89 294.44h.01M604.27 294.44h.01M614.65 294.44h.01M625.03 294.44h.01M142.32 304.82h.01M152.70 304.82h.01M163.08 304.82h.01M173.46 304.82h.01M183.84 304.82h.01M194.22 304.82h.01M204.60 304.82h.01M214.98 304.82h.01M225.36 304.82h.01M235.74 304.82h.01M246.12 304.82h.01M256.50 304.82h.01M266.88 304.82h.01M277.26 304.82h.01M287.64 304.82h.01M298.02 304.82h.01M308.40 304.82h.01M318.78 304.82h.01M329.16 304.82h.01M339.54 304.82h.01M349.92 304.82h.01M360.30 304.82h.01M370.68 304.82h.01M381.06 304.82h.01M391.44 304.82h.01M401.82 304.82h.01M412.20 304.82h.01M422.58 304.82h.01M432.96 304.82h.01M443.34 304.82h.01M453.72 304.82h.01M464.10 304.82h.01M474.48 304.82h.01M484.86 304.82h.01M495.24 304.82h.01M505.62 304.82h.01M516.00 304.82h.01M526.38 304.82h.01M536.76 304.82h.01M547.14 304.82h.01M557.52 304.82h.01M567.90 304.82h.01M578.28 304.82h.01M588.66 304.82h.01M599.04 304.82h.01M609.42 304.82h.01M619.80 304.82h.01M630.18 304.82h.01" stroke="#8e8e8e" stroke-width="4.5" stroke-linecap="round" fill="none"/>
<path d="M145.20 255.40H632.00V311.60H145.20" stroke="#999" stroke-width="2.1" fill="none" stroke-linejoin="miter"/>
<clipPath id="cb2"><rect x="145.20" y="453.10" width="486.80" height="56.30"/></clipPath>
<path clip-path="url(#cb2)" d="M137.17 461.00h.01M147.55 461.00h.01M157.93 461.00h.01M168.31 461.00h.01M178.69 461.00h.01M189.07 461.00h.01M199.45 461.00h.01M209.83 461.00h.01M220.21 461.00h.01M230.59 461.00h.01M240.97 461.00h.01M251.35 461.00h.01M261.73 461.00h.01M272.11 461.00h.01M282.49 461.00h.01M292.87 461.00h.01M303.25 461.00h.01M313.63 461.00h.01M324.01 461.00h.01M334.39 461.00h.01M344.77 461.00h.01M355.15 461.00h.01M365.53 461.00h.01M375.91 461.00h.01M386.29 461.00h.01M396.67 461.00h.01M407.05 461.00h.01M417.43 461.00h.01M427.81 461.00h.01M438.19 461.00h.01M448.57 461.00h.01M458.95 461.00h.01M469.33 461.00h.01M479.71 461.00h.01M490.09 461.00h.01M500.47 461.00h.01M510.85 461.00h.01M521.23 461.00h.01M531.61 461.00h.01M541.99 461.00h.01M552.37 461.00h.01M562.75 461.00h.01M573.13 461.00h.01M583.51 461.00h.01M593.89 461.00h.01M604.27 461.00h.01M614.65 461.00h.01M625.03 461.00h.01M142.32 471.38h.01M152.70 471.38h.01M163.08 471.38h.01M173.46 471.38h.01M183.84 471.38h.01M194.22 471.38h.01M204.60 471.38h.01M214.98 471.38h.01M225.36 471.38h.01M235.74 471.38h.01M246.12 471.38h.01M256.50 471.38h.01M266.88 471.38h.01M277.26 471.38h.01M287.64 471.38h.01M298.02 471.38h.01M308.40 471.38h.01M318.78 471.38h.01M329.16 471.38h.01M339.54 471.38h.01M349.92 471.38h.01M360.30 471.38h.01M370.68 471.38h.01M381.06 471.38h.01M391.44 471.38h.01M401.82 471.38h.01M412.20 471.38h.01M422.58 471.38h.01M432.96 471.38h.01M443.34 471.38h.01M453.72 471.38h.01M464.10 471.38h.01M474.48 471.38h.01M484.86 471.38h.01M495.24 471.38h.01M505.62 471.38h.01M516.00 471.38h.01M526.38 471.38h.01M536.76 471.38h.01M547.14 471.38h.01M557.52 471.38h.01M567.90 471.38h.01M578.28 471.38h.01M588.66 471.38h.01M599.04 471.38h.01M609.42 471.38h.01M619.80 471.38h.01M630.18 471.38h.01M137.17 481.76h.01M147.55 481.76h.01M157.93 481.76h.01M168.31 481.76h.01M178.69 481.76h.01M189.07 481.76h.01M199.45 481.76h.01M209.83 481.76h.01M220.21 481.76h.01M230.59 481.76h.01M240.97 481.76h.01M251.35 481.76h.01M261.73 481.76h.01M272.11 481.76h.01M282.49 481.76h.01M292.87 481.76h.01M303.25 481.76h.01M313.63 481.76h.01M324.01 481.76h.01M334.39 481.76h.01M344.77 481.76h.01M355.15 481.76h.01M365.53 481.76h.01M375.91 481.76h.01M386.29 481.76h.01M396.67 481.76h.01M407.05 481.76h.01M417.43 481.76h.01M427.81 481.76h.01M438.19 481.76h.01M448.57 481.76h.01M458.95 481.76h.01M469.33 481.76h.01M479.71 481.76h.01M490.09 481.76h.01M500.47 481.76h.01M510.85 481.76h.01M521.23 481.76h.01M531.61 481.76h.01M541.99 481.76h.01M552.37 481.76h.01M562.75 481.76h.01M573.13 481.76h.01M583.51 481.76h.01M593.89 481.76h.01M604.27 481.76h.01M614.65 481.76h.01M625.03 481.76h.01M142.32 492.14h.01M152.70 492.14h.01M163.08 492.14h.01M173.46 492.14h.01M183.84 492.14h.01M194.22 492.14h.01M204.60 492.14h.01M214.98 492.14h.01M225.36 492.14h.01M235.74 492.14h.01M246.12 492.14h.01M256.50 492.14h.01M266.88 492.14h.01M277.26 492.14h.01M287.64 492.14h.01M298.02 492.14h.01M308.40 492.14h.01M318.78 492.14h.01M329.16 492.14h.01M339.54 492.14h.01M349.92 492.14h.01M360.30 492.14h.01M370.68 492.14h.01M381.06 492.14h.01M391.44 492.14h.01M401.82 492.14h.01M412.20 492.14h.01M422.58 492.14h.01M432.96 492.14h.01M443.34 492.14h.01M453.72 492.14h.01M464.10 492.14h.01M474.48 492.14h.01M484.86 492.14h.01M495.24 492.14h.01M505.62 492.14h.01M516.00 492.14h.01M526.38 492.14h.01M536.76 492.14h.01M547.14 492.14h.01M557.52 492.14h.01M567.90 492.14h.01M578.28 492.14h.01M588.66 492.14h.01M599.04 492.14h.01M609.42 492.14h.01M619.80 492.14h.01M630.18 492.14h.01M137.17 502.52h.01M147.55 502.52h.01M157.93 502.52h.01M168.31 502.52h.01M178.69 502.52h.01M189.07 502.52h.01M199.45 502.52h.01M209.83 502.52h.01M220.21 502.52h.01M230.59 502.52h.01M240.97 502.52h.01M251.35 502.52h.01M261.73 502.52h.01M272.11 502.52h.01M282.49 502.52h.01M292.87 502.52h.01M303.25 502.52h.01M313.63 502.52h.01M324.01 502.52h.01M334.39 502.52h.01M344.77 502.52h.01M355.15 502.52h.01M365.53 502.52h.01M375.91 502.52h.01M386.29 502.52h.01M396.67 502.52h.01M407.05 502.52h.01M417.43 502.52h.01M427.81 502.52h.01M438.19 502.52h.01M448.57 502.52h.01M458.95 502.52h.01M469.33 502.52h.01M479.71 502.52h.01M490.09 502.52h.01M500.47 502.52h.01M510.85 502.52h.01M521.23 502.52h.01M531.61 502.52h.01M541.99 502.52h.01M552.37 502.52h.01M562.75 502.52h.01M573.13 502.52h.01M583.51 502.52h.01M593.89 502.52h.01M604.27 502.52h.01M614.65 502.52h.01M625.03 502.52h.01" stroke="#8e8e8e" stroke-width="4.5" stroke-linecap="round" fill="none"/>
<path d="M145.20 453.10H632.00V509.40H145.20" stroke="#999" stroke-width="2.1" fill="none" stroke-linejoin="miter"/>
<clipPath id="cb3"><rect x="1093.20" y="255.40" width="487.00" height="56.40"/></clipPath>
<path clip-path="url(#cb3)" d="M1087.42 263.30h.01M1097.80 263.30h.01M1108.18 263.30h.01M1118.56 263.30h.01M1128.94 263.30h.01M1139.32 263.30h.01M1149.70 263.30h.01M1160.08 263.30h.01M1170.46 263.30h.01M1180.84 263.30h.01M1191.22 263.30h.01M1201.60 263.30h.01M1211.98 263.30h.01M1222.36 263.30h.01M1232.74 263.30h.01M1243.12 263.30h.01M1253.50 263.30h.01M1263.88 263.30h.01M1274.26 263.30h.01M1284.64 263.30h.01M1295.02 263.30h.01M1305.40 263.30h.01M1315.78 263.30h.01M1326.16 263.30h.01M1336.54 263.30h.01M1346.92 263.30h.01M1357.30 263.30h.01M1367.68 263.30h.01M1378.06 263.30h.01M1388.44 263.30h.01M1398.82 263.30h.01M1409.20 263.30h.01M1419.58 263.30h.01M1429.96 263.30h.01M1440.34 263.30h.01M1450.72 263.30h.01M1461.10 263.30h.01M1471.48 263.30h.01M1481.86 263.30h.01M1492.24 263.30h.01M1502.62 263.30h.01M1513.00 263.30h.01M1523.38 263.30h.01M1533.76 263.30h.01M1544.14 263.30h.01M1554.52 263.30h.01M1564.90 263.30h.01M1575.28 263.30h.01M1092.62 273.68h.01M1103.00 273.68h.01M1113.38 273.68h.01M1123.76 273.68h.01M1134.14 273.68h.01M1144.52 273.68h.01M1154.90 273.68h.01M1165.28 273.68h.01M1175.66 273.68h.01M1186.04 273.68h.01M1196.42 273.68h.01M1206.80 273.68h.01M1217.18 273.68h.01M1227.56 273.68h.01M1237.94 273.68h.01M1248.32 273.68h.01M1258.70 273.68h.01M1269.08 273.68h.01M1279.46 273.68h.01M1289.84 273.68h.01M1300.22 273.68h.01M1310.60 273.68h.01M1320.98 273.68h.01M1331.36 273.68h.01M1341.74 273.68h.01M1352.12 273.68h.01M1362.50 273.68h.01M1372.88 273.68h.01M1383.26 273.68h.01M1393.64 273.68h.01M1404.02 273.68h.01M1414.40 273.68h.01M1424.78 273.68h.01M1435.16 273.68h.01M1445.54 273.68h.01M1455.92 273.68h.01M1466.30 273.68h.01M1476.68 273.68h.01M1487.06 273.68h.01M1497.44 273.68h.01M1507.82 273.68h.01M1518.20 273.68h.01M1528.58 273.68h.01M1538.96 273.68h.01M1549.34 273.68h.01M1559.72 273.68h.01M1570.10 273.68h.01M1580.48 273.68h.01M1087.42 284.06h.01M1097.80 284.06h.01M1108.18 284.06h.01M1118.56 284.06h.01M1128.94 284.06h.01M1139.32 284.06h.01M1149.70 284.06h.01M1160.08 284.06h.01M1170.46 284.06h.01M1180.84 284.06h.01M1191.22 284.06h.01M1201.60 284.06h.01M1211.98 284.06h.01M1222.36 284.06h.01M1232.74 284.06h.01M1243.12 284.06h.01M1253.50 284.06h.01M1263.88 284.06h.01M1274.26 284.06h.01M1284.64 284.06h.01M1295.02 284.06h.01M1305.40 284.06h.01M1315.78 284.06h.01M1326.16 284.06h.01M1336.54 284.06h.01M1346.92 284.06h.01M1357.30 284.06h.01M1367.68 284.06h.01M1378.06 284.06h.01M1388.44 284.06h.01M1398.82 284.06h.01M1409.20 284.06h.01M1419.58 284.06h.01M1429.96 284.06h.01M1440.34 284.06h.01M1450.72 284.06h.01M1461.10 284.06h.01M1471.48 284.06h.01M1481.86 284.06h.01M1492.24 284.06h.01M1502.62 284.06h.01M1513.00 284.06h.01M1523.38 284.06h.01M1533.76 284.06h.01M1544.14 284.06h.01M1554.52 284.06h.01M1564.90 284.06h.01M1575.28 284.06h.01M1092.62 294.44h.01M1103.00 294.44h.01M1113.38 294.44h.01M1123.76 294.44h.01M1134.14 294.44h.01M1144.52 294.44h.01M1154.90 294.44h.01M1165.28 294.44h.01M1175.66 294.44h.01M1186.04 294.44h.01M1196.42 294.44h.01M1206.80 294.44h.01M1217.18 294.44h.01M1227.56 294.44h.01M1237.94 294.44h.01M1248.32 294.44h.01M1258.70 294.44h.01M1269.08 294.44h.01M1279.46 294.44h.01M1289.84 294.44h.01M1300.22 294.44h.01M1310.60 294.44h.01M1320.98 294.44h.01M1331.36 294.44h.01M1341.74 294.44h.01M1352.12 294.44h.01M1362.50 294.44h.01M1372.88 294.44h.01M1383.26 294.44h.01M1393.64 294.44h.01M1404.02 294.44h.01M1414.40 294.44h.01M1424.78 294.44h.01M1435.16 294.44h.01M1445.54 294.44h.01M1455.92 294.44h.01M1466.30 294.44h.01M1476.68 294.44h.01M1487.06 294.44h.01M1497.44 294.44h.01M1507.82 294.44h.01M1518.20 294.44h.01M1528.58 294.44h.01M1538.96 294.44h.01M1549.34 294.44h.01M1559.72 294.44h.01M1570.10 294.44h.01M1580.48 294.44h.01M1087.42 304.82h.01M1097.80 304.82h.01M1108.18 304.82h.01M1118.56 304.82h.01M1128.94 304.82h.01M1139.32 304.82h.01M1149.70 304.82h.01M1160.08 304.82h.01M1170.46 304.82h.01M1180.84 304.82h.01M1191.22 304.82h.01M1201.60 304.82h.01M1211.98 304.82h.01M1222.36 304.82h.01M1232.74 304.82h.01M1243.12 304.82h.01M1253.50 304.82h.01M1263.88 304.82h.01M1274.26 304.82h.01M1284.64 304.82h.01M1295.02 304.82h.01M1305.40 304.82h.01M1315.78 304.82h.01M1326.16 304.82h.01M1336.54 304.82h.01M1346.92 304.82h.01M1357.30 304.82h.01M1367.68 304.82h.01M1378.06 304.82h.01M1388.44 304.82h.01M1398.82 304.82h.01M1409.20 304.82h.01M1419.58 304.82h.01M1429.96 304.82h.01M1440.34 304.82h.01M1450.72 304.82h.01M1461.10 304.82h.01M1471.48 304.82h.01M1481.86 304.82h.01M1492.24 304.82h.01M1502.62 304.82h.01M1513.00 304.82h.01M1523.38 304.82h.01M1533.76 304.82h.01M1544.14 304.82h.01M1554.52 304.82h.01M1564.90 304.82h.01M1575.28 304.82h.01" stroke="#8e8e8e" stroke-width="4.5" stroke-linecap="round" fill="none"/>
<path d="M1093.20 255.40H1580.20V311.80H1093.20" stroke="#999" stroke-width="2.1" fill="none" stroke-linejoin="miter"/>
<rect x="145.20" y="1.00" width="790.20" height="564.70" fill="none" stroke="#000" stroke-width="2.07"/>
<rect x="1093.20" y="1.00" width="790.50" height="564.70" fill="none" stroke="#000" stroke-width="2.07"/>
<text x="157.9" y="45.5" font-size="42.5">(a)</text>
<text x="1103.4" y="45.7" font-size="42.5">(b)</text>
<text x="495.20" y="653.2" font-family="'Liberation Serif','DejaVu Serif',serif" font-style="italic" font-size="35" transform="translate(495.20 0) scale(1.22 1) translate(-495.20 0)">x</text>
<text x="526.30" y="653.7" font-size="36.5">[m]</text>
<text x="1443.20" y="653.2" font-family="'Liberation Serif','DejaVu Serif',serif" font-style="italic" font-size="35" transform="translate(1443.20 0) scale(1.22 1) translate(-1443.20 0)">x</text>
<text x="1474.30" y="653.7" font-size="36.5">[m]</text>
<g transform="translate(28.4,328.6) rotate(-90)">
<text x="1" y="0" font-family="'Liberation Serif','DejaVu Serif',serif" font-style="italic" font-size="34" transform="scale(1.15 1)">y</text>
<text x="28.3" y="0" font-size="36.5">[m]</text>
</g>
<path d="M308.10 383.00V439.20M308.10 383.00V327.20M505.70 412.50V439.20M505.70 550.20V524.60M1242.20 214.60V241.50M1242.20 352.70V327.20" stroke="#000" stroke-width="3.2" fill="none"/>
<path d="M308.10 454.50L301.90 437.50L314.30 437.50ZM308.10 311.90L301.90 328.90L314.30 328.90ZM505.70 454.50L499.50 437.50L511.90 437.50ZM505.70 509.30L499.50 526.30L511.90 526.30ZM1242.20 256.80L1236.00 239.80L1248.40 239.80ZM1242.20 311.90L1236.00 328.90L1248.40 328.90Z" fill="#000"/>
<g font-family="'Liberation Serif','DejaVu Serif',serif">
<text x="316.70" y="393.80" font-size="45.3" transform="translate(316.70 0) scale(1.17 1) translate(-316.70 0)">Δ</text>
<text x="349.30" y="395.20" font-size="44.0" font-style="italic">U</text>
<rect x="351.30" y="358.50" width="28.5" height="2.1"/>
<text x="380.30" y="402.40" font-size="31.5" font-style="italic" letter-spacing="1.3">inter</text>
</g>
<g font-family="'Liberation Serif','DejaVu Serif',serif">
<text x="516.80" y="438.30" font-size="45.3" transform="translate(516.80 0) scale(1.17 1) translate(-516.80 0)">Δ</text>
<text x="549.40" y="439.70" font-size="44.0" font-style="italic">U</text>
<rect x="551.40" y="403.00" width="28.5" height="2.1"/>
<text x="580.40" y="446.90" font-size="31.5" font-style="italic" letter-spacing="1.3">intra</text>
</g>
<g font-family="'Liberation Serif','DejaVu Serif',serif">
<text x="1253.80" y="240.60" font-size="45.3" transform="translate(1253.80 0) scale(1.17 1) translate(-1253.80 0)">Δ</text>
<text x="1286.40" y="242.00" font-size="44.0" font-style="italic">U</text>
<rect x="1288.40" y="205.30" width="28.5" height="2.1"/>
<text x="1317.40" y="249.20" font-size="31.5" font-style="italic" letter-spacing="1.3">intra</text>
</g>
<linearGradient id="cbg" x1="0" y1="0" x2="0" y2="1"><stop offset="0.0000" stop-color="#c2ddec"/><stop offset="0.0250" stop-color="#cce2ef"/><stop offset="0.0500" stop-color="#d4e6f1"/><stop offset="0.0750" stop-color="#dae9f2"/><stop offset="0.1000" stop-color="#e0ecf3"/><stop offset="0.1250" stop-color="#e6eff4"/><stop offset="0.1500" stop-color="#ecf2f5"/><stop offset="0.1750" stop-color="#f2f5f6"/><stop offset="0.2000" stop-color="#f6f7f7"/><stop offset="0.2250" stop-color="#f8f3f0"/><stop offset="0.2500" stop-color="#f9efe9"/><stop offset="0.2750" stop-color="#faeae1"/><stop offset="0.3000" stop-color="#fbe6da"/><stop offset="0.3250" stop-color="#fce2d2"/><stop offset="0.3500" stop-color="#fdddcb"/><stop offset="0.3750" stop-color="#fcd7c2"/><stop offset="0.4000" stop-color="#fbceb7"/><stop offset="0.4250" stop-color="#f9c6ac"/><stop offset="0.4500" stop-color="#f8bda1"/><stop offset="0.4750" stop-color="#f7b596"/><stop offset="0.5000" stop-color="#f5ac8b"/><stop offset="0.5250" stop-color="#f3a481"/><stop offset="0.5500" stop-color="#ef9979"/><stop offset="0.5750" stop-color="#ea8e70"/><stop offset="0.6000" stop-color="#e58368"/><stop offset="0.6250" stop-color="#e17860"/><stop offset="0.6500" stop-color="#dc6e57"/><stop offset="0.6750" stop-color="#d7634f"/><stop offset="0.7000" stop-color="#d25849"/><stop offset="0.7250" stop-color="#cc4c44"/><stop offset="0.7500" stop-color="#c6413e"/><stop offset="0.7750" stop-color="#c13639"/><stop offset="0.8000" stop-color="#bb2a34"/><stop offset="0.8250" stop-color="#b61f2e"/><stop offset="0.8500" stop-color="#ae172a"/><stop offset="0.8750" stop-color="#a21328"/><stop offset="0.9000" stop-color="#960f27"/><stop offset="0.9250" stop-color="#8a0b25"/><stop offset="0.9500" stop-color="#7f0823"/><stop offset="0.9750" stop-color="#730421"/><stop offset="1.0000" stop-color="#67001f"/></linearGradient>
<rect x="1928.70" y="23.90" width="33.60" height="523.60" fill="url(#cbg)" stroke="#000" stroke-width="2.07"/>
<text x="1980.5" y="34.20" font-size="25.9">1</text>
<text x="1980.5" y="138.92" font-size="25.9">0</text>
<text x="1980.5" y="243.64" font-size="25.9">−1</text>
<text x="1980.5" y="348.36" font-size="25.9">−2</text>
<text x="1980.5" y="453.08" font-size="25.9">−3</text>
<text x="1980.5" y="557.80" font-size="25.9">−4</text>
<path d="M1962.30 23.90h9.10M1962.30 128.62h9.10M1962.30 233.34h9.10M1962.30 338.06h9.10M1962.30 442.78h9.10M1962.30 547.50h9.10" stroke="#000" stroke-width="2.07" fill="none"/>
<g transform="translate(2062,381.3) rotate(-90)">
<text x="-2" y="0" font-family="'Liberation Serif','DejaVu Serif',serif" font-size="37.4" transform="translate(-2 0) scale(1.17 1) translate(2 0)">Δ</text>
<text x="26.6" y="1.1" font-family="'Liberation Serif','DejaVu Serif',serif" font-size="36.3" font-style="italic">U</text>
<rect x="28.3" y="-32.8" width="24.4" height="1.9"/>
<text x="64.4" y="0" font-size="36.3">[m s<tspan dx="1.8" dy="-13.2" font-size="24">−</tspan><tspan dx="-2" font-size="24">1</tspan><tspan dx="1.2" dy="13.2">]</tspan></text>
</g>
</svg>
</div>
</body></html>
